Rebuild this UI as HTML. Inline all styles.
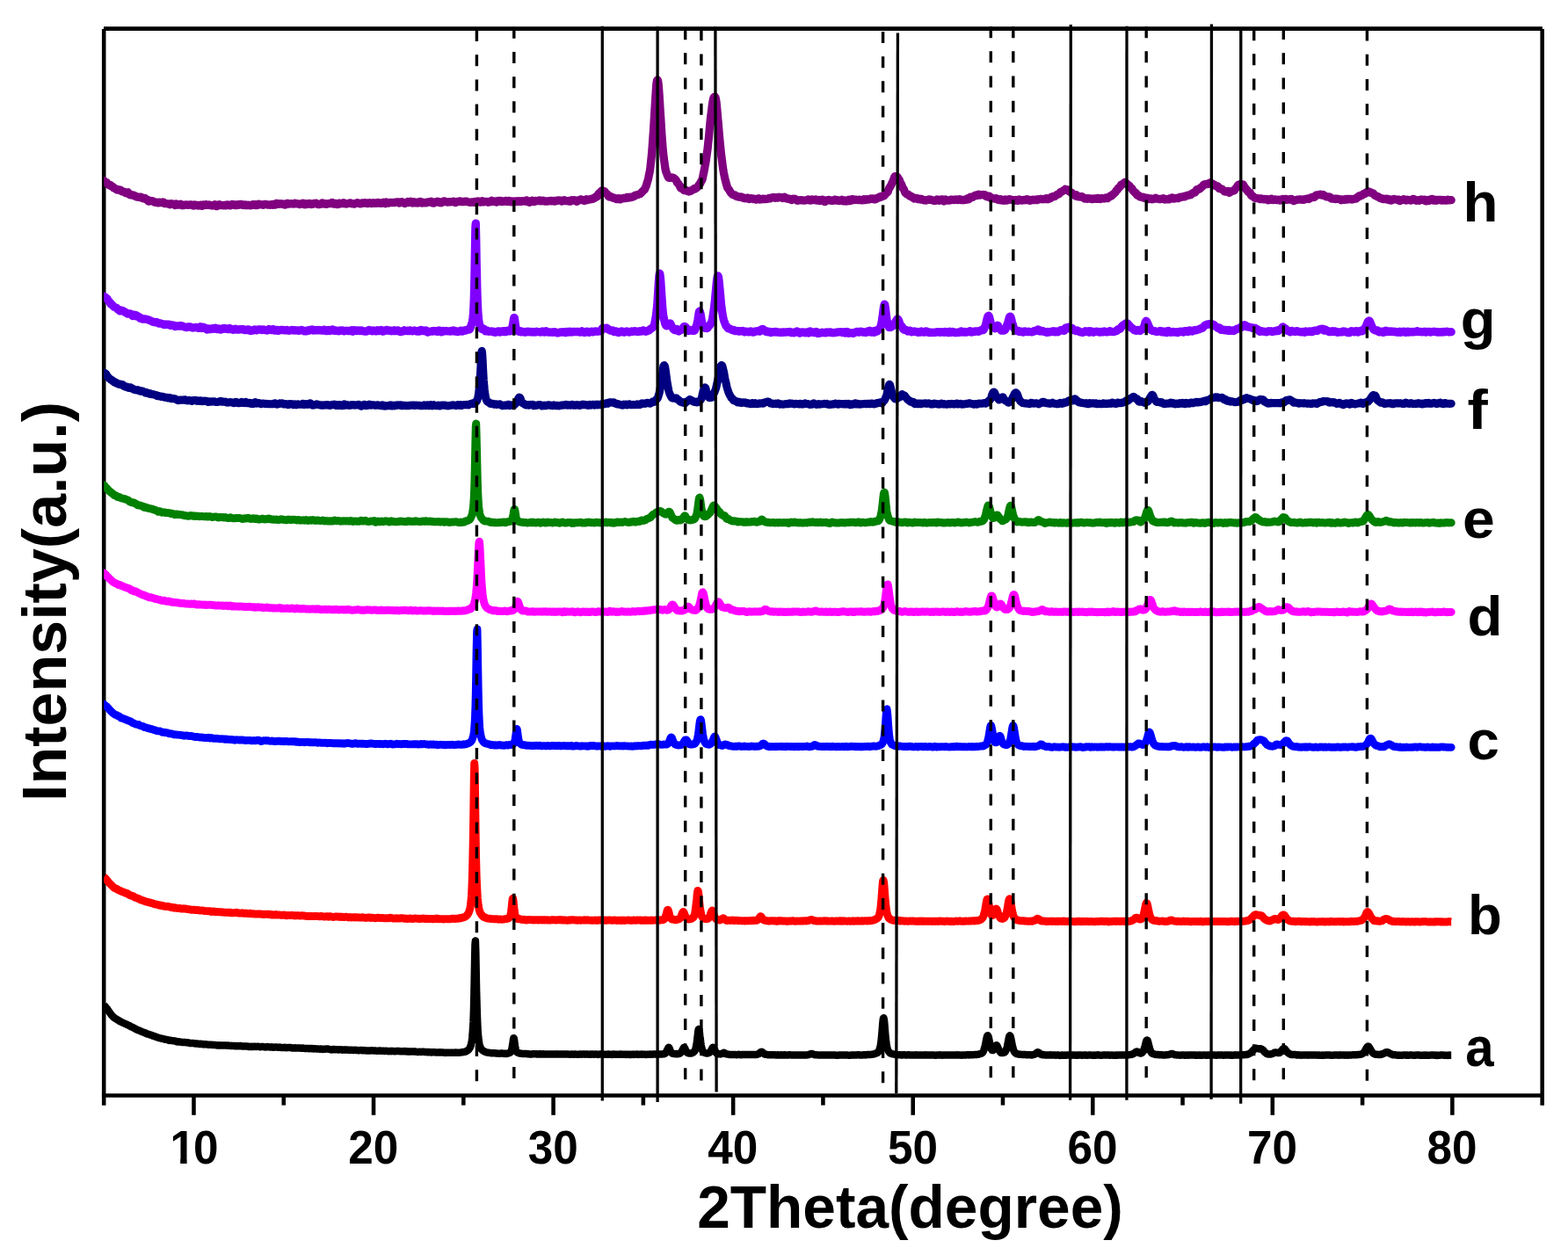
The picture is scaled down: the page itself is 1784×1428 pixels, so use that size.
<!DOCTYPE html>
<html lang="en"><head><meta charset="utf-8"><title>XRD patterns</title>
<style>html,body{margin:0;padding:0;background:#fff;}body{width:1784px;height:1428px;overflow:hidden;}svg{display:block;}text{font-family:"Liberation Sans",sans-serif;font-weight:bold;fill:#000;}.c{fill:none;stroke-linejoin:round;}</style></head><body>
<svg width="1784" height="1428" viewBox="0 0 1784 1428">
<rect width="1784" height="1428" fill="#fff"/>
<g stroke="#000" stroke-width="4.55" fill="none" stroke-linecap="butt">
<line x1="118.0" y1="32.6" x2="1754.9" y2="32.6"/>
<line x1="115.9" y1="1246.4" x2="1756.9" y2="1246.4"/>
<line x1="118.2" y1="32.9" x2="118.2" y2="1257.7"/>
<line x1="1754.7" y1="32.9" x2="1754.7" y2="1257.7"/>
<line x1="220.48" y1="1246.4" x2="220.48" y2="1268.8"/>
<line x1="425.03" y1="1246.4" x2="425.03" y2="1268.8"/>
<line x1="629.59" y1="1246.4" x2="629.59" y2="1268.8"/>
<line x1="834.15" y1="1246.4" x2="834.15" y2="1268.8"/>
<line x1="1038.70" y1="1246.4" x2="1038.70" y2="1268.8"/>
<line x1="1243.26" y1="1246.4" x2="1243.26" y2="1268.8"/>
<line x1="1447.82" y1="1246.4" x2="1447.82" y2="1268.8"/>
<line x1="1652.37" y1="1246.4" x2="1652.37" y2="1268.8"/>
<line x1="322.76" y1="1246.4" x2="322.76" y2="1257.6"/>
<line x1="527.31" y1="1246.4" x2="527.31" y2="1257.6"/>
<line x1="731.87" y1="1246.4" x2="731.87" y2="1257.6"/>
<line x1="936.43" y1="1246.4" x2="936.43" y2="1257.6"/>
<line x1="1140.98" y1="1246.4" x2="1140.98" y2="1257.6"/>
<line x1="1345.54" y1="1246.4" x2="1345.54" y2="1257.6"/>
<line x1="1550.09" y1="1246.4" x2="1550.09" y2="1257.6"/>
</g>
<defs><clipPath id="cp"><rect x="118.2" y="0" width="1700" height="1428"/></clipPath></defs><g clip-path="url(#cp)">
<path class="c" transform="scale(.1)" stroke="#000000" stroke-width="85.0" stroke-linecap="butt" d="M1182 11438l4 4 4 4 4 5 4 5 5 5 4 5 4 5 4 4 4 5 4 5 4 6 4 6 4 5 4 7 5 6 4 6 4 6 4 5 4 5 4 6 4 5 4 5 4 4 4 5 5 4 4 5 4 4 4 3 4 3 4 2 4 3 4 3 4 3 4 2 5 3 4 2 4 3 4 3 4 2 4 2 4 3 4 2 4 3 4 3 5 1 4 2 4 2 4 3 4 2 4 2 4 2 4 2 4 1 4 2 5 2 4 2 4 2 4 2 4 2 4 1 4 2 4 2 4 2 4 2 5 2 4 2 4 2 4 1 4 2 4 2 4 2 4 3 4 2 4 3 5 3 4 2 4 1 4 1 4 2 4 2 4 2 4 2 4 3 4 2 5 1 4 2 4 3 4 2 4 3 4 3 4 2 4 2 4 1 4 2 5 1 4 2 4 1 4 2 4 2 4 2 4 1 4 2 4 2 4 2 5 2 4 1 4 2 4 1 4 2 4 1 4 2 4 1 4 2 4 1 5 2 4 2 4 3 4 2 4 2 4 2 4 1 4 1 4 0 4 1 5 1 4 1 4 2 4 2 4 1 4 1 4 1 4 2 4 1 4 2 5 2 4 2 4 1 4 1 4 1 4 2 4 2 4 1 4 2 4 2 5 1 4 1 4 1 4 1 4 2 4 1 4 2 4 1 4 1 4 2 5 1 4 1 4 1 4 1 4 1 4 1 4 0 4 1 4 1 4 1 5 1 4 1 4 1 4 1 4 2 4 1 4 1 4 1 4 1 4 0 5 1 4 0 4 1 4 1 4 2 4 2 4 1 4 1 4-1 4 0 5 0 4 0 4 1 4 1 4 1 4 1 4 0 4 0 4 1 4 0 5 1 4 0 4 0 4 1 4 1 4 2 4 3 4 2 4 1 4 1 5-1 4 0 4-1 4 0 4 0 4 1 4 1 4 1 4 1 4 0 5 1 4 0 4 1 4 0 4 1 4 0 4-1 4 1 4 0 4 1 5 0 4 0 4 1 4 0 4 1 4 0 4 0 4 0 4 0 4 1 5 1 4 2 4 1 4 1 4 0 4 0 4 0 4 1 4 0 4 0 5 0 4 0 4 0 4 0 4 0 4 1 4 1 4 1 4 1 4 0 5 1 4 0 4 0 4 0 4 1 4 0 4 1 4 0 4 1 4 1 5 0 4 0 4-1 4 0 4 0 4 1 4 0 4 0 4 1 4 0 5 1 4 2 4 1 4-1 4 0 4 0 4-1 4 0 4 1 4 0 5 1 4 1 4 1 4 0 4 1 4 0 4 0 4 0 4 0 4 0 5 0 4 0 4 1 4 0 4 0 4 0 4 1 4 0 4 0 4 0 5 1 4 0 4 0 4 0 4 0 4 1 4 1 4 1 4 0 4 1 5 0 4 0 4 0 4-1 4 0 4 0 4 1 4 1 4 0 4 1 5 0 4 0 4-1 4 0 4 0 4 0 4 0 4 1 4 0 4 0 5 0 4 0 4 0 4 0 4 0 4 0 4 1 4 0 4 0 4-1 5 0 4 1 4 0 4 1 4 1 4 1 4 0 4-1 4 0 4-1 5 1 4 1 4 1 4 0 4 0 4 0 4 0 4 0 4 1 4 0 5 0 4 0 4-1 4 0 4 0 4 1 4 1 4 0 4 0 4 0 5-1 4 0 4-1 4 0 4 0 4 0 4 1 4 1 4 1 4 0 5 0 4 1 4 0 4 0 4 0 4 0 4 1 4 0 4-1 4 0 5 0 4 0 4 0 4 0 4 1 4 2 4 1 4 0 4-1 4 1 5 0 4 2 4 0 4-1 4-2 4 0 4 0 4 1 4 0 4 0 5 0 4-1 4 0 4 0 4 0 4 0 4 1 4 0 4 0 4 0 5-1 4 0 4 0 4 0 4 1 4 1 4 1 4 0 4 1 4 0 5 0 4-1 4-1 4-1 4 0 4 1 4 1 4 0 4 0 4 1 5 1 4 0 4 1 4 0 4 0 4-1 4 0 4-1 4-1 4 0 5 1 4 0 4 1 4 0 4 1 4 1 4 0 4 0 4-1 4 0 5-1 4 0 4 1 4 1 4 2 4 0 4 0 4 0 4-1 4 0 5 0 4 0 4 0 4 0 4 0 4 0 4 0 4 1 4 0 4 0 5 0 4 0 4 0 4-1 4 1 4 1 4 1 4 0 4 0 4 0 5 0 4 0 4 0 4 0 4 0 4 0 4-1 4 0 4 1 4 1 5 1 4 1 4 0 4-1 4-1 4 0 4 0 4 1 4 0 4 0 5 0 4 0 4 0 4 0 4 0 4 1 4 1 4 2 4 1 4 0 5-1 4 0 4 0 4-1 4-1 4 0 4 0 4 1 4 0 4 0 5 0 4 1 4 0 4 1 4-1 4 0 4 0 4-1 4 0 4 0 5 1 4 1 4 1 4 1 4 0 4-1 4-1 4 0 4 0 4 0 5 2 4 1 4 1 4 0 4 0 4-1 4 0 4 0 4 0 4 0 5 1 4 0 4 1 4 0 4 1 4 0 4 0 4-1 4 0 4 0 5 0 4 1 4 0 4-1 4 0 4 1 4 1 4 1 4 0 4-1 5-1 4 0 4 1 4 0 4 1 4 0 4 0 4 0 4 0 4 1 5 0 4 0 4 1 4 1 4 0 4 0 4-1 4 0 4 0 4 1 5 1 4 1 4 0 4-1 4-1 4 0 4 0 4 0 4 0 4 0 5 0 4-1 4 0 4 0 4 0 4 0 4 0 4 0 4 1 4 1 5 1 4 1 4 0 4 1 4 1 4 1 4 1 4 0 4-1 4-1 5-1 4 0 4 0 4 1 4-1 4 0 4 1 4 0 4 1 4 0 5 0 4 0 4 0 4 0 4 0 4 1 4 0 4 0 4 0 4-1 5 0 4 0 4 0 4 0 4 1 4 1 4 1 4 1 4 0 4-1 5 0 4 0 4 0 4 0 4 1 4-1 4 0 4 0 4 0 4 0 5 0 4 1 4 0 4 0 4 0 4 0 4 0 4 0 4 0 4 0 5 0 4 0 4 0 4 0 4 1 4 0 4 1 4 0 4 0 4 0 5-1 4 0 4 0 4 0 4 1 4 1 4 1 4 0 4 0 4 0 5 1 4 0 4 0 4 0 4-1 4-1 4 0 4 0 4 1 4 0 5 1 4 0 4 0 4-1 4 0 4 1 4 0 4 1 4 0 4 0 5 0 4 0 4 1 4 0 4 1 4 0 4-1 4 0 4 0 4 0 5 0 4 0 4 0 4 0 4 1 4-1 4 0 4-1 4 0 4 0 5 1 4 1 4 0 4 0 4 0 4 0 4 0 4 1 4 0 4 0 5 1 4 0 4 1 4 0 4 0 4-1 4 0 4 0 4-1 4-1 5 0 4 1 4 0 4 1 4 1 4 0 4 0 4 0 4 0 4-1 5 0 4 1 4 0 4 1 4 0 4 0 4-1 4 0 4 0 4 0 5 1 4 0 4 0 4 0 4 1 4 2 4 0 4 0 4-1 4-1 5 0 4 1 4 0 4 1 4-1 4 0 4-1 4 0 4 1 4 0 5 1 4 0 4 0 4 0 4 0 4-1 4 0 4 0 4 0 4 0 5 0 4-1 4 0 4 0 4 0 4 0 4 2 4 0 4 1 4 0 5 0 4 0 4 0 4 0 4 0 4 0 4-1 4 0 4 0 4-1 5 0 4 1 4 1 4 1 4 1 4 0 4-1 4-1 4 0 4 1 5 1 4 1 4 1 4-1 4 0 4 0 4 0 4 0 4 0 4 0 5 0 4 0 4-1 4 0 4 0 4 0 4 1 4 0 4-1 4 1 5 0 4 1 4 1 4 0 4 1 4 0 4 0 4 0 4 0 4 0 5-1 4 0 4 0 4 1 4 1 4 0 4 0 4-1 4-1 4-1 5 0 4 0 4 1 4 1 4 1 4 1 4 0 4 0 4 0 4 0 5 0 4 1 4 0 4 0 4 0 4-1 4 0 4 0 4 1 4 0 5 0 4 0 4 1 4 1 4 0 4 0 4-1 4 0 4 0 4 0 5 0 4 0 4 0 4 0 4 0 4 1 4 0 4 0 4 0 4 1 5 0 4 0 4 0 4 0 4-1 4 0 4 0 4-1 4 0 4 1 5 0 4 1 4 1 4 0 4 0 4 0 4 0 4 0 4 1 4 0 5 1 4 0 4 0 4 1 4-1 4 0 4-1 4 0 4 0 4 0 5 0 4 0 4 0 4 0 4 0 4 0 4 1 4 0 4 0 4 0 5 0 4-1 4 1 4 0 4 0 4 0 4 0 4-1 4 0 4 0 5 0 4-1 4 0 4 1 4 0 4 0 4 0 4 0 4 0 4 0 5 0 4 0 4 0 4 0 4-1 4-1 4 0 4-1 4-1 4 0 5 0 4-1 4-1 4 0 4-1 4 0 4-1 4-1 4-1 4-2 5-2 4-3 4-2 4-2 4-3 4-2 4-3 4-4 4-5 4-6 5-7 4-8 4-9 4-11 4-13 4-18 4-23 4-32 4-42 4-60 5-83 4-117 4-157 4-201 4-225 4-181 4-40 4 129 4 218 4 217 5 178 4 132 4 96 4 69 4 50 4 37 4 27 4 20 4 17 4 13 5 10 4 9 4 7 4 5 4 4 4 4 4 3 4 2 4 3 4 4 5 3 4 2 4 2 4 1 4 1 4 1 4 2 4 2 4 1 4 1 5 1 4 0 4 0 4 1 4 1 4 1 4 0 4 1 4 0 4 1 5 1 4 0 4 0 4 0 4 0 4 0 4 0 4 0 4 0 4 0 5 0 4 1 4 1 4 0 4 1 4 0 4 0 4 0 4 1 4 1 5 0 4 0 4 0 4 0 4 0 4-1 4 0 4-1 4 0 4 0 5 0 4 0 4 1 4 0 4 1 4 1 4 0 4-1 4-1 4 0 5 1 4 1 4 0 4 0 4-1 4-1 4-2 4-1 4-1 4-1 5-2 4-1 4-2 4-3 4-5 4-8 4-10 4-15 4-20 4-26 5-31 4-30 4-17 4 5 4 25 4 31 4 29 4 24 4 18 4 13 5 9 4 5 4 3 4 3 4 1 4 2 4 2 4 1 4 1 4 1 5 1 4 1 4 1 4 0 4 0 4 0 4 1 4 0 4 0 4 0 5 0 4 1 4 1 4 0 4 0 4-1 4 0 4 0 4 0 4 1 5 1 4 1 4 0 4 0 4 0 4 1 4 0 4 0 4 0 4 0 5 0 4 0 4 0 4 0 4-1 4 0 4-1 4 0 4 1 4 0 5 0 4 0 4-1 4 0 4 0 4 1 4 1 4 0 4 0 4 0 5 0 4-1 4 0 4 1 4 0 4-1 4-1 4 0 4 1 4 2 5 0 4 0 4 0 4-1 4-1 4 0 4 0 4 2 4 1 4 0 5-1 4 0 4-1 4 0 4 1 4 0 4-1 4 0 4 1 4 0 5 0 4 0 4-1 4 0 4 0 4 0 4 0 4 0 4 0 4 1 5 0 4 0 4-1 4 0 4 0 4 1 4 0 4 0 4 0 4 0 5 1 4-1 4 0 4 0 4 1 4 0 4 0 4 0 4 0 4 0 5-1 4 0 4 0 4 0 4 0 4 1 4 0 4 0 4 0 4 0 5-1 4-1 4 0 4 0 4 0 4 0 4 0 4 0 4 1 4 0 5 0 4 0 4-1 4 1 4 0 4 1 4 1 4 0 4 1 4 0 5-1 4-1 4-1 4 0 4 0 4 0 4 2 4 1 4 0 4-1 5-1 4 0 4 0 4 0 4 0 4 1 4 0 4 0 4 0 4 0 5 0 4 0 4 1 4 0 4-1 4-1 4 0 4 0 4 0 4 0 5 1 4 0 4-1 4 0 4 0 4 0 4 0 4 0 4 0 4 0 5 0 4 1 4 0 4-1 4-1 4 0 4 0 4 1 4 0 4 1 5 0 4 0 4 0 4 0 4 0 4-1 4 0 4 0 4 1 4 0 5-1 4 0 4 0 4 0 4 1 4 0 4 0 4-1 4-1 4 0 5 0 4 1 4 0 4 1 4 1 4 1 4 1 4-1 4-1 4-1 5 0 4-1 4 0 4-1 4 0 4 1 4 0 4 0 4 1 4 1 5 0 4 0 4-1 4 0 4 0 4 0 4 0 4 1 4-1 4 0 5 0 4 0 4 0 4 0 4-1 4 0 4 0 4 1 4 0 4 0 5 0 4 0 4 0 4 1 4 1 4 0 4-1 4-1 4 0 4-1 5 0 4 0 4 1 4 0 4 0 4 0 4 0 4 1 4 0 4 0 5 0 4 0 4 0 4 0 4-1 4 0 4 0 4 0 4-1 4 0 5 0 4 1 4 0 4 0 4 0 4 0 4 0 4 0 4 1 4 0 5 0 4 0 4 0 4 1 4 0 4-1 4 0 4-1 4 0 4 0 5 1 4 0 4 1 4 0 4 0 4-1 4 0 4 0 4 1 4 0 5-1 4 0 4 0 4 0 4 1 4-1 4 0 4 0 4 0 4 0 5 0 4 0 4-1 4-1 4-1 4 0 4 1 4 1 4 2 4 0 5-1 4-1 4 0 4 0 4 0 4 0 4 0 4-1 4 0 4 1 5 0 4 1 4 0 4-1 4 0 4 1 4 0 4 0 4 0 4 1 5 0 4 0 4-1 4 0 4-1 4 0 4 0 4 0 4 0 4 0 5-1 4 0 4 0 4 1 4 0 4 1 4 0 4-1 4-1 4 0 5 0 4 0 4 0 4 0 4 0 4 0 4 0 4 0 4 0 4 1 5 0 4 0 4-1 4-1 4-1 4 0 4 0 4 1 4 0 4 0 5 0 4 0 4 0 4-1 4 0 4 0 4-1 4 0 4 0 4 0 5-1 4-2 4-2 4-4 4-4 4-5 4-7 4-8 4-9 4-10 5-9 4-9 4-5 4 1 4 6 4 10 4 11 4 11 4 9 4 7 5 5 4 4 4 3 4 2 4 1 4 2 4 0 4 1 4 0 4 0 5 1 4 0 4 0 4 0 4-1 4 0 4 1 4 0 4 0 4 0 5-1 4-1 4-2 4-2 4-2 4-3 4-4 4-5 4-5 4-6 5-8 4-8 4-9 4-8 4-7 4-2 4 2 4 6 4 8 4 10 5 8 4 8 4 7 4 5 4 4 4 3 4 2 4 1 4 1 4 0 5 0 4 0 4 0 4 0 4 0 4 0 4 0 4-2 4-2 4-3 5-2 4-2 4-3 4-4 4-5 4-7 4-9 4-12 4-16 4-21 5-25 4-31 4-35 4-36 4-33 4-22 4-5 4 15 4 28 4 36 5 36 4 34 4 28 4 24 4 18 4 15 4 11 4 8 4 5 4 3 5 3 4 3 4 2 4 2 4 1 4 2 4 1 4 1 4 0 4 0 5 0 4-1 4-1 4-2 4-1 4-2 4-3 4-4 4-4 4-6 5-8 4-8 4-9 4-8 4-7 4-3 4 0 4 5 4 8 4 9 5 8 4 9 4 8 4 7 4 7 4 4 4 3 4 3 4 2 4 1 5 0 4 1 4 0 4-1 4 1 4 0 4 1 4-1 4-1 4-2 5-1 4-2 4-2 4-3 4-2 4-2 4 0 4 2 4 3 4 4 5 3 4 2 4 1 4 0 4 1 4 0 4 1 4 1 4 1 4 1 5 1 4 0 4 0 4 0 4 0 4 0 4 0 4 1 4 0 4-1 5 0 4 0 4 1 4 0 4 0 4-1 4 0 4 0 4 1 4 1 5 1 4 0 4 0 4-1 4-1 4-1 4-1 4 0 4 1 4 1 5 1 4 1 4 0 4 0 4 0 4-1 4 0 4 0 4-1 4-1 5 0 4 0 4 1 4 0 4 1 4 0 4 0 4 0 4 0 4 0 5 0 4 0 4 0 4 0 4-1 4 0 4 0 4 0 4 0 4 0 5-1 4 0 4 1 4 0 4 0 4 0 4 0 4 0 4 1 4 0 5 0 4-1 4-1 4 0 4 1 4 0 4 0 4-1 4-2 4-1 5-2 4-1 4-2 4-2 4-3 4-4 4-5 4-3 4-3 4-2 5-1 4 1 4 2 4 3 4 4 4 4 4 4 4 4 4 3 4 2 5 2 4 0 4 0 4 1 4 0 4 2 4 1 4 1 4 0 4 0 5 0 4 0 4 0 4 0 4 1 4 0 4 0 4 0 4 0 4 0 5 0 4 0 4 0 4 0 4 0 4 0 4-1 4 1 4 0 4 1 5 0 4 0 4 0 4 0 4-1 4 0 4 0 4 1 4 1 4 0 5 0 4 0 4 0 4-1 4-1 4 0 4 0 4 1 4 0 4 0 5 0 4 0 4-1 4 0 4 0 4 0 4 1 4 0 4 0 4 0 5 1 4 0 4 1 4-1 4-1 4 0 4-1 4 0 4-1 4 0 5 1 4 1 4 0 4 0 4 0 4 1 4 0 4 0 4 1 4 0 5 0 4-1 4 0 4 0 4 1 4 0 4-1 4 0 4 0 4-1 5 0 4 0 4 0 4 0 4 1 4 1 4 0 4 0 4 0 4-1 5 0 4 0 4 0 4 0 4 0 4-1 4 0 4 0 4 1 4 0 5 0 4 0 4 1 4 0 4 0 4-1 4-1 4-1 4 0 4-1 5-1 4-2 4-1 4-1 4-1 4-1 4-2 4-2 4-1 4 0 5 1 4 1 4 1 4 2 4 1 4 2 4 1 4 2 4 1 4 1 5-1 4 0 4 0 4 1 4 0 4 1 4 1 4 0 4-1 4 0 5 0 4 1 4 1 4 0 4-1 4 0 4 0 4 1 4 0 4 0 5 0 4 0 4 0 4 0 4 0 4-1 4 0 4-1 4 0 4 1 5 0 4 1 4 0 4 0 4 0 4 0 4 0 4-1 4 0 4 0 5 0 4 0 4 0 4 0 4 1 4 0 4 0 4-1 4 1 4 0 5 0 4-1 4-1 4 0 4 0 4 1 4 1 4 1 4 1 4 0 5 0 4 0 4 0 4-1 4-1 4 0 4 0 4 0 4 0 4 0 5 0 4 0 4 0 4-1 4 0 4-1 4 0 4 0 4 0 4 0 5 0 4 1 4 0 4 0 4-1 4 0 4 1 4 0 4 1 4 0 5 1 4 0 4 1 4 0 4 0 4 0 4-1 4 0 4-1 4 0 5 0 4 0 4-1 4 0 4 0 4 0 4 0 4 0 4 0 4 1 5 0 4-1 4 0 4-1 4 0 4-1 4 0 4 0 4-1 4 0 5 1 4 1 4 0 4 0 4 0 4 0 4 0 4 1 4-1 4 0 5 0 4 0 4-1 4 0 4-1 4 0 4 1 4 0 4 1 4 0 5-1 4-1 4 0 4-1 4 0 4-1 4 1 4 0 4 0 4-1 5 0 4 0 4 0 4 0 4-1 4-1 4 0 4-1 4 0 4-1 5 0 4-1 4-2 4-1 4-1 4-1 4-2 4-2 4-2 4-1 5-1 4-2 4-3 4-3 4-5 4-6 4-8 4-10 4-12 4-15 5-20 4-26 4-32 4-38 4-46 4-50 4-50 4-43 4-27 4-3 5 21 4 39 4 49 4 51 4 47 4 40 4 34 4 27 4 21 4 18 5 13 4 10 4 7 4 7 4 5 4 5 4 3 4 3 4 1 4 2 5 2 4 1 4 2 4 1 4 1 4 1 4 1 4 0 4 1 4 1 5 0 4 1 4 0 4 0 4 1 4 1 4 0 4 1 4 1 4 0 5 0 4 0 4 0 4 0 4 0 4 0 4 1 4 1 4 1 4 1 5-1 4-1 4-1 4-1 4 0 4 0 4 0 4 1 4 0 4 1 5 0 4 0 4 0 4 0 4 0 4 0 4-1 4-1 4 0 4 1 5 1 4 0 4 0 4 1 4 0 4 0 4 0 4 0 4 0 4-1 5 0 4 0 4 0 4 1 4-1 4 0 4 0 4 0 4-1 4 0 5 1 4 1 4 0 4 0 4-1 4 0 4 0 4 1 4 1 4 0 5 0 4-1 4 0 4 0 4 0 4 0 4 0 4 0 4 0 4 0 5 0 4 0 4 0 4-1 4-1 4 0 4 1 4 1 4 0 4 1 5 0 4-1 4-1 4 0 4 0 4 1 4 0 4 0 4 0 4 0 5 0 4 0 4 0 4 1 4 0 4-1 4 0 4 0 4 0 4 0 5 1 4 1 4 1 4 0 4-1 4-1 4-1 4 0 4-1 4 0 5 0 4 0 4 0 4 0 4-1 4 0 4 1 4 0 4 1 4 1 5 0 4 1 4 0 4-1 4 0 4 0 4 0 4 0 4 0 4-1 5-1 4 0 4 0 4 0 4 0 4 1 4 0 4 0 4 0 4 0 5 0 4 0 4 0 4 0 4 0 4 1 4 0 4 0 4 0 4-1 5-1 4 0 4 0 4 0 4 0 4 0 4 0 4 1 4 0 4 1 5-1 4-1 4 0 4-1 4 0 4 1 4 1 4 1 4 0 4 0 5-1 4 0 4 0 4 1 4 1 4 0 4-1 4 0 4-1 4 0 5 0 4 0 4 0 4 0 4-1 4 0 4 0 4 0 4 0 4-1 5 0 4 0 4 0 4 0 4 0 4 0 4 1 4 0 4-1 4 0 5 0 4 0 4-1 4 0 4 0 4 0 4 0 4 0 4 0 4 0 5-1 4 0 4 0 4 0 4-1 4 0 4-1 4 0 4 0 4-1 5 0 4-1 4 0 4-1 4-1 4-2 4-2 4-1 4-1 4-2 5-1 4-2 4-3 4-3 4-5 4-7 4-8 4-10 4-13 4-15 5-16 4-18 4-19 4-21 4-21 4-18 4-15 4-8 4-1 4 7 5 14 4 19 4 21 4 21 4 20 4 17 4 15 4 13 4 9 4 6 5 4 4 2 4 0 4-3 4-5 4-6 4-8 4-8 4-8 4-8 5-6 4-5 4-1 4 4 4 6 4 9 4 9 4 9 4 9 4 8 5 8 4 7 4 7 4 5 4 3 4 3 4 1 4 0 4 0 4-1 5-1 4-1 4-1 4 0 4-2 4-3 4-4 4-7 4-8 4-10 5-11 4-14 4-17 4-19 4-21 4-22 4-21 4-18 4-12 4-4 5 4 4 11 4 17 4 20 4 20 4 20 4 19 4 17 4 16 4 15 5 12 4 9 4 7 4 5 4 4 4 3 4 3 4 3 4 2 4 1 5 0 4 1 4 2 4 1 4 0 4 1 4 0 4 0 4 0 4 1 5 0 4 1 4 1 4 0 4 0 4 0 4 0 4 0 4 1 4-1 5 0 4 0 4 1 4 0 4 1 4 0 4 0 4 0 4 0 4 0 5 1 4 0 4 0 4-1 4 0 4 0 4 1 4 1 4 1 4 0 5 0 4-1 4-2 4-1 4 0 4-1 4-1 4-2 4-2 4-1 5-2 4-4 4-4 4-3 4-4 4-2 4-2 4 0 4 2 4 2 5 3 4 4 4 3 4 4 4 3 4 2 4 2 4 2 4 1 4 1 5 0 4-1 4 0 4 0 4 1 4 1 4 1 4 0 4 1 4 0 5 0 4 0 4 1 4 0 4 0 4 0 4 0 4 0 4-1 4-1 5 0 4-1 4 0 4 1 4 1 4 0 4 0 4-1 4 0 4 0 5 1 4 0 4 1 4 0 4 0 4 0 4 1 4 0 4 0 4-1 5-1 4 0 4 0 4 1 4 0 4 1 4 1 4 0 4 1 4-1 5 0 4-1 4 0 4-1 4 0 4 0 4 0 4 1 4 0 4 0 5 0 4-1 4 0 4 1 4 0 4 0 4 0 4-1 4 0 4 0 5 0 4 0 4 0 4-1 4 1 4-1 4 0 4 1 4 1 4 1 5 0 4-1 4-1 4-2 4 0 4 1 4 0 4 0 4 0 4 1 5 1 4 0 4 0 4-1 4 0 4 0 4 1 4 1 4-1 4-1 5-1 4 0 4 1 4 0 4 0 4 0 4 0 4 0 4 1 4 0 5 0 4 0 4-1 4-1 4-1 4 1 4 1 4 1 4-1 4 0 5 0 4 0 4 1 4 0 4 0 4 0 4 0 4-1 4 0 4 0 5 0 4 0 4-1 4 0 4 0 4 0 4 1 4 1 4 0 4 0 5 1 4-1 4 0 4-1 4 0 4 1 4 0 4 0 4 0 4-1 5-1 4-1 4 0 4-1 4 0 4 1 4 1 4 0 4 1 4 1 5 1 4 0 4 0 4 0 4-1 4 0 4-1 4-1 4 0 4 0 5 0 4 1 4 0 4 0 4 0 4 0 4 0 4 0 4-1 4 0 5 0 4 0 4 0 4 0 4 1 4 0 4 1 4 0 4 0 4 0 5-1 4 0 4 0 4 0 4 0 4 1 4 1 4 0 4-1 4 0 5 0 4 0 4 0 4-1 4 0 4-1 4 1 4 1 4 0 4-1 5 0 4 0 4-1 4 0 4-1 4 0 4 0 4 1 4 0 4 0 5 0 4-1 4 0 4 1 4 0 4 0 4 1 4 0 4 0 4 0 5-1 4-1 4 0 4 0 4 1 4 0 4 0 4 0 4-1 4-1 5-1 4-1 4-1 4 0 4 1 4-1 4-1 4-1 4-1 4-1 5-2 4-2 4-3 4-2 4-2 4-3 4-3 4-4 4-3 4-3 5-2 4-1 4 0 4 1 4 2 4 3 4 3 4 3 4 2 4 2 5 2 4 1 4 1 4-1 4-2 4-2 4-3 4-5 4-5 4-6 5-8 4-10 4-11 4-13 4-15 4-17 4-16 4-15 4-13 4-7 5-2 4 5 4 11 4 15 4 17 4 18 4 16 4 14 4 12 4 11 5 9 4 8 4 7 4 5 4 3 4 2 4 2 4 1 4 1 4 1 5 2 4 1 4 2 4 1 4 1 4 0 4 1 4-1 4 0 4 0 5 0 4 1 4 0 4 1 4 1 4 0 4 0 4 0 4 0 4-1 5 1 4 0 4 1 4 1 4 0 4-1 4 0 4 0 4 0 4 0 5 0 4 0 4-1 4 0 4-1 4 0 4 0 4 0 4 0 4-1 5-1 4-1 4-1 4-2 4-1 4-2 4-1 4-1 4-1 4 0 5 0 4 2 4 2 4 2 4 2 4 2 4 1 4 1 4 1 4 0 5 0 4 1 4 1 4 0 4 0 4 0 4 0 4 0 4 0 4 1 5 1 4 0 4 0 4-1 4-1 4 0 4-1 4 0 4 0 4 0 5 1 4 0 4 0 4 0 4 2 4 1 4 0 4-1 4-1 4 0 5 0 4 0 4 0 4 1 4 0 4 0 4-1 4 0 4 0 4 0 5 0 4-1 4 0 4 0 4 0 4 0 4 0 4 0 4 0 4 0 5 1 4 0 4 1 4-1 4 0 4 0 4 1 4 0 4 1 4 0 5-1 4-1 4 0 4 0 4 0 4 1 4 0 4-1 4 0 4 0 5 1 4 1 4 0 4-1 4-1 4 0 4 0 4 0 4 0 4 0 5 0 4 0 4 1 4 0 4 0 4-1 4 1 4 0 4-1 4 0 5 0 4 0 4 1 4 0 4-1 4 0 4 0 4 1 4-1 4-1 5-1 4 0 4 1 4 0 4 0 4 0 4 0 4 0 4 1 4 0 5 1 4 0 4 0 4 0 4-1 4-1 4-1 4 0 4 0 4 1 5 0 4 0 4 0 4 0 4 0 4 0 4 1 4 0 4 0 4 0 5 0 4 1 4 0 4 0 4 0 4-1 4 0 4-1 4 1 4 0 5 0 4 0 4 0 4 0 4 0 4 0 4 0 4 0 4 0 4 0 5 0 4 1 4 0 4-1 4-1 4 0 4 1 4 1 4 0 4 0 5-1 4-1 4-1 4 0 4-1 4 1 4 0 4 1 4 0 4 0 5 0 4 1 4-1 4 0 4-1 4 0 4 0 4 0 4-1 4 0 5-1 4 0 4-1 4 0 4 1 4 0 4 0 4 0 4 1 4-1 5 0 4-1 4-1 4 0 4-1 4 0 4 0 4 0 4 0 4-2 5-2 4-3 4-2 4-1 4-1 4-2 4-3 4-3 4-3 4-3 5-4 4-5 4-4 4-5 4-5 4-4 4-3 4-4 4-3 4-3 5-3 4-2 4-1 4 0 4 1 4 1 4 0 4 1 4 1 4 1 5 1 4 0 4 0 4-1 4 0 4 0 4 1 4 1 4 3 4 3 5 3 4 3 4 3 4 5 4 5 4 5 4 5 4 3 4 4 4 4 5 3 4 3 4 3 4 1 4 2 4 1 4 1 4 0 4 1 4 0 5 0 4 0 4 0 4-1 4 0 4-2 4-1 4-2 4-2 4-1 5-2 4-2 4-3 4-3 4-1 4-1 4 0 4 0 4 0 4 1 5 1 4 1 4 2 4 1 4 0 4 0 4 0 4-1 4-3 4-3 5-5 4-4 4-5 4-5 4-5 4-6 4-5 4-4 4-3 4-2 5 0 4 2 4 4 4 5 4 5 4 5 4 6 4 5 4 5 4 5 5 4 4 4 4 3 4 2 4 2 4 3 4 3 4 2 4 2 4 2 5 1 4 0 4 1 4 0 4 0 4-1 4 0 4 1 4 0 4 0 5 0 4 0 4 0 4 1 4 1 4 2 4 1 4-1 4-1 4-1 5 0 4 1 4 0 4 0 4 0 4 0 4 1 4 2 4 0 4 0 5-1 4-1 4-1 4 0 4 1 4 0 4 0 4-1 4 0 4 0 5 1 4 0 4-1 4 1 4 1 4 0 4 1 4-1 4 0 4 0 5 0 4 0 4 0 4-1 4 0 4 0 4 1 4 0 4 0 4-1 5 0 4 0 4 1 4 0 4 0 4 0 4 0 4 0 4 0 4 0 5 0 4 0 4 0 4 1 4 0 4 0 4-1 4 0 4 0 4 0 5 1 4 1 4 0 4 0 4 0 4-1 4-1 4 0 4 0 4 1 5 0 4 0 4 0 4-1 4-1 4 0 4 0 4 1 4 0 4-1 5-1 4 0 4 0 4 0 4 1 4 0 4 1 4 0 4 0 4 1 5 0 4 0 4 1 4 0 4 0 4-1 4 0 4-2 4 0 4 0 5 1 4 0 4 0 4-1 4 0 4 0 4 0 4 0 4 0 4 1 5 0 4 1 4 0 4 0 4-1 4-2 4-1 4 1 4 0 4 1 5 0 4 1 4 0 4 0 4 0 4-1 4 1 4 0 4 0 4 1 5 0 4-1 4-1 4-1 4 1 4 1 4 1 4 0 4 0 4-1 5 0 4 0 4-1 4 0 4 0 4 0 4 0 4 0 4 0 4-1 5-1 4 0 4 0 4 0 4 0 4 0 4 0 4 0 4 0 4 0 5 0 4 0 4-1 4-1 4-1 4 0 4 0 4 0 4 0 4-1 5-1 4 0 4-1 4 0 4-1 4-1 4-2 4-2 4-3 4-4 5-3 4-5 4-5 4-5 4-6 4-6 4-8 4-8 4-7 4-8 5-6 4-6 4-3 4-2 4 1 4 3 4 5 4 6 4 7 4 7 5 8 4 7 4 6 4 7 4 6 4 6 4 4 4 4 4 3 4 2 5 3 4 2 4 2 4 2 4 1 4 0 4-1 4 0 4 0 4 1 5 1 4 0 4 0 4 0 4 0 4 0 4-1 4 0 4 1 4 0 5-2 4-1 4-2 4-1 4-2 4-2 4-1 4-2 4-1 4-2 5-3 4-3 4-3 4-2 4 0 4 0 4 0 4 1 4 1 4 2 5 2 4 3 4 3 4 2 4 2 4 1 4 2 4 1 4 2 4 2 5 3 4 2 4 1 4 1 4 0 4 0 4 0 4 0 4 0 4 0 5 1 4 0 4 1 4 1 4 1 4 0 4 0 4 0 4-1 4 0 5 1 4 0 4 0 4 0 4 0 4 0 4 1 4 0 4-1 4 0 5-1 4 0 4 0 4 0 4-1 4 0 4-1 4 1 4 1 4 1 5 0 4-1 4 0 4 0 4 1 4 0 4 0 4 0 4-1 4 0 5 0 4 0 4 0 4-1 4 0 4 0 4 0 4 1 4 1 4 0 5 0 4 0 4 0 4 1 4-1 4 0 4-1 4 0 4 0 4 0 5 0 4-1 4 1 4 0 4 0 4 0 4 1 4 0 4 0 4 0 5 0 4 1 4 0 4 0 4 0 4 0 4 0 4-1 4-1 4 0 5 0 4 1 4 0 4 0 4 0 4-1 4 0 4 1 4 0 4 0 5 0 4 0 4 1 4 0 4-1 4 0 4-1 4-1 4 0 4 1 5 0 4 0 4 0 4 0 4 0 4 0 4 0 4 1 4 0 4 0 5 0 4-1 4 1 4 1 4 1 4 0 4 0 4-1 4-1 4 0 5 0 4 0 4 0 4-1 4 0 4-1 4-1 4 0 4 0 4 1 5 0 4 1 4 0 4 1 4 0 4 1 4 0 4-1 4 0 4 0 5 0 4 0 4 1 4 0 4 1 4-1 4-1 4 0 4-1 4 0 5 0 4 1 4 0 4 0 4 0"/>
<path class="c" transform="scale(.1)" stroke="#ff0000" stroke-width="89.5" stroke-linecap="butt" d="M1182 9979l4 3 4 3 4 4 4 4 5 5 4 4 4 5 4 5 4 5 4 5 4 5 4 5 4 5 4 5 5 6 4 4 4 4 4 4 4 4 4 4 4 4 4 4 4 4 4 4 5 4 4 4 4 5 4 3 4 3 4 1 4 2 4 2 4 2 4 2 5 1 4 2 4 3 4 3 4 3 4 2 4 2 4 2 4 2 4 1 5 2 4 2 4 2 4 2 4 1 4 2 4 1 4 3 4 2 4 1 5 1 4 1 4 2 4 2 4 3 4 2 4 1 4 0 4 0 4 1 5 2 4 3 4 3 4 3 4 3 4 3 4 3 4 2 4 1 4 1 5 0 4 2 4 2 4 2 4 1 4 1 4 1 4 3 4 2 4 3 5 3 4 3 4 2 4 1 4 0 4 1 4 2 4 2 4 2 4 2 5 2 4 1 4 1 4 1 4 2 4 3 4 3 4 3 4 1 4 1 5 1 4 1 4 2 4 1 4 1 4 1 4 2 4 2 4 2 4 2 5 1 4 2 4 0 4 1 4 1 4 1 4 2 4 0 4 1 4 1 5 1 4 2 4 2 4 1 4 0 4 0 4 1 4 2 4 2 4 1 5 1 4 0 4 1 4 2 4 2 4 1 4 3 4 1 4 1 4 0 5 0 4 1 4 1 4 1 4 0 4 1 4 2 4 2 4 2 4 2 5 0 4 0 4 0 4-1 4 1 4 1 4 1 4 3 4 2 4 1 5 0 4-1 4 0 4 1 4 2 4 1 4 1 4 0 4 1 4 0 5-1 4-1 4 0 4 1 4 1 4 0 4 1 4 2 4 2 4 1 5 2 4 1 4 0 4 0 4 0 4-1 4 1 4 2 4 3 4 2 5 1 4-2 4-1 4-1 4 1 4 0 4 2 4 2 4 1 4 1 5 0 4 0 4 0 4 0 4-1 4 0 4 1 4 1 4 2 4 1 5 1 4-1 4 0 4 1 4 0 4-1 4-1 4 1 4 1 4 1 5 0 4-1 4 0 4 0 4 2 4 2 4 1 4 0 4 0 4 1 5 1 4 0 4 0 4 1 4 1 4 1 4 1 4 1 4 1 4 0 5 0 4 0 4 0 4-1 4-1 4 0 4 1 4 1 4 1 4 1 5 1 4 0 4 0 4-1 4 0 4 0 4 0 4 1 4 1 4 1 5 1 4 0 4 0 4 0 4 0 4 0 4 0 4 0 4 1 4 1 5 0 4 1 4 0 4 1 4 2 4 1 4 0 4 0 4 0 4 0 5 0 4 0 4 1 4 0 4 0 4 0 4-1 4 0 4 0 4 0 5 2 4 1 4 3 4 2 4 1 4 0 4-1 4-1 4-1 4-2 5 0 4 0 4 1 4 2 4 2 4 2 4 0 4 0 4-1 4-2 5 0 4 0 4 2 4 1 4 0 4 0 4-1 4 0 4 0 4 1 5 0 4 1 4 1 4 0 4 1 4-1 4 0 4 0 4 2 4 1 5 1 4 0 4 0 4 0 4 0 4 0 4-1 4 0 4-1 4 0 5 1 4 1 4 1 4 0 4-1 4-1 4 0 4 2 4 2 4 1 5 0 4 0 4 0 4-1 4 0 4 0 4 0 4 0 4 0 4 0 5-1 4-1 4-1 4 0 4 0 4 2 4 2 4 1 4 1 4 0 5 0 4 1 4 1 4 0 4 0 4 0 4 0 4-1 4-1 4-1 5 1 4 1 4 2 4 1 4 0 4-1 4-1 4-1 4 1 4 1 5 1 4 0 4 0 4 1 4 0 4 1 4 0 4 1 4 0 4-1 5-2 4-1 4 1 4 2 4 2 4 1 4 0 4 0 4-1 4-1 5 0 4 2 4 1 4 1 4 1 4 0 4-1 4-1 4 0 4 1 5 0 4 0 4 0 4-1 4 0 4 1 4 1 4 0 4-1 4 0 5 1 4 2 4 0 4-1 4-1 4 0 4 2 4 1 4 0 4 0 5 0 4-1 4-1 4 0 4 0 4 0 4 1 4 0 4 0 4 0 5 1 4 0 4-1 4 0 4 0 4 0 4 1 4 2 4 2 4 1 5 0 4-1 4-1 4 1 4 1 4 1 4 0 4 0 4 0 4 0 5-2 4-1 4-1 4 1 4 1 4 1 4 0 4 0 4 0 4 0 5 0 4 1 4 0 4 1 4 0 4 1 4 1 4 0 4 0 4 0 5 0 4 0 4 0 4 0 4-1 4-1 4 1 4 0 4 1 4 1 5 2 4 1 4 1 4-1 4-1 4-2 4 0 4 1 4 1 4 0 5 0 4 0 4 0 4-1 4 0 4-1 4 0 4 0 4 1 4 0 5 1 4 0 4 1 4 1 4 1 4 0 4-1 4-1 4 0 4 0 5 0 4 1 4 0 4 0 4 0 4 0 4 0 4 1 4 1 4 0 5 0 4 0 4-1 4-1 4 0 4 0 4 0 4 1 4 1 4 0 5 0 4 0 4 0 4 1 4 1 4 1 4 1 4 1 4 0 4 0 5-1 4 0 4 1 4 0 4 0 4 0 4-1 4 0 4 0 4 1 5-1 4 0 4 0 4 0 4 1 4 1 4 0 4 0 4 0 4 0 5-1 4 0 4-1 4 0 4 0 4 0 4 0 4 1 4 0 4 1 5 0 4 0 4 1 4 1 4 0 4-1 4-2 4-1 4 0 4 0 5 2 4 1 4 1 4 0 4 1 4 0 4 0 4 1 4 0 4 0 5 0 4-1 4-1 4-2 4 0 4 1 4 2 4 2 4 1 4-1 5-2 4-1 4-1 4 1 4 1 4 1 4 0 4 0 4 1 4 1 5 1 4 1 4 0 4-1 4-2 4 0 4 0 4-1 4-1 4 1 5 1 4 0 4 0 4-1 4 1 4 1 4 0 4-1 4-1 4 1 5 1 4 2 4 0 4-1 4 0 4 0 4 0 4 0 4 1 4 1 5 1 4 0 4 0 4-1 4 0 4-1 4-1 4 0 4 0 4 0 5 1 4 0 4 2 4 2 4 1 4-1 4-2 4-1 4 0 4 2 5 1 4 0 4 1 4 0 4-1 4 0 4-1 4 0 4 0 4 0 5 1 4 1 4 0 4 0 4-1 4-1 4 0 4 1 4 0 4 1 5 0 4 1 4 0 4 0 4 0 4 0 4 1 4 0 4 0 4 0 5-1 4-1 4-1 4 0 4 0 4 2 4 1 4 1 4 0 4 1 5 0 4 1 4 1 4-1 4-1 4-1 4-1 4 0 4 0 4-1 5-1 4 0 4 1 4 1 4 2 4 1 4 0 4-1 4 0 4 0 5 0 4 0 4 1 4 1 4 0 4 0 4 0 4 1 4 1 4 0 5 0 4-1 4-1 4-1 4-1 4-1 4 0 4 1 4 0 4 1 5 1 4 0 4 0 4 0 4 0 4-1 4 0 4 0 4 0 4 1 5 0 4 1 4 1 4 1 4 0 4 0 4-1 4 0 4-1 4 0 5 0 4 1 4 0 4 1 4 0 4 0 4-1 4-1 4-2 4-1 5 0 4 1 4 0 4 1 4 2 4 0 4 1 4 2 4 1 4 0 5 0 4-1 4 0 4 0 4 0 4-1 4 0 4-1 4 0 4 1 5 0 4 1 4 0 4 0 4 0 4 1 4 0 4-1 4-1 4-1 5-1 4 0 4 0 4 0 4 1 4 0 4 2 4 1 4 1 4 0 5-1 4-1 4 1 4 1 4 1 4 0 4 0 4 1 4 0 4 0 5-1 4-1 4 0 4-1 4 0 4-1 4 0 4 2 4 1 4 2 5 0 4 0 4 0 4 0 4-1 4-1 4-2 4-1 4 0 4 0 5 0 4 1 4 0 4 0 4 1 4 0 4 1 4 0 4 1 4 0 5 1 4 1 4 0 4-1 4-2 4-1 4 0 4 1 4 0 4 0 5-1 4-2 4 0 4 1 4 2 4 2 4 1 4-1 4-1 4-1 5 0 4 1 4 1 4 0 4 0 4 0 4 0 4 0 4 0 4 0 5 0 4 1 4 0 4 0 4-1 4 0 4 1 4 1 4 1 4-1 5-2 4-1 4 0 4 0 4 0 4 0 4-1 4-1 4 0 4-1 5 1 4 1 4 3 4 1 4 0 4-1 4-1 4 0 4 1 4 0 5 0 4 0 4 1 4 0 4-1 4 0 4 0 4 1 4 1 4 1 5-1 4-1 4-1 4 0 4 0 4 0 4 0 4 0 4 1 4 0 5 0 4 0 4 1 4 0 4 0 4-1 4 0 4-1 4 0 4-1 5-1 4-1 4-1 4 0 4 0 4 1 4 1 4 1 4 0 4 0 5-1 4-1 4-1 4 0 4 0 4 1 4 0 4-1 4-2 4-1 5-1 4 0 4 0 4 1 4-1 4 0 4-1 4-2 4-2 4-2 5-1 4 0 4 0 4-1 4-1 4-2 4-2 4-2 4-2 4-3 5-3 4-4 4-4 4-4 4-5 4-6 4-6 4-8 4-9 4-11 5-15 4-18 4-22 4-28 4-36 4-50 4-70 4-97 4-134 4-185 5-246 4-301 4-302 4-179 4 54 4 253 4 313 4 280 4 218 4 161 5 115 4 83 4 60 4 43 4 33 4 25 4 20 4 17 4 13 4 11 5 8 4 7 4 5 4 6 4 5 4 5 4 4 4 4 4 4 4 3 5 2 4 1 4 0 4 1 4 2 4 3 4 3 4 2 4 1 4 1 5 0 4 1 4 0 4 0 4 1 4 0 4 1 4 0 4 1 4 1 5 1 4 0 4 0 4 0 4 0 4 0 4 0 4 1 4 1 4 0 5 0 4-1 4 1 4 0 4 0 4 0 4 0 4 0 4 1 4 1 5 1 4 1 4-1 4 0 4-1 4 0 4 0 4 0 4 1 4 1 5 0 4-1 4 0 4 0 4 0 4-1 4-1 4-1 4-1 4 0 5-1 4 0 4-1 4-1 4-1 4 0 4-1 4-1 4-2 4-3 5-4 4-5 4-8 4-11 4-16 4-23 4-30 4-39 4-42 4-36 5-11 4 20 4 39 4 43 4 36 4 27 4 20 4 15 4 11 4 9 5 7 4 4 4 3 4 0 4 1 4 1 4-1 4-1 4 0 4 1 5 2 4 2 4 1 4 1 4 1 4 0 4 1 4 0 4 0 4 0 5-1 4 0 4 0 4 1 4 2 4 2 4 1 4 0 4 0 4-1 5-1 4-1 4-1 4 0 4 0 4 0 4 0 4 0 4 0 4 1 5 0 4 0 4 1 4 0 4 0 4 0 4 1 4 1 4 0 4-1 5-1 4-1 4 0 4 0 4 1 4 0 4 0 4 0 4 0 4 1 5 1 4 0 4-1 4 0 4 0 4 0 4-1 4 0 4 0 4 1 5 1 4-1 4-1 4-1 4 0 4 1 4 2 4 0 4 0 4-1 5 0 4-1 4 0 4 1 4 0 4 1 4 0 4-1 4 1 4 0 5 0 4 0 4 0 4 0 4 1 4 0 4-1 4-1 4 0 4 0 5 0 4-2 4 0 4 1 4 0 4 1 4 0 4 0 4 1 4 1 5 0 4 0 4-1 4-1 4-1 4 0 4 0 4 1 4 0 4-1 5-2 4 0 4 0 4 1 4 2 4 1 4 0 4 0 4 0 4-1 5 0 4 1 4 1 4 1 4 0 4 0 4-1 4-1 4 1 4 1 5 1 4 1 4 0 4-1 4-2 4 0 4 0 4 1 4-1 4-1 5 0 4-1 4-1 4 0 4 0 4 0 4 0 4-1 4 0 4 1 5 1 4 1 4 1 4 0 4-1 4 0 4 0 4 1 4 1 4 1 5 0 4-1 4 0 4-1 4-1 4 0 4 1 4 1 4 1 4 0 5-1 4 0 4 0 4-1 4 0 4 0 4 0 4-1 4-1 4 0 5 0 4 1 4 0 4 1 4 1 4-1 4-1 4-1 4 0 4 1 5 2 4 0 4 0 4 0 4 0 4 1 4 0 4-1 4 0 4 0 5 1 4 0 4 0 4 0 4 0 4 0 4-1 4 0 4-1 4 0 5 0 4 2 4 1 4 1 4-1 4 0 4-1 4-1 4-1 4-1 5 0 4 0 4 0 4 0 4 0 4 0 4 1 4 1 4 0 4 0 5 0 4 1 4 0 4 0 4-2 4 0 4 0 4 0 4 2 4 0 5 0 4-1 4-1 4 0 4 1 4 0 4-1 4 0 4-1 4 0 5 1 4 0 4 1 4 0 4 1 4 0 4 1 4-1 4-1 4-1 5 0 4 1 4 0 4-1 4 0 4 1 4 1 4 1 4 1 4 0 5-1 4-1 4-1 4 0 4 2 4 0 4 0 4-1 4 0 4 1 5 2 4 1 4-1 4-2 4-2 4-1 4 1 4 1 4 1 4 1 5 0 4-1 4-1 4-1 4 0 4 0 4 0 4 0 4 0 4 0 5-1 4 0 4 0 4 1 4 1 4 0 4 0 4 0 4 1 4 0 5 1 4-1 4-1 4-1 4-1 4 0 4 0 4 0 4 1 4 1 5 0 4 0 4 0 4-2 4 0 4-1 4 1 4 0 4 1 4 0 5 0 4-1 4-1 4 0 4 1 4 2 4 1 4 1 4-1 4 0 5 0 4 0 4 0 4-2 4-1 4 0 4 1 4 1 4 0 4-1 5-1 4 0 4 1 4 1 4 0 4 1 4 0 4 0 4 0 4-1 5 0 4 1 4 0 4-1 4-2 4-1 4 0 4 2 4 1 4 0 5-1 4 0 4 0 4 0 4 0 4-1 4-1 4 1 4 0 4 0 5 0 4 0 4-1 4 0 4 0 4 1 4 1 4 1 4-1 4-1 5-2 4-1 4-1 4 0 4 0 4 1 4 0 4-1 4-2 4-3 5-4 4-6 4-8 4-8 4-10 4-12 4-15 4-17 4-15 4-11 5-2 4 5 4 12 4 16 4 16 4 14 4 12 4 10 4 8 4 7 5 4 4 3 4 1 4 0 4-1 4 0 4 1 4 2 4 1 4 2 5 1 4 0 4-2 4-1 4 0 4 0 4-1 4-1 4-2 4-2 5 0 4-1 4-2 4-3 4-5 4-6 4-6 4-9 4-11 4-12 5-11 4-10 4-5 4-1 4 4 4 9 4 10 4 12 4 11 4 10 5 7 4 6 4 4 4 3 4 3 4 1 4 1 4 1 4 0 4 1 5-1 4 0 4-1 4 0 4-1 4-2 4-2 4-3 4-2 4-3 5-3 4-4 4-7 4-10 4-13 4-18 4-21 4-26 4-32 4-38 5-42 4-43 4-35 4-18 4 4 4 25 4 38 4 43 4 41 4 36 5 31 4 25 4 20 4 16 4 11 4 8 4 5 4 4 4 4 4 3 5 3 4 1 4 2 4 1 4 1 4 0 4 0 4 0 4 0 4 0 5 0 4-2 4-4 4-4 4-5 4-5 4-7 4-10 4-12 4-13 5-12 4-10 4-7 4-3 4 3 4 9 4 12 4 13 4 14 4 11 5 10 4 7 4 7 4 5 4 4 4 3 4 4 4 2 4 1 4-1 5 0 4 0 4 2 4 1 4 0 4-1 4-3 4-2 4-1 4-1 5-3 4-3 4-3 4-3 4-1 4 2 4 3 4 4 4 4 4 3 5 3 4 3 4 2 4 2 4 1 4 0 4-1 4-2 4-1 4 0 5 0 4 1 4 1 4 1 4-1 4 0 4-1 4 0 4-1 4-1 5 0 4 1 4 2 4 2 4 1 4 0 4-1 4-2 4-1 4 0 5 0 4 1 4 0 4 0 4 1 4 2 4 1 4 0 4-1 4 0 5-1 4 1 4 0 4 1 4 0 4 0 4 0 4 0 4 0 4-1 5 0 4 1 4 1 4 1 4 0 4-1 4 0 4 0 4 0 4 0 5 0 4-1 4 0 4 0 4 0 4 0 4 0 4-1 4 0 4-1 5-1 4 1 4 1 4 1 4-1 4-2 4-1 4 0 4 0 4 2 5 0 4-1 4-1 4 0 4 0 4 0 4 0 4-1 4-2 4-3 5-3 4-4 4-4 4-5 4-6 4-7 4-6 4-4 4 0 4 3 5 6 4 7 4 7 4 5 4 5 4 4 4 2 4 2 4 1 4 2 5 2 4 1 4 1 4 0 4 0 4 1 4 0 4 1 4 0 4 1 5 0 4 0 4 0 4 0 4-1 4 0 4 0 4-1 4 0 4 0 5 0 4 0 4 1 4 0 4 1 4 1 4 0 4-1 4-1 4 0 5 1 4 2 4 1 4 1 4-1 4-2 4-2 4-1 4-1 4 1 5 0 4 1 4 1 4-1 4-1 4 0 4 1 4 0 4 1 4 0 5 1 4 0 4 0 4 0 4 0 4-1 4 1 4 0 4 0 4 1 5 1 4 2 4-1 4-1 4-2 4 0 4 0 4 0 4-1 4 0 5 0 4 2 4 0 4-1 4-1 4-1 4 0 4 0 4 0 4 0 5 1 4 2 4 1 4 0 4 0 4-1 4 0 4 0 4-1 4 0 5 1 4 0 4 0 4 0 4 0 4 0 4-1 4 0 4 0 4 0 5-1 4 0 4 0 4 0 4-1 4 1 4 1 4 0 4-1 4-1 5-1 4 0 4 1 4 1 4 1 4-1 4-1 4-1 4 0 4-1 5-1 4-2 4-2 4-1 4-1 4-1 4-1 4-1 4-1 4 0 5 1 4 2 4 2 4 2 4 2 4 0 4 1 4 2 4 1 4 0 5 0 4 1 4 0 4 0 4 1 4 1 4 0 4-1 4 0 4 0 5-1 4 0 4 1 4 0 4 0 4 0 4 1 4 0 4 0 4-1 5 0 4 0 4-1 4-1 4-1 4 1 4 1 4 1 4 0 4-1 5-1 4 1 4 1 4 0 4 0 4 0 4 0 4 1 4 0 4 0 5 0 4 0 4 0 4-1 4-1 4 0 4 0 4 0 4 1 4 1 5 1 4 0 4 0 4-1 4 0 4 0 4-1 4 0 4 0 4 0 5 1 4 0 4 0 4-1 4 0 4 0 4-1 4-1 4-1 4 1 5 2 4 2 4 0 4 0 4-1 4-2 4-1 4 0 4 1 4 1 5 0 4 0 4 0 4 0 4 1 4 0 4 0 4 1 4 0 4 0 5-1 4 0 4-1 4-1 4 0 4 2 4 1 4 0 4 0 4 0 5-1 4-1 4-1 4-1 4 1 4 2 4 1 4 0 4-1 4-1 5 0 4 0 4-1 4 0 4 0 4 0 4-1 4 0 4 0 4 1 5 1 4 0 4 0 4-1 4 0 4 0 4 0 4 0 4-1 4 0 5 0 4 1 4 1 4 0 4 0 4-1 4-1 4 0 4 0 4 0 5 0 4 0 4 1 4 0 4 0 4-1 4 0 4 0 4-1 4-1 5-1 4 1 4 1 4-1 4 0 4-1 4-1 4-1 4 0 4-1 5-1 4-1 4-2 4-2 4-1 4-2 4-1 4-2 4-3 4-3 5-3 4-3 4-4 4-3 4-5 4-6 4-9 4-13 4-18 4-22 5-28 4-33 4-40 4-49 4-54 4-56 4-50 4-35 4-10 4 16 5 38 4 52 4 55 4 52 4 46 4 39 4 32 4 26 4 21 4 16 5 12 4 10 4 9 4 8 4 5 4 3 4 3 4 2 4 2 4 3 5 1 4 2 4 1 4 1 4 2 4 2 4 1 4 0 4-1 4 1 5 1 4 0 4 0 4 0 4 0 4-1 4 0 4 0 4 1 4 0 5 0 4-1 4 1 4 3 4 3 4 1 4-1 4-2 4-2 4 0 5 1 4 1 4 0 4 1 4 0 4 2 4 1 4 0 4-1 4-1 5-1 4 0 4 0 4 2 4 1 4 0 4 0 4 0 4 0 4-1 5-1 4 0 4 0 4 0 4 1 4 0 4 0 4-1 4 0 4 0 5 0 4-1 4 0 4 0 4 2 4 1 4 0 4 0 4 0 4 0 5 1 4 0 4 1 4 1 4 0 4-2 4-1 4-1 4 1 4 0 5 0 4 0 4-1 4-1 4-1 4 0 4 2 4 2 4 1 4-1 5-1 4 0 4 0 4 0 4 0 4 0 4 0 4-1 4 0 4 0 5 1 4 1 4 0 4-1 4 0 4-1 4 0 4 1 4 1 4 0 5 0 4 0 4 1 4 0 4 0 4-1 4 0 4-1 4 0 4 1 5 0 4 1 4 0 4-1 4-1 4-1 4 0 4 0 4 1 4 1 5 1 4 0 4-1 4-1 4-2 4 0 4 0 4 0 4 1 4 1 5 1 4 0 4 0 4 0 4 0 4 0 4 0 4 1 4 0 4 0 5 0 4-1 4-1 4-1 4 0 4-1 4 0 4 1 4 2 4 0 5 1 4 0 4 0 4 0 4-1 4 0 4 0 4 0 4 1 4 0 5 0 4 0 4 2 4 0 4 0 4-2 4-1 4-2 4 0 4-1 5 0 4 1 4 0 4 1 4 0 4 0 4 0 4-2 4 0 4 0 5 1 4-1 4 0 4 1 4 1 4 0 4 0 4 0 4 0 4 0 5 1 4 0 4 0 4-1 4-1 4-2 4 0 4 0 4 1 4 1 5 0 4 0 4 0 4 0 4 0 4 0 4-1 4-1 4 0 4 1 5 0 4 0 4 0 4-1 4-1 4-2 4 0 4 0 4 1 4 1 5 1 4 0 4-1 4-2 4-1 4 0 4 0 4 1 4 0 4 0 5-1 4-1 4-2 4-2 4-1 4 0 4-1 4-1 4-3 4-3 5-3 4-4 4-4 4-5 4-5 4-8 4-10 4-12 4-16 4-18 5-20 4-23 4-23 4-24 4-23 4-19 4-12 4-2 4 8 4 16 5 21 4 22 4 22 4 21 4 20 4 18 4 15 4 11 4 7 4 4 5 1 4-1 4-4 4-5 4-6 4-8 4-11 4-13 4-12 4-9 5-5 4-2 4 2 4 6 4 10 4 12 4 13 4 12 4 12 4 10 5 10 4 8 4 7 4 5 4 4 4 2 4 0 4 0 4 1 4-1 5-1 4-2 4-2 4-2 4-4 4-7 4-7 4-7 4-9 4-13 5-17 4-19 4-21 4-23 4-23 4-24 4-21 4-16 4-8 4 1 5 9 4 18 4 22 4 26 4 26 4 23 4 21 4 18 4 16 4 14 5 11 4 8 4 6 4 5 4 4 4 4 4 4 4 2 4 2 4 1 5 1 4 1 4 0 4 2 4 1 4 1 4 1 4 1 4 0 4 1 5 0 4 0 4 0 4 0 4-1 4 0 4 0 4 1 4 1 4 1 5 1 4-1 4 0 4 0 4 0 4 1 4 1 4 0 4 1 4 0 5 0 4 0 4 0 4 0 4 0 4-1 4-1 4 0 4 0 4 2 5 1 4-1 4-1 4-2 4-2 4-1 4-2 4 0 4-1 4-1 5-1 4-2 4-4 4-4 4-5 4-3 4-1 4 2 4 2 4 3 5 3 4 3 4 3 4 3 4 3 4 3 4 1 4 1 4-1 4 0 5 1 4 0 4 0 4 0 4 1 4 0 4 1 4 1 4 1 4 1 5 0 4-1 4 0 4 0 4 1 4 0 4 0 4-1 4 0 4 0 5 0 4 0 4 0 4 0 4-1 4 0 4 1 4 1 4 0 4-1 5-1 4 0 4 1 4 0 4 1 4 0 4 0 4 0 4 0 4-1 5-1 4 1 4 2 4 0 4-1 4-1 4-1 4 1 4 0 4 0 5 0 4 0 4 0 4 0 4 1 4 0 4-1 4-1 4-2 4 0 5 1 4 1 4 1 4 2 4 1 4 0 4 0 4-1 4-2 4 0 5 1 4 0 4 0 4-1 4-1 4-1 4 1 4 0 4 1 4 1 5 1 4 0 4 1 4-1 4 0 4 0 4 1 4 1 4 0 4 1 5 0 4-1 4-1 4-1 4-1 4-1 4 0 4 1 4 0 4 0 5 0 4-1 4 0 4 0 4 0 4 2 4 1 4 1 4 0 4-1 5-1 4-1 4-1 4 1 4 1 4 0 4 0 4 0 4 0 4 0 5 0 4 0 4-1 4-1 4 0 4 1 4 1 4 1 4 0 4 1 5-1 4 0 4-1 4 0 4 0 4-1 4 0 4 1 4 0 4 1 5 0 4 1 4 0 4 0 4 0 4 0 4 0 4-1 4-1 4 0 5 0 4 0 4 1 4 0 4 0 4 0 4 0 4-1 4-2 4-1 5 0 4 1 4 0 4-1 4-1 4 0 4 1 4 1 4 0 4 1 5 0 4 0 4 0 4 0 4-1 4 0 4-1 4 0 4 0 4 1 5 2 4 1 4 2 4 1 4-1 4-2 4-1 4-1 4 0 4 0 5 0 4 1 4 0 4 0 4-1 4-1 4 0 4 0 4 0 4-1 5 0 4 1 4 1 4 0 4 0 4-1 4 0 4 0 4 0 4 0 5 0 4 0 4 1 4 1 4 0 4 0 4 0 4-1 4-2 4-1 5 0 4 1 4 0 4 0 4-1 4 0 4 1 4 2 4 0 4 0 5-1 4 0 4-1 4 0 4-1 4 1 4 1 4 1 4-1 4-1 5 0 4 0 4 0 4-1 4-1 4-1 4-1 4-2 4-2 4-2 5-3 4-2 4-2 4-2 4-2 4-4 4-5 4-5 4-3 4-2 5 0 4 0 4 1 4 3 4 3 4 3 4 2 4 2 4 2 4 1 5 0 4 0 4 0 4-1 4-1 4-3 4-6 4-8 4-10 4-11 5-12 4-15 4-16 4-19 4-21 4-21 4-19 4-14 4-7 4 2 5 9 4 15 4 18 4 21 4 20 4 19 4 16 4 16 4 12 4 10 5 9 4 8 4 7 4 5 4 3 4 2 4 2 4 2 4 1 4 1 5 1 4 0 4 0 4 1 4 2 4 1 4 0 4 0 4 0 4 1 5 1 4 1 4 2 4 0 4 0 4-1 4-1 4 0 4 0 4 0 5 0 4-1 4 0 4 0 4 1 4 1 4 1 4 1 4 0 4 0 5 0 4 1 4 0 4 0 4 0 4 0 4-1 4-1 4-1 4-2 5-1 4-2 4-2 4-2 4-2 4-2 4 0 4 1 4 0 4 1 5 2 4 2 4 2 4 2 4 2 4 0 4 0 4 0 4 0 4 0 5 1 4 2 4 1 4 0 4-1 4-1 4 0 4 0 4 0 4 0 5 1 4 0 4 0 4 0 4 1 4 1 4 0 4-1 4-1 4-1 5-1 4-1 4 1 4 1 4 1 4 1 4 1 4-1 4 0 4-2 5 0 4-1 4 1 4 1 4 1 4 0 4 0 4-1 4 1 4 1 5 2 4 0 4-1 4-1 4-1 4 0 4-1 4 0 4 0 4 1 5 0 4 1 4 0 4-1 4-1 4 0 4 0 4 0 4 0 4 1 5 1 4 1 4-1 4-1 4 0 4-1 4 0 4-1 4 0 4 0 5 1 4 1 4 2 4 1 4 1 4-1 4-1 4-1 4 0 4 0 5-1 4 0 4-1 4 0 4 0 4 1 4 1 4 0 4 0 4-2 5-1 4 1 4 0 4 0 4 0 4 0 4 0 4 0 4-1 4 1 5 0 4 0 4 0 4 0 4 0 4 0 4 0 4 0 4 0 4 0 5 0 4 1 4 1 4-1 4 0 4-1 4 1 4 0 4 0 4 0 5-1 4 0 4 0 4 2 4 0 4-1 4-1 4 0 4 0 4 1 5 1 4 0 4 0 4-2 4 0 4 0 4 1 4 1 4 0 4 0 5 0 4 1 4 0 4-1 4 1 4 1 4-1 4-1 4-1 4-1 5 1 4 0 4-1 4-1 4-1 4 1 4 1 4 1 4-1 4 0 5 1 4 1 4 1 4 0 4-2 4-1 4-1 4 1 4 1 4 0 5 0 4-1 4-1 4-1 4-1 4 0 4 1 4 2 4 1 4 0 5 0 4-1 4 0 4-1 4-1 4-1 4 0 4 0 4 1 4 0 5 0 4-1 4 0 4-1 4-1 4-1 4-1 4 0 4 0 4-1 5-2 4-2 4-2 4-2 4-1 4-3 4-3 4-3 4-4 4-4 5-4 4-4 4-4 4-5 4-5 4-4 4-4 4-4 4-3 4-3 5-2 4-1 4 0 4 1 4 0 4 1 4 1 4 1 4 2 4 0 5 1 4 0 4 0 4 1 4 1 4 1 4 0 4 1 4 2 4 4 5 5 4 6 4 5 4 4 4 4 4 4 4 5 4 3 4 2 4 2 5 2 4 2 4 3 4 2 4 1 4 1 4 1 4 2 4 1 4 1 5 0 4-1 4-2 4-2 4-2 4-2 4-1 4-1 4-2 4-1 5-3 4-2 4-3 4-2 4-1 4-1 4 0 4 2 4 1 4 3 5 2 4 1 4 1 4 0 4 0 4-1 4-2 4-4 4-4 4-6 5-5 4-6 4-5 4-6 4-6 4-4 4-3 4-2 4-1 4 0 5 2 4 4 4 5 4 6 4 6 4 6 4 6 4 7 4 6 4 5 5 3 4 2 4 2 4 2 4 3 4 2 4 3 4 1 4 1 4 0 5 1 4 0 4 1 4 0 4 0 4-1 4 0 4 0 4 1 4 2 5 1 4 1 4 0 4-1 4-1 4 0 4 0 4 0 4 0 4-1 5-2 4-1 4 0 4 1 4 1 4 1 4 2 4 1 4 0 4 1 5-1 4 0 4-1 4-1 4-1 4 0 4 1 4 1 4 2 4 0 5-1 4-1 4-1 4 1 4 0 4 1 4 0 4 0 4-1 4 0 5 2 4 1 4 0 4 0 4-1 4-1 4-1 4 1 4 0 4 1 5-1 4-1 4-1 4 0 4 1 4 1 4 1 4 0 4 0 4 1 5 1 4 1 4 0 4-1 4-1 4-1 4-1 4-1 4 0 4 0 5 1 4 0 4 0 4 0 4 0 4 0 4-1 4-1 4 0 4 1 5 1 4 1 4 1 4 0 4 0 4 0 4-1 4-1 4-1 4 0 5 0 4 0 4 1 4 0 4 1 4 0 4 1 4-1 4-2 4-2 5-1 4 1 4 1 4 1 4 1 4 0 4 0 4 0 4 0 4 1 5 0 4 0 4 0 4 0 4-1 4 0 4 0 4 0 4-1 4-1 5 0 4-1 4 0 4 1 4 0 4 2 4 1 4 0 4 0 4-1 5-2 4-1 4 1 4 1 4 2 4 1 4 0 4-1 4-2 4 0 5 1 4 1 4 0 4-1 4 0 4-1 4 0 4 0 4 1 4 0 5 1 4 0 4 0 4 0 4-2 4-2 4-1 4 0 4 1 4 0 5 0 4 0 4 0 4 0 4 0 4 0 4 1 4 0 4-1 4-1 5 0 4 0 4 0 4 0 4 0 4 0 4-2 4-2 4-2 4 0 5-1 4-1 4-1 4-1 4-1 4-1 4-2 4-2 4-4 4-4 5-5 4-6 4-5 4-5 4-5 4-7 4-9 4-11 4-11 4-9 5-6 4-3 4-1 4 3 4 4 4 5 4 6 4 8 4 9 4 9 5 9 4 6 4 6 4 5 4 5 4 4 4 5 4 5 4 5 4 5 5 2 4-1 4 0 4 0 4 1 4 1 4 1 4 0 4 0 4-1 5 0 4 1 4 1 4 2 4 0 4 0 4 0 4 0 4-1 4-1 5-2 4-1 4 0 4-2 4-2 4-4 4-4 4-3 4-2 4-1 5-2 4-1 4-1 4 0 4 0 4 1 4 0 4 1 4 2 4 2 5 2 4 3 4 3 4 3 4 2 4 1 4 1 4 2 4 2 4 2 5 2 4 1 4 0 4-1 4 0 4-1 4 1 4 1 4 1 4 1 5 0 4-1 4 0 4-1 4-1 4 0 4 0 4 0 4 0 4 1 5 1 4 1 4 1 4 0 4 0 4-1 4 0 4-1 4 0 4-1 5 1 4 1 4 1 4 0 4 0 4-1 4 1 4 1 4 1 4 0 5-1 4-1 4 0 4-1 4-1 4 0 4 1 4 1 4 1 4 0 5 1 4 0 4 0 4-1 4-1 4-1 4 0 4 1 4 1 4 1 5 0 4-1 4 0 4-1 4 0 4 1 4-1 4 0 4 0 4-1 5 0 4 0 4 1 4 1 4 1 4 0 4-1 4 0 4 0 4 0 5-1 4 0 4 0 4 0 4-1 4 0 4-1 4 0 4-1 4 0 5 0 4 1 4 0 4 0 4 0 4 1 4 1 4 1 4 1 4 0 5 0 4-1 4 0 4 0 4 0 4 0 4-1 4 1 4 1 4 1 5-1 4 0 4 0 4 0 4 0 4 0 4-1 4-1 4 0 4 1 5 0 4 0 4-1 4-1 4 0 4 1 4 0 4 0 4 0 4 0 5 0 4 0 4 0 4 1 4 0 4 0 4-1 4-1 4 1 4 1 5 1 4 0 4 0 4 0 4 0 4 0 4 1 4 0 4-1 4-1 5 0 4 0 4 1 4 0 4-1 4-1 4-1 4-1 4 1 4 0 5 1 4 0 4 0 4 1 4 0"/>
<path class="c" transform="scale(.1)" stroke="#0000ff" stroke-width="88.5" stroke-linecap="round" d="M1182 8012l4 5 4 4 4 4 4 3 5 4 4 3 4 3 4 2 4 4 4 5 4 4 4 4 4 4 4 5 5 6 4 5 4 5 4 3 4 4 4 4 4 5 4 4 4 4 4 4 5 4 4 3 4 3 4 2 4 3 4 3 4 3 4 2 4 1 4 0 5 2 4 3 4 3 4 3 4 2 4 0 4 1 4 2 4 2 4 4 5 4 4 4 4 4 4 3 4 2 4 0 4 0 4 1 4 1 4 0 5 2 4 3 4 3 4 2 4 1 4 0 4 1 4 1 4 3 4 3 5 1 4 2 4 1 4 2 4 2 4 1 4 1 4 1 4 1 4 2 5 3 4 4 4 3 4 3 4 3 4 2 4 1 4 1 4 1 4 2 5 3 4 2 4 2 4 2 4 1 4 1 4 1 4 0 4 0 4 0 5 0 4 1 4 3 4 4 4 2 4 2 4 1 4 1 4 2 4 1 5 1 4 2 4 1 4 1 4 1 4 3 4 3 4 3 4 0 4 0 5 1 4 2 4 1 4 1 4 1 4 2 4 2 4 1 4 0 4 1 5 1 4 2 4 2 4 0 4 0 4 0 4 2 4 2 4 2 4 1 5 0 4 1 4 2 4 2 4 2 4 1 4 1 4 0 4 1 4 2 5 2 4 2 4 1 4 1 4 0 4 1 4 0 4 1 4 0 4 0 5 0 4 1 4 2 4 2 4 2 4 2 4 2 4 2 4 0 4 1 5-1 4-1 4 1 4 1 4 1 4 2 4 1 4 1 4 0 4 0 5-1 4 1 4 1 4 2 4 2 4 2 4 2 4 0 4 0 4-1 5 1 4 0 4 0 4 1 4 2 4 2 4 1 4 1 4 1 4 2 5 2 4 1 4-1 4-1 4-1 4 1 4 1 4 1 4 1 4 0 5 0 4 0 4 0 4 0 4 1 4 0 4 1 4 0 4 1 4 1 5 1 4 0 4 0 4 0 4 0 4 2 4 2 4 2 4 1 4-1 5-1 4-1 4-1 4 0 4 1 4 1 4 1 4 1 4-1 4 0 5 0 4 1 4 2 4 1 4-1 4 0 4-1 4 0 4 1 4 1 5 1 4 1 4 0 4 2 4 1 4 2 4 1 4 1 4 0 4-1 5 0 4 0 4 1 4 0 4 0 4 0 4 0 4 2 4 1 4 1 5 1 4 0 4 1 4 0 4-1 4-1 4 0 4 1 4 2 4 0 5 0 4 0 4 1 4 1 4 1 4 1 4 0 4 0 4 0 4-1 5 1 4 0 4 0 4-2 4-1 4-1 4 1 4 2 4 2 4 3 5 0 4-2 4-2 4-1 4 1 4 1 4 2 4 2 4 2 4 0 5 0 4-1 4 0 4 0 4 1 4 0 4 0 4-1 4 0 4 1 5 0 4 1 4 1 4 1 4 0 4 1 4 0 4 0 4 0 4 1 5 1 4-1 4-1 4 0 4 0 4 0 4 1 4 1 4 1 4 1 5 1 4 0 4-2 4-1 4 1 4 2 4 0 4 0 4 0 4 0 5 0 4 1 4 0 4 1 4 1 4 0 4 0 4 0 4-1 4 0 5 1 4 1 4 2 4 1 4 0 4-1 4 1 4 1 4 1 4 1 5-2 4-2 4-1 4 0 4 1 4 1 4-1 4 0 4 1 4 1 5 0 4-1 4 0 4 1 4 0 4 0 4 0 4-1 4 0 4 1 5 0 4 0 4 1 4 1 4 0 4 0 4 1 4 2 4 1 4 0 5-2 4-1 4 0 4 0 4 1 4 0 4 0 4-1 4 0 4 0 5 0 4 0 4 2 4 1 4 2 4 1 4 0 4 0 4-1 4-1 5-1 4-1 4 1 4 1 4 1 4 1 4-1 4-2 4-1 4-2 5-1 4 0 4 0 4 0 4 0 4 0 4 2 4 2 4 3 4 2 5 3 4 1 4 0 4-1 4-2 4-1 4-1 4-2 4-1 4-1 5 0 4 0 4 0 4 1 4 1 4-1 4 0 4 0 4-1 4 0 5 1 4 2 4 2 4 0 4 0 4 0 4 0 4 1 4 0 4-1 5 0 4-1 4 0 4 1 4 1 4 2 4 1 4 0 4 0 4 0 5 0 4 1 4-1 4 0 4-1 4 0 4-1 4-1 4 0 4 0 5 0 4 0 4 0 4 0 4 0 4 1 4 2 4 1 4 0 4-1 5 0 4 0 4 1 4 0 4 1 4 0 4-1 4-1 4-1 4-1 5 0 4 1 4 1 4 0 4 0 4 2 4 1 4 1 4 0 4 0 5-1 4 0 4-1 4-1 4 0 4 0 4 1 4 0 4 0 4 0 5 1 4 1 4 0 4-2 4-1 4 1 4 3 4 2 4 1 4-1 5-2 4-1 4 1 4 2 4 1 4 2 4 0 4 0 4 0 4 0 5 1 4-1 4-1 4-1 4 0 4 0 4 0 4 0 4 0 4 2 5 1 4 1 4-1 4-1 4 0 4 0 4 0 4-1 4 0 4 0 5 0 4 0 4-1 4 1 4 2 4 2 4 0 4-1 4-1 4 0 5 1 4 1 4 0 4 0 4-1 4 0 4 1 4 0 4 0 4-1 5 0 4 0 4 1 4 0 4-1 4 1 4 1 4 1 4 2 4 0 5-1 4 0 4-1 4-1 4 1 4 1 4 0 4 1 4 0 4 0 5 0 4 0 4 0 4 1 4 1 4 0 4-1 4-1 4 0 4-1 5 0 4 1 4 1 4 1 4 2 4 1 4-1 4 0 4-1 4-1 5 0 4 0 4 0 4 0 4 1 4 0 4 0 4 0 4 0 4 1 5 1 4 0 4 0 4 0 4 0 4 1 4-1 4 0 4 0 4 0 5 0 4 0 4 0 4-1 4 1 4 2 4 1 4-1 4-1 4-1 5-1 4 1 4 2 4 2 4 0 4-1 4-1 4-1 4 1 4 1 5 1 4 1 4 0 4-2 4-1 4-1 4-1 4-1 4 1 4 0 5 0 4-1 4-1 4 0 4 1 4 1 4 1 4 0 4 1 4 0 5 2 4 2 4 0 4 0 4-1 4 0 4 0 4 0 4 0 4-1 5-1 4-2 4-1 4-1 4 1 4 1 4 2 4 1 4 2 4 1 5 0 4 0 4-1 4-1 4-1 4 0 4 0 4 0 4 1 4 0 5 0 4-1 4 0 4 1 4 0 4 0 4 0 4 1 4 0 4 1 5 1 4 0 4 0 4 0 4-1 4 0 4 1 4 0 4-1 4-1 5-1 4 0 4-1 4 0 4-1 4 0 4 0 4 0 4 0 4 0 5 1 4 1 4 1 4 0 4 0 4 1 4 1 4 1 4 0 4 0 5 0 4-1 4-1 4-1 4 0 4 0 4 0 4 1 4 1 4 0 5 0 4 0 4-1 4 0 4 1 4 0 4 1 4 0 4 0 4 1 5 0 4-1 4-1 4-1 4-1 4 0 4-1 4 1 4 1 4 2 5 1 4 1 4 0 4-1 4 0 4-1 4 0 4-1 4-1 4-1 5 0 4-1 4 1 4 2 4 2 4 2 4 1 4 0 4-1 4-1 5 0 4 0 4 1 4 0 4 0 4-2 4-1 4-2 4-1 4 1 5 2 4 1 4 1 4-1 4-1 4 0 4-1 4 1 4 0 4 2 5 0 4 0 4 0 4-2 4-2 4-1 4 0 4 1 4 1 4 0 5 0 4 0 4 0 4 0 4 0 4 0 4-1 4 0 4 2 4 2 5 1 4 0 4 0 4 0 4 0 4 0 4 0 4-1 4 0 4 0 5 0 4 0 4 0 4-1 4 0 4-1 4 0 4 0 4 0 4 1 5 0 4 0 4 0 4-1 4 0 4 0 4 2 4 2 4 1 4-1 5-1 4-1 4-1 4 0 4-1 4-1 4 0 4 1 4 1 4 0 5 0 4-1 4 0 4-1 4 0 4 1 4 1 4 2 4 0 4 0 5 0 4 0 4 1 4 1 4 1 4 1 4 0 4-1 4 0 4-2 5-1 4-1 4 0 4 2 4 1 4 1 4 0 4-1 4-1 4 0 5 0 4 1 4 2 4 1 4-1 4-1 4-1 4 0 4 1 4 2 5 2 4 1 4 0 4-1 4-1 4 0 4-1 4-1 4-1 4 1 5 0 4 0 4 0 4 0 4 1 4 1 4 0 4 1 4-1 4 0 5 0 4 2 4 1 4 0 4 0 4-1 4-1 4-1 4 0 4 0 5-1 4-1 4 0 4 1 4 1 4 1 4-1 4 0 4-1 4 0 5 0 4 0 4-1 4 1 4 1 4 1 4 0 4 0 4 0 4 0 5 0 4-1 4 0 4-1 4 0 4-1 4-1 4-1 4-2 4 0 5 2 4 2 4 1 4 0 4 0 4-1 4-1 4 0 4 0 4 0 5 1 4 0 4-2 4-2 4-1 4 1 4 1 4 0 4-1 4-1 5-1 4-2 4-1 4-1 4-2 4-2 4-2 4-1 4-1 4-2 5-3 4-3 4-3 4-4 4-5 4-5 4-6 4-8 4-12 4-13 5-17 4-22 4-29 4-40 4-54 4-78 4-114 4-164 4-222 4-260 5-209 4-24 4 182 4 260 4 233 4 177 4 124 4 86 4 59 4 41 5 30 4 22 4 17 4 14 4 11 4 8 4 6 4 6 4 6 4 5 5 4 4 3 4 2 4 3 4 1 4 1 4 1 4 1 4 1 4 1 5 2 4 1 4 1 4 1 4 0 4 1 4 2 4 2 4 2 4 2 5 1 4-1 4-1 4-1 4 0 4 1 4 2 4 2 4 0 4 0 5 0 4-2 4-1 4-1 4 2 4 2 4 1 4-1 4-1 4-1 5-1 4 0 4-1 4-1 4 1 4 2 4 2 4 0 4 0 4 0 5 0 4 0 4 1 4 1 4 1 4 0 4-1 4 0 4-1 4-1 5-1 4-2 4-1 4 1 4 2 4 2 4 0 4-1 4-3 4-2 5-1 4 0 4 1 4 0 4 0 4 0 4 0 4-2 4-1 4-1 5-2 4-3 4-6 4-7 4-10 4-11 4-16 4-22 4-29 4-33 5-28 4-10 4 14 4 30 4 33 4 28 4 22 4 17 4 11 4 7 5 4 4 3 4 3 4 4 4 3 4 1 4 1 4 1 4-1 4 0 5 0 4 2 4 2 4 2 4 0 4 0 4-1 4 0 4 1 4 2 5 1 4 0 4 0 4 0 4-1 4-1 4 0 4 1 4 1 4 1 5 1 4 0 4 0 4 0 4-1 4 0 4 1 4-1 4 0 4 1 5 0 4-1 4-1 4-1 4-1 4 0 4 0 4 1 4 1 4 1 5 0 4-1 4-1 4-1 4 0 4 0 4 2 4 2 4 1 4 0 5 0 4 0 4-1 4 0 4 0 4 0 4 0 4 0 4 0 4 1 5 0 4 0 4-1 4 1 4 0 4-1 4-2 4 0 4 1 4 1 5 1 4 0 4 1 4 1 4-1 4-1 4-1 4 0 4-1 4-1 5 0 4 1 4 0 4 0 4 0 4-1 4 0 4 1 4 1 4 1 5-1 4 0 4 0 4 1 4 2 4 0 4-2 4-3 4-1 4 0 5 2 4 2 4 1 4 1 4 0 4-1 4-1 4-1 4 0 4 0 5 0 4 0 4-1 4 0 4 1 4 1 4 1 4-1 4 0 4-1 5 0 4 0 4 1 4 0 4 0 4 1 4 0 4 0 4-1 4-2 5-2 4 0 4 1 4 2 4 3 4 1 4 1 4-1 4 0 4 1 5 0 4 0 4-2 4-2 4-1 4-1 4 0 4 0 4 1 4 1 5 0 4 1 4 0 4 0 4 1 4 1 4 0 4 1 4 0 4-1 5-1 4 0 4-1 4 1 4 0 4 0 4 0 4 0 4 0 4 0 5 0 4 0 4 0 4 0 4 1 4 1 4 1 4 0 4-2 4 0 5 0 4 1 4-1 4-2 4-2 4-1 4 0 4 1 4-1 4 0 5 0 4 2 4-1 4-1 4-1 4 0 4 1 4 2 4 1 4 1 5 1 4 0 4-1 4 0 4 0 4 0 4 1 4 0 4-1 4-1 5 0 4 0 4 0 4 1 4 1 4 2 4 1 4 0 4-1 4-2 5-3 4-1 4 0 4 2 4 3 4 1 4 0 4-1 4 0 4-1 5 0 4-1 4-1 4-1 4 0 4 1 4 1 4 1 4 1 4 1 5 0 4-1 4-1 4-1 4 0 4 0 4 0 4-1 4 0 4 0 5 0 4 1 4 0 4-1 4 0 4 0 4-1 4-1 4-1 4 0 5 1 4 1 4 1 4 1 4 0 4-1 4-1 4 1 4 0 4 0 5 0 4 0 4-1 4 1 4 1 4 1 4-1 4-1 4-1 4-1 5 1 4 0 4 1 4 0 4 0 4 0 4 0 4 0 4 0 4 1 5 1 4 0 4 1 4 0 4 0 4 0 4-1 4 0 4 0 4 1 5 1 4 0 4 0 4-1 4-1 4 0 4 1 4 0 4-1 4-1 5-1 4 1 4 0 4-1 4-1 4 0 4 0 4 1 4-1 4 0 5-1 4 0 4 0 4 0 4 0 4 1 4 0 4 0 4-1 4 0 5-2 4-1 4-1 4-1 4 0 4 1 4 0 4-1 4 0 4 1 5 0 4 0 4 0 4 0 4 1 4 1 4-1 4-2 4-4 4-2 5-1 4-1 4-1 4 0 4 0 4 1 4 0 4 1 4 1 4-1 5-1 4-1 4 0 4 0 4 0 4-1 4-1 4-1 4-1 4-1 5 0 4 1 4 0 4-1 4 0 4 1 4 1 4 2 4 0 4 1 5 0 4 1 4 1 4 0 4 0 4-1 4 0 4-1 4-2 4 0 5 0 4 1 4 0 4 0 4 0 4 0 4 0 4-1 4-2 4-2 5-3 4-5 4-5 4-8 4-10 4-11 4-11 4-10 4-8 4-6 5 0 4 5 4 10 4 12 4 12 4 10 4 8 4 6 4 6 4 6 5 5 4 3 4 1 4 1 4 1 4 1 4 1 4 1 4 1 4 1 5 0 4-1 4 0 4-1 4 0 4-1 4 0 4-1 4-1 4-2 5-3 4-4 4-5 4-7 4-7 4-8 4-8 4-6 4-5 4-2 5 0 4 1 4 3 4 5 4 6 4 8 4 8 4 8 4 6 4 4 5 2 4 1 4 0 4 0 4 1 4 0 4-1 4 0 4 0 4 0 5-1 4 0 4-2 4-1 4-2 4-3 4-4 4-5 4-7 4-6 5-9 4-12 4-14 4-19 4-23 4-28 4-33 4-35 4-33 4-28 5-16 4-3 4 13 4 24 4 32 4 34 4 33 4 31 4 26 4 21 5 17 4 13 4 9 4 8 4 7 4 5 4 5 4 2 4 1 4 1 5 1 4 1 4 1 4 1 4 0 4 0 4-2 4-2 4-3 4-2 5-2 4-5 4-8 4-9 4-8 4-9 4-9 4-11 4-10 4-8 5-4 4 2 4 6 4 10 4 11 4 11 4 12 4 10 4 9 4 7 5 6 4 5 4 4 4 3 4 1 4 1 4 0 4 1 4 2 4 2 5 2 4 0 4-2 4-2 4-2 4-1 4-2 4-3 4-2 4-1 5 0 4 1 4 1 4 1 4 0 4 2 4 3 4 3 4 2 4 2 5 0 4 1 4 2 4 1 4 0 4 0 4 0 4 1 4 1 4 1 5 0 4 1 4 0 4 0 4 0 4-1 4 0 4 0 4-1 4 1 5 1 4 1 4 0 4-1 4-2 4-1 4 0 4 0 4-1 4 1 5 0 4 1 4 2 4 1 4 1 4-1 4 0 4-1 4 0 4 0 5-1 4 0 4-1 4-1 4 1 4 1 4 1 4 1 4 0 4 0 5 0 4 0 4 0 4 0 4 1 4 0 4 0 4-1 4 0 4 0 5-1 4-2 4-1 4 1 4 0 4 0 4 0 4 0 4 1 4 2 5 1 4 0 4-1 4 0 4-1 4-1 4 1 4 0 4 0 4 0 5-1 4 0 4-1 4 0 4-1 4-1 4-2 4-2 4-2 4-3 5-4 4-5 4-4 4-4 4-2 4-1 4 1 4 2 4 3 4 4 5 4 4 4 4 4 4 3 4 3 4 2 4 1 4 0 4 0 4 1 5 3 4 2 4 0 4 0 4-1 4-2 4-1 4 0 4 0 4 1 5 1 4 1 4 0 4 0 4 0 4 0 4-1 4 0 4 0 4 1 5 1 4-1 4 0 4-1 4-1 4 0 4 0 4 0 4-1 4 0 5 1 4 1 4-1 4-1 4-1 4 0 4 2 4 1 4 1 4 0 5 0 4-1 4-1 4 0 4 1 4 1 4 0 4 1 4-1 4-2 5-1 4 1 4 0 4 0 4-1 4 0 4 1 4 0 4 0 4 1 5 0 4 0 4 0 4 1 4 0 4 0 4-1 4 0 4 0 4 1 5 1 4 1 4 0 4-2 4-1 4-1 4 1 4 0 4-1 4 0 5 1 4 1 4 1 4 0 4-1 4-2 4-1 4 0 4 0 4 0 5 0 4 1 4 1 4 1 4 0 4-1 4 0 4-1 4 0 4 0 5 0 4-1 4 0 4 0 4-1 4-1 4-1 4 1 4 2 4 2 5 1 4 1 4 0 4 0 4 0 4-1 4-1 4-2 4-1 4 0 5 0 4 0 4-2 4-2 4-3 4-4 4-4 4-2 4 0 4 1 5 2 4 2 4 1 4 3 4 3 4 4 4 2 4 0 4-1 4 0 5 1 4 1 4 0 4 0 4 0 4 0 4 1 4 0 4 0 4 0 5 0 4 0 4 0 4 0 4 0 4 0 4-1 4 1 4 0 4-1 5-1 4-1 4 1 4 1 4 1 4 0 4-1 4-1 4 0 4 1 5 3 4 2 4 0 4-2 4-1 4-2 4-1 4-1 4 0 4 2 5 1 4 1 4 0 4 0 4 0 4 0 4 1 4 1 4 0 4 0 5-1 4-2 4 0 4 0 4 0 4 0 4 1 4 1 4 0 4-1 5 0 4 0 4 0 4-1 4 0 4-1 4 0 4 1 4 1 4 1 5 1 4 0 4-2 4-2 4-2 4 0 4 1 4 2 4 2 4 0 5 0 4-1 4 0 4 0 4 0 4-1 4-1 4-1 4-1 4 0 5 0 4 0 4 1 4 1 4 0 4 0 4 1 4 0 4-1 4-1 5 2 4 2 4 0 4 0 4-2 4 0 4 0 4 0 4 0 4 0 5 1 4 1 4 1 4 1 4 0 4-1 4-2 4-1 4 1 4 1 5 1 4 0 4-1 4-1 4-1 4 0 4-1 4-1 4 0 4 1 5 1 4 0 4-1 4-1 4-1 4-1 4 1 4 1 4 1 4 2 5 1 4-1 4-1 4-1 4-2 4 0 4 0 4 0 4-1 4-1 5 0 4 0 4 0 4 0 4 1 4 1 4 1 4 0 4 0 4-2 5-1 4 0 4-1 4-1 4 0 4-2 4-2 4-3 4-2 4-2 5-1 4-1 4-2 4-3 4-5 4-5 4-6 4-10 4-12 4-17 5-21 4-28 4-36 4-45 4-54 4-61 4-57 4-39 4-6 4 28 5 53 4 61 4 58 4 49 4 40 4 33 4 25 4 17 4 12 4 9 5 7 4 7 4 5 4 2 4 1 4 1 4 1 4 2 4 3 4 2 5 3 4 1 4 0 4 0 4-1 4 0 4-1 4 0 4 1 4 2 5 3 4 1 4-2 4-1 4-1 4 1 4 1 4 0 4 1 4 1 5 0 4 0 4 1 4 1 4 0 4 0 4 0 4 0 4-1 4 0 5 0 4 0 4 1 4 0 4 0 4 0 4 0 4 0 4-1 4-1 5-1 4-1 4 0 4 1 4 0 4 1 4 1 4 2 4 2 4 0 5 0 4 0 4 1 4 0 4-1 4-1 4-1 4 0 4-2 4 0 5 1 4 1 4 2 4 2 4-1 4-1 4-2 4-1 4-1 4 0 5 0 4 0 4 0 4 0 4 0 4 1 4 1 4 1 4 0 4 1 5-1 4-1 4-2 4-1 4 0 4 1 4 2 4 1 4 0 4 1 5 1 4 0 4-1 4-1 4-1 4-1 4-1 4 0 4 0 4 1 5 1 4 1 4 1 4 1 4 1 4 1 4-1 4-1 4-1 4-1 5-3 4-1 4 1 4 2 4 3 4 2 4 0 4-1 4-2 4-1 5 0 4 1 4 0 4 0 4-1 4 0 4 0 4 0 4 0 4-1 5 0 4 0 4 0 4 0 4 0 4 0 4 1 4 0 4 0 4 0 5-1 4-1 4 0 4 1 4 1 4 1 4 1 4-1 4 0 4 0 5 1 4 1 4 0 4-1 4-1 4-1 4 0 4 0 4 1 4 1 5-1 4-2 4-2 4 0 4 0 4 2 4 1 4 0 4 0 4-2 5-2 4-1 4-1 4 1 4 2 4 2 4 1 4 0 4-1 4-2 5 0 4 1 4 2 4 1 4 0 4-1 4-1 4 1 4 1 4 0 5-1 4 0 4 1 4 1 4 0 4-2 4-1 4 0 4 2 4 1 5 0 4 0 4-2 4 0 4-1 4-1 4 0 4 0 4 1 4 1 5 0 4 0 4 1 4 0 4-1 4-2 4 0 4 1 4 1 4 0 5-1 4 1 4 0 4 0 4-1 4-1 4-1 4 0 4 1 4 1 5 0 4-1 4-1 4 0 4-1 4 0 4-1 4-1 4-1 4-1 5 0 4 1 4 1 4 0 4 0 4-1 4-2 4-4 4-3 4-1 5-1 4-1 4-3 4-5 4-4 4-6 4-8 4-12 4-15 4-18 5-21 4-23 4-26 4-26 4-24 4-20 4-12 4-1 4 11 4 21 5 26 4 28 4 26 4 24 4 18 4 14 4 11 4 8 4 5 4 2 5 1 4 0 4-2 4-5 4-7 4-10 4-11 4-11 4-11 4-10 5-7 4-2 4 3 4 8 4 12 4 14 4 14 4 13 4 10 4 7 5 6 4 5 4 4 4 2 4 1 4 0 4 1 4 1 4 2 4 1 5-1 4-1 4-2 4-2 4-3 4-3 4-4 4-5 4-9 4-12 5-15 4-19 4-22 4-23 4-26 4-26 4-24 4-18 4-8 4 5 5 16 4 24 4 26 4 26 4 26 4 23 4 19 4 16 4 13 4 10 5 7 4 5 4 3 4 3 4 2 4 3 4 1 4 2 4 2 4 2 5 0 4-1 4-1 4 0 4 1 4 2 4 3 4 2 4 1 4-1 5-1 4-1 4 0 4 0 4 1 4 1 4-1 4 0 4 0 4 1 5 1 4 0 4 0 4 0 4 0 4 0 4 0 4 0 4 0 4 0 5 0 4 0 4-1 4-1 4-1 4 1 4 1 4 2 4 1 4 0 5-1 4-1 4-1 4-2 4-1 4-1 4-1 4-1 4-1 4-1 5-1 4-3 4-3 4-4 4-3 4-3 4-1 4 0 4 3 4 4 5 3 4 3 4 3 4 3 4 2 4 1 4 0 4 2 4 2 4 2 5 1 4 0 4-1 4 0 4 0 4 0 4-1 4 1 4 0 4 1 5 2 4 1 4 1 4 0 4 1 4 0 4 0 4 0 4 0 4-1 5-1 4-2 4-1 4 0 4 1 4 1 4 2 4 0 4 0 4 0 5 0 4-1 4 0 4 1 4 1 4 1 4 0 4-1 4-1 4 0 5 0 4-1 4-1 4 0 4 0 4-1 4 0 4-1 4 1 4 1 5 2 4 1 4 0 4-1 4-1 4 1 4 1 4 0 4 1 4 0 5 1 4-2 4-2 4-1 4-1 4 0 4 2 4 1 4 0 4-1 5-1 4-1 4-1 4 0 4 1 4 0 4 1 4 1 4 0 4 0 5 0 4 1 4 1 4 0 4-1 4 0 4 0 4-1 4 0 4 0 5 0 4-1 4-1 4-1 4 0 4 0 4 0 4 1 4 2 4 3 5 2 4 0 4 0 4-1 4-1 4-1 4 0 4 0 4-1 4-2 5-1 4-2 4 0 4 1 4 1 4 1 4 0 4-1 4-1 4 0 5 1 4 2 4 2 4 0 4 0 4-2 4-1 4-1 4 1 4 1 5 0 4 1 4 0 4 0 4 0 4-2 4-1 4 0 4 1 4 1 5 1 4 0 4 1 4-1 4-1 4-1 4 0 4 1 4 1 4 0 5 0 4-1 4-1 4-1 4 1 4 1 4 1 4 0 4-1 4-1 5-1 4 0 4 1 4 1 4 0 4-1 4-2 4-1 4 0 4 1 5 1 4 1 4 1 4-1 4 0 4-2 4-1 4 1 4 2 4 0 5 0 4 0 4 1 4 0 4-1 4-1 4 0 4 1 4 1 4 1 5-1 4-1 4-1 4 0 4 1 4 0 4 0 4-1 4 0 4 1 5 1 4 1 4 0 4-1 4 0 4 0 4 0 4 0 4 0 4-1 5-1 4 0 4 1 4 1 4 1 4 0 4 0 4-1 4 1 4 0 5 0 4-1 4-1 4-2 4 0 4 0 4 0 4 0 4 1 4 0 5 0 4-1 4 0 4-1 4 0 4 0 4 2 4 2 4 1 4 0 5-2 4-1 4-1 4-2 4-1 4-2 4-2 4-3 4-3 4-3 5-3 4-4 4-3 4-3 4-3 4-3 4-3 4-1 4 0 4 0 5 2 4 3 4 2 4 2 4 2 4 3 4 2 4 1 4 0 4 0 5-1 4-2 4-3 4-5 4-5 4-6 4-8 4-8 4-10 4-12 5-14 4-16 4-16 4-16 4-12 4-8 4-3 4 3 4 7 4 12 5 14 4 15 4 14 4 14 4 13 4 11 4 9 4 10 4 9 4 6 5 5 4 4 4 4 4 3 4 1 4 0 4 0 4 2 4 2 4 3 5 1 4 1 4 0 4 1 4 1 4 1 4 0 4 0 4 0 4 0 5-1 4-1 4 0 4 2 4 1 4 0 4-1 4 0 4 0 4 0 5 1 4 2 4 0 4 0 4-1 4-2 4 0 4 0 4 1 4 0 5 0 4 0 4 0 4 0 4-2 4-1 4-2 4-2 4-2 4-1 5-1 4 1 4 0 4 0 4-1 4 0 4-1 4-1 4 0 4 2 5 2 4 3 4 2 4 2 4 1 4 1 4 0 4 0 4 1 4 1 5 1 4-1 4-1 4-2 4 0 4 1 4 1 4 1 4 2 4 0 5 1 4 0 4 0 4-1 4 0 4-1 4 0 4-1 4-1 4-1 5 0 4 1 4 2 4 2 4 0 4-1 4-2 4-2 4 0 4 1 5 2 4 1 4 0 4 0 4 0 4 0 4 0 4-1 4-1 4 0 5 1 4 1 4 1 4 0 4 1 4 1 4-1 4-1 4-2 4 0 5 0 4 0 4 0 4 1 4 1 4 1 4-1 4 0 4 0 4 0 5 0 4 0 4-1 4 0 4 0 4-2 4-1 4-1 4 1 4 1 5 1 4 1 4 1 4 1 4-1 4-1 4-2 4-1 4 1 4 2 5 2 4 2 4 0 4-1 4-2 4-1 4 0 4 1 4 1 4 0 5-2 4-2 4 0 4 0 4 0 4 0 4 0 4 0 4-1 4 0 5 1 4 0 4 2 4 1 4 1 4 0 4-1 4-1 4-1 4 0 5 0 4 1 4 0 4 0 4 0 4 0 4 0 4 1 4 1 4 0 5 0 4 0 4-1 4 0 4 0 4 0 4-2 4-1 4 0 4 1 5 1 4 0 4-1 4 0 4 0 4-1 4-1 4 0 4 0 4 1 5 0 4 0 4 0 4 1 4 1 4 1 4 0 4 0 4-1 4 0 5-1 4 0 4-1 4-1 4 0 4 0 4 2 4 1 4 0 4-1 5-1 4 0 4 0 4 0 4 0 4 0 4 0 4 0 4 0 4-1 5-2 4-1 4 0 4 1 4 2 4 1 4 0 4-1 4 0 4 0 5 0 4 1 4-1 4 0 4-1 4-1 4 0 4 0 4 0 4-1 5-1 4-2 4-1 4 0 4 0 4 1 4-1 4-1 4-2 4-1 5-2 4-2 4-3 4-3 4-4 4-4 4-4 4-2 4-4 4-4 5-4 4-4 4-3 4-6 4-6 4-5 4-4 4-2 4-1 4-1 5-1 4-1 4-1 4 0 4 0 4 0 4 1 4 0 4 2 4 3 5 2 4 1 4 1 4 2 4 3 4 3 4 5 4 5 4 6 4 6 5 6 4 5 4 4 4 3 4 3 4 2 4 1 4 1 4 2 4 3 5 2 4 2 4 0 4 0 4 0 4 0 4 1 4 1 4 0 4 0 5-1 4 0 4-2 4-1 4-2 4-2 4-3 4-5 4-4 4-2 5-1 4 0 4 0 4 2 4 1 4 1 4 0 4 0 4 1 4 1 5 1 4 1 4-1 4-2 4-2 4-3 4-3 4-4 4-4 4-5 5-6 4-5 4-4 4-3 4-4 4-3 4-1 4 0 4 1 4 2 5 4 4 7 4 7 4 7 4 5 4 4 4 4 4 5 4 4 4 3 5 3 4 2 4 2 4 2 4 2 4 2 4 1 4 0 4 1 4 0 5 1 4 0 4 1 4 0 4-1 4-1 4 0 4 1 4 1 4 2 5 2 4 1 4 1 4-1 4-2 4 0 4 1 4 1 4 1 4 1 5 0 4-2 4-2 4-1 4-1 4 0 4 2 4 1 4 1 4-1 5-2 4-1 4 2 4 2 4 0 4-1 4 0 4-1 4-1 4-2 5 0 4 1 4 0 4 1 4 1 4 0 4 1 4 0 4 1 4 2 5 0 4-1 4-1 4 0 4 0 4 0 4-1 4-2 4 0 4 1 5 2 4 1 4 1 4-1 4 0 4 0 4 0 4-1 4-1 4-1 5-1 4 0 4 1 4 1 4 0 4 0 4-1 4 0 4 1 4 1 5 1 4 0 4-1 4-2 4-1 4 1 4 1 4 2 4 0 4-1 5-1 4 0 4 0 4 0 4-1 4 0 4 0 4 1 4 0 4 1 5 0 4 0 4 0 4 0 4-1 4 0 4 1 4 0 4 0 4 0 5 0 4-1 4 0 4 0 4 0 4 1 4-1 4-1 4-1 4 0 5 0 4 1 4 1 4 1 4 0 4 0 4 0 4 0 4 0 4 0 5 0 4-1 4-2 4 0 4 0 4 0 4 1 4 0 4 0 4 0 5-1 4 1 4 0 4 0 4 1 4 1 4 0 4 0 4-1 4-1 5-1 4-1 4 0 4 0 4 0 4 0 4 0 4 0 4-1 4 0 5 0 4 0 4 1 4 2 4 1 4-1 4 0 4-1 4 2 4 2 5 1 4 0 4-2 4-3 4-2 4-1 4 1 4 1 4 0 4-1 5-1 4-1 4 0 4-1 4 0 4 0 4 1 4 0 4-1 4-1 5 0 4-1 4-3 4-2 4-3 4-2 4-2 4-3 4-3 4-4 5-6 4-6 4-6 4-8 4-9 4-9 4-8 4-7 4-5 4-3 5-2 4 1 4 4 4 7 4 8 4 8 4 8 4 7 4 7 4 7 5 5 4 5 4 5 4 3 4 3 4 3 4 2 4 1 4 0 4 0 5 1 4 1 4 2 4 2 4 3 4 2 4 1 4-1 4 0 4 1 5 0 4-1 4-1 4 0 4 1 4 1 4 0 4 0 4-1 4-3 5-3 4-4 4-2 4-3 4-2 4-2 4-1 4-2 4-1 4-2 5-3 4-1 4 0 4 1 4 2 4 2 4 2 4 2 4 2 4 3 5 3 4 3 4 3 4 3 4 1 4 1 4 1 4 0 4 0 4 1 5 1 4 0 4 0 4-1 4 1 4 1 4 1 4 1 4 0 4 1 5-1 4-1 4-1 4 1 4 1 4 3 4 1 4 1 4 0 4 0 5 0 4-2 4-2 4-1 4 0 4 2 4 2 4-1 4-1 4-2 5-1 4 2 4 2 4 0 4-1 4 0 4 0 4 1 4 0 4 0 5 0 4 0 4 0 4-1 4-1 4 0 4-1 4 0 4 1 4 0 5-1 4-1 4-2 4 0 4 0 4 0 4 1 4 1 4 2 4 0 5 0 4-1 4-1 4 0 4-1 4-1 4-1 4 0 4 1 4 0 5 1 4 1 4 1 4 0 4 0 4 0 4 0 4 0 4 0 4 1 5 2 4 0 4-1 4-1 4 1 4 0 4 0 4-2 4-1 4 0 5 1 4 1 4 1 4 0 4 1 4 0 4 0 4-1 4-1 4 0 5 0 4-1 4-1 4 0 4 1 4 1 4 0 4-1 4 0 4 0 5 0 4 1 4 0 4 0 4 1 4 1 4 0 4 0 4-1 4-1 5 0 4 0 4 0 4-1 4-1 4 0 4-1 4 0 4-1 4 0 5 0 4 1 4 1 4 1 4 0 4 0 4 0 4 0 4 0 4 0 5 1 4 0 4 1 4 0 4 0 4 0 4 1 4 0 4-1 4 0 5 0 4 0 4 0 4 0 4 0"/>
<path class="c" transform="scale(.1)" stroke="#ff00ff" stroke-width="90.0" stroke-linecap="round" d="M1182 6521l4 3 4 4 4 4 4 5 5 2 4 3 4 5 4 6 4 6 4 5 4 3 4 2 4 4 4 5 5 5 4 4 4 4 4 3 4 3 4 3 4 4 4 5 4 4 4 5 5 3 4 2 4 2 4 2 4 2 4 3 4 3 4 2 4 1 4 1 5 2 4 2 4 3 4 2 4 4 4 3 4 1 4-1 4 0 4 0 5 1 4 2 4 2 4 3 4 3 4 2 4 2 4 1 4 1 4 1 5 2 4 2 4 1 4 2 4 2 4 2 4 1 4 1 4 1 4 2 5 1 4 1 4 2 4 2 4 1 4 1 4 1 4 2 4 3 4 4 5 4 4 5 4 2 4 1 4 0 4-1 4 2 4 3 4 4 4 2 5 0 4-1 4 0 4 1 4 2 4 1 4 2 4 3 4 3 4 2 5 3 4 2 4 2 4 2 4 2 4 1 4 2 4 2 4 2 4 2 5 2 4 2 4 2 4 2 4 1 4 0 4 0 4 1 4 2 4 3 5 3 4 2 4 1 4 0 4 2 4 2 4 2 4 2 4 1 4 2 5 1 4 2 4 2 4 0 4-1 4 0 4 0 4 1 4 1 4 1 5 2 4 2 4 1 4 1 4 1 4 2 4 2 4 2 4 0 4 0 5 0 4 1 4 2 4 1 4 2 4 1 4 1 4 1 4 0 4 1 5 1 4 2 4 2 4 1 4 1 4 1 4 1 4 0 4 1 4 0 5 0 4-1 4-1 4 1 4 2 4 2 4 2 4 2 4 1 4 0 5 1 4 0 4-1 4-1 4 0 4 0 4 2 4 1 4 1 4 0 5 1 4 2 4 3 4 1 4 1 4-1 4 0 4 0 4 1 4 1 5 0 4-1 4 1 4 0 4 1 4 1 4 0 4 0 4 1 4 1 5 1 4 2 4 0 4 0 4 0 4 0 4 2 4 1 4 1 4 0 5 0 4 0 4 0 4-1 4 0 4 0 4 1 4 1 4 1 4 1 5 0 4 1 4 0 4 1 4 0 4 0 4 1 4 0 4 0 4 0 5 1 4 0 4 0 4 0 4 0 4 0 4 0 4-1 4 0 4 1 5 0 4 1 4 0 4-2 4-1 4 0 4 0 4 1 4 2 4 2 5 2 4 3 4 0 4 0 4-1 4 0 4 0 4 0 4-1 4-1 5 0 4 2 4 2 4 0 4-1 4-1 4 0 4 1 4 1 4 1 5 1 4 0 4-1 4-1 4-1 4 0 4 1 4 2 4 1 4 0 5 0 4-1 4 0 4 0 4 0 4 0 4 0 4 0 4 0 4 0 5 0 4 0 4 0 4 0 4 0 4 1 4 0 4 0 4 0 4 1 5 1 4 2 4 1 4 1 4 0 4-1 4 1 4 0 4 0 4 0 5-1 4 0 4-1 4 0 4 1 4 2 4 0 4 0 4-1 4-1 5 1 4 1 4 1 4 0 4-1 4-1 4 1 4 1 4 2 4-1 5-1 4 0 4 0 4 0 4-1 4 0 4 0 4 3 4 2 4 2 5-1 4-1 4-2 4-1 4-2 4 0 4 2 4 3 4 3 4 2 5 0 4-3 4-2 4-1 4 2 4 1 4 2 4 1 4 0 4 0 5-1 4-1 4 0 4 1 4 0 4 0 4 0 4 1 4 1 4 0 5 0 4-1 4 0 4-1 4-1 4 0 4 0 4 2 4 2 4 0 5-1 4 0 4 0 4 1 4 2 4 1 4 1 4 0 4-1 4-2 5 0 4 1 4 1 4 0 4-1 4 0 4-1 4 0 4-1 4-1 5 0 4 2 4 1 4 0 4 0 4 1 4 1 4 1 4 1 4 0 5-1 4-1 4 0 4 1 4 2 4 2 4 0 4-1 4-1 4-1 5 0 4 0 4-1 4-1 4 1 4 1 4 1 4 1 4-1 4-1 5 0 4 1 4 2 4 1 4 1 4 0 4-1 4 0 4 0 4 2 5 0 4 0 4 0 4 0 4-2 4-1 4-1 4 0 4 0 4 1 5 2 4 2 4 2 4 0 4-1 4-1 4 0 4 0 4 1 4 0 5 1 4 1 4 1 4 0 4 0 4-2 4 0 4 0 4 1 4 0 5 0 4 0 4 0 4 0 4 0 4 1 4 0 4 0 4-1 4 0 5-1 4-2 4 0 4 0 4 1 4 3 4 3 4 2 4 0 4-1 5-1 4-2 4 1 4 1 4 1 4 1 4 0 4 0 4-1 4-1 5-1 4 0 4-1 4-1 4 0 4 1 4 2 4 1 4 1 4 0 5-1 4-1 4 1 4 0 4-1 4-1 4-1 4 0 4 0 4 1 5 0 4 1 4 2 4 2 4 2 4 0 4-2 4-1 4-1 4-2 5-2 4 0 4 1 4 2 4 2 4 2 4 0 4-1 4-1 4 0 5 1 4 1 4 1 4 1 4-1 4-1 4-2 4-1 4 0 4 1 5 0 4 1 4 1 4 1 4 1 4 0 4 0 4 0 4 0 4 0 5-1 4 0 4 1 4 1 4 0 4 0 4 1 4 0 4-1 4-1 5 0 4 0 4 1 4 0 4 0 4 0 4-1 4 0 4-1 4 0 5 1 4 1 4 1 4 1 4-1 4-2 4-2 4 0 4 1 4 2 5 1 4-1 4-1 4 0 4 0 4 2 4 2 4 2 4 1 4 0 5-1 4-1 4 0 4 1 4 0 4 0 4 0 4-2 4-1 4 0 5 0 4 1 4 0 4 1 4 2 4 0 4-1 4-1 4-2 4 0 5 1 4 1 4 0 4-1 4 1 4 1 4 1 4 0 4 1 4 0 5 0 4-2 4-1 4 0 4 1 4 1 4 1 4-1 4-2 4-2 5 0 4 2 4 1 4 1 4 0 4 1 4 2 4 0 4-1 4-1 5 0 4 0 4 0 4 0 4 0 4 0 4 0 4 0 4 0 4 0 5 0 4 1 4-1 4-1 4 0 4 0 4 1 4 1 4 1 4-1 5-2 4-2 4-2 4 0 4 2 4 2 4 1 4 0 4 1 4 1 5 1 4 1 4 0 4 1 4 0 4 0 4 0 4-1 4 0 4-1 5-1 4 0 4 0 4 1 4 0 4 0 4 0 4-2 4-2 4-2 5 0 4 1 4 2 4 1 4 2 4 0 4 0 4 0 4 1 4 1 5 1 4 1 4-1 4-1 4-1 4 0 4 0 4 2 4-1 4-1 5-1 4-1 4 1 4 0 4-1 4-1 4-1 4 1 4 1 4 1 5 0 4 0 4 0 4-1 4 1 4 0 4 1 4 1 4 0 4-1 5 0 4 0 4-1 4-1 4 0 4 0 4 0 4 0 4 0 4 1 5 1 4 1 4 1 4 0 4-1 4 0 4 0 4 1 4 1 4 0 5 0 4 0 4-1 4-1 4-2 4 0 4 2 4 1 4 0 4 0 5 0 4 1 4-1 4-1 4 1 4 0 4 1 4 0 4-1 4-1 5-1 4 0 4 0 4 1 4 0 4 0 4-1 4 1 4 1 4 1 5 1 4 0 4 0 4-1 4-1 4 0 4 0 4 1 4 0 4 0 5 0 4 0 4 2 4 1 4 0 4-1 4-2 4-1 4 1 4 0 5 1 4 1 4 1 4 0 4 1 4-1 4-1 4-1 4-1 4 1 5 0 4-1 4 0 4 0 4 0 4 0 4 0 4 0 4-1 4-1 5-1 4 0 4 1 4 0 4 1 4 1 4 1 4 1 4 1 4 0 5 0 4 0 4 0 4-1 4-2 4-2 4-1 4 1 4 2 4 2 5 2 4 0 4 0 4 0 4-1 4-1 4 0 4-1 4-1 4 0 5 1 4 2 4 2 4 1 4 0 4-1 4-1 4 0 4 0 4 0 5-1 4 0 4 0 4 0 4 0 4-1 4 0 4 1 4 0 4 1 5 1 4 0 4 1 4 0 4 0 4-1 4 0 4 0 4 0 4-1 5-1 4 1 4 1 4-1 4 0 4-1 4-1 4 0 4 0 4 0 5 1 4 2 4 1 4 0 4-1 4-1 4 1 4 1 4 1 4 2 5 0 4-2 4-1 4 0 4 0 4 1 4 0 4 0 4 0 4 0 5 0 4-1 4 0 4 0 4 2 4 0 4 0 4-1 4 0 4-1 5 1 4 0 4 0 4 0 4 0 4-1 4 0 4 1 4 1 4 1 5 0 4 1 4-1 4 0 4-1 4 0 4 0 4 1 4 0 4 0 5 0 4-1 4-1 4 0 4 1 4 1 4 0 4 0 4-1 4-1 5 0 4 0 4 1 4 1 4 1 4 0 4-1 4-1 4-1 4 1 5 1 4 0 4 0 4-1 4-1 4 0 4 0 4-1 4-1 4 0 5 1 4 1 4 0 4 1 4 0 4 0 4-1 4 0 4 0 4-2 5-1 4-1 4 0 4 0 4 1 4 1 4-1 4-1 4 0 4-1 5-1 4-2 4-2 4-1 4-1 4-1 4-2 4-3 4-1 4-1 5 0 4-1 4-2 4-6 4-5 4-4 4-3 4-2 4-4 4-7 5-7 4-8 4-11 4-12 4-14 4-16 4-22 4-28 4-35 4-45 5-56 4-68 4-81 4-91 4-94 4-84 4-55 4-9 4 38 4 75 5 94 4 94 4 86 4 72 4 58 4 46 4 38 4 30 4 26 4 21 5 16 4 14 4 10 4 8 4 8 4 6 4 5 4 4 4 5 4 4 5 3 4 3 4 2 4 2 4 2 4 2 4 1 4 2 4 1 4 2 5 1 4 2 4 1 4 1 4 1 4 2 4 2 4 0 4-1 4-2 5-1 4-1 4 1 4 1 4 2 4 2 4 2 4 1 4 0 4-1 5 0 4 0 4 0 4 0 4 1 4 1 4 1 4 0 4 0 4 0 5-1 4-1 4 0 4 0 4 0 4-1 4-1 4-1 4 0 4 1 5 2 4 0 4 1 4 1 4 1 4 0 4-2 4-1 4 0 4-1 5-1 4-2 4-2 4-1 4 1 4 1 4 1 4-2 4-1 4-1 5-1 4-1 4-4 4-4 4-4 4-7 4-8 4-9 4-12 4-13 5-14 4-12 4-10 4-5 4 4 4 9 4 13 4 13 4 13 4 11 5 10 4 11 4 8 4 6 4 3 4 2 4 2 4 3 4 1 4 0 5 0 4 0 4 0 4 0 4-1 4 0 4 0 4 2 4 1 4 2 5 1 4 2 4 3 4 0 4 0 4-2 4 0 4 1 4 1 4 0 5-1 4-1 4 0 4-1 4-1 4 0 4 0 4 1 4 2 4 2 5 0 4 0 4-1 4-1 4 0 4 0 4-1 4 0 4 0 4 1 5 0 4 0 4-1 4 0 4 1 4 1 4 0 4-1 4 0 4 0 5 1 4 1 4-1 4-1 4-1 4-1 4 2 4 1 4 0 4-2 5-2 4 0 4 0 4 2 4 2 4 1 4 0 4-1 4-1 4 1 5 0 4 0 4-1 4-1 4 1 4 1 4 1 4 1 4-1 4-1 5 0 4 0 4 0 4 0 4 2 4 1 4 1 4-1 4-2 4-2 5 0 4 0 4 1 4 1 4 0 4-1 4 0 4 0 4 0 4-1 5 0 4 0 4 1 4 0 4 1 4 2 4 2 4 1 4 0 4-3 5-3 4-3 4-1 4 0 4 3 4 2 4 2 4 0 4-2 4-2 5-1 4 0 4 0 4 1 4 0 4 1 4 2 4 0 4 0 4-2 5 0 4 0 4 0 4-1 4-1 4-1 4 0 4 2 4 4 4 2 5 1 4 0 4 0 4 0 4-1 4-2 4-3 4-1 4 0 4 1 5 0 4-1 4 1 4 0 4 2 4 2 4 1 4 1 4 0 4-1 5-1 4-1 4-2 4-2 4-1 4 0 4 0 4 1 4 1 4 1 5 2 4 1 4 0 4-1 4-2 4-1 4 1 4 2 4 1 4 0 5-2 4-1 4 0 4 1 4 0 4 1 4-1 4-1 4-2 4 0 5-1 4 0 4 0 4 0 4 1 4 2 4 2 4 2 4 0 4-1 5-1 4 0 4-1 4 0 4-1 4-2 4-3 4 0 4 1 4 2 5 1 4 0 4 0 4 0 4 1 4-1 4-1 4-2 4-1 4 0 5 2 4 2 4 1 4 0 4-2 4-1 4 1 4 0 4 1 4 0 5 1 4 2 4 1 4 0 4-1 4-2 4-4 4-3 4-2 4 0 5 0 4 1 4 2 4 2 4 3 4 1 4-1 4-2 4-2 4 0 5 1 4 1 4 2 4 0 4 1 4 1 4 1 4 0 4-1 4-2 5-1 4 1 4 2 4 1 4-1 4-1 4-1 4-1 4 0 4-1 5 0 4-2 4-1 4 0 4 1 4 1 4 1 4 1 4 1 4 1 5-1 4-1 4 0 4 0 4 1 4 1 4 0 4 0 4-1 4 0 5 0 4-1 4 0 4 1 4 1 4 0 4 0 4 0 4-1 4 0 5-1 4-1 4-2 4-1 4 1 4 2 4 2 4 0 4 0 4-1 5-1 4-1 4 0 4-1 4-1 4-1 4-1 4-1 4 0 4 1 5 2 4 1 4 0 4-1 4 0 4 0 4 0 4 0 4-2 4-1 5 0 4 1 4 0 4-1 4-2 4 0 4 0 4 1 4 0 4-2 5-1 4-1 4 1 4 0 4 0 4-2 4 0 4 0 4 1 4 0 5-1 4-1 4-2 4-2 4-1 4-1 4 0 4 0 4 0 4 0 5 0 4 0 4-1 4-1 4-1 4 0 4-1 4-1 4-1 4-1 5 0 4 1 4 1 4 0 4 1 4 0 4 1 4-1 4 0 4-1 5-1 4 2 4 2 4 2 4 1 4 1 4 0 4-1 4-1 4-2 5-1 4-1 4 1 4 0 4 1 4 1 4 2 4 1 4 1 4 0 5 0 4-2 4-3 4-4 4-4 4-4 4-7 4-7 4-9 4-8 5-7 4-4 4-3 4 0 4 1 4 3 4 5 4 7 4 7 4 8 5 7 4 6 4 5 4 4 4 4 4 4 4 3 4 2 4 1 4 0 5 0 4 0 4 2 4 0 4 0 4-1 4-1 4 0 4 1 4 2 5-1 4-2 4-2 4-1 4-1 4-1 4-2 4-2 4-3 4-3 5-6 4-8 4-6 4-4 4-3 4-2 4-2 4 1 4 1 4 4 5 6 4 6 4 5 4 5 4 3 4 2 4 1 4 1 4 1 4 2 5 2 4 1 4 0 4-1 4 0 4 1 4 2 4 0 4-2 4-3 5-4 4-4 4-4 4-4 4-6 4-7 4-9 4-11 4-14 4-14 5-16 4-19 4-21 4-22 4-21 4-16 4-8 4-1 4 6 4 14 5 19 4 22 4 22 4 19 4 17 4 14 4 13 4 12 4 10 4 8 5 6 4 4 4 3 4 3 4 2 4 0 4 0 4 1 4 0 4 0 5-1 4-1 4 0 4 0 4-1 4-2 4-2 4-3 4-4 4-7 5-7 4-6 4-6 4-6 4-7 4-8 4-8 4-7 4-6 4-3 5-1 4 2 4 3 4 6 4 8 4 8 4 7 4 5 4 6 4 7 5 5 4 3 4 1 4 0 4 1 4 2 4 2 4 1 4 1 4 1 5 0 4 0 4-1 4 0 4-1 4 0 4-2 4-1 4 1 4 1 5 2 4 4 4 4 4 5 4 4 4 3 4 1 4 1 4 0 4 1 5 0 4 0 4 1 4 2 4 3 4 2 4 1 4 1 4 1 4 1 5 1 4 1 4 0 4 0 4 0 4 0 4 1 4 2 4 1 4 1 5-1 4 0 4-1 4 0 4 0 4-1 4-1 4 0 4 0 4 1 5 1 4 0 4 0 4 1 4 1 4 1 4 2 4 2 4 2 4 0 5 0 4-1 4-1 4-2 4-2 4-1 4 0 4 0 4 1 4 1 5 0 4 0 4 1 4 1 4-1 4-1 4-1 4 0 4 0 4 1 5 0 4-1 4-1 4 0 4 1 4 1 4 0 4 0 4-1 4 0 5 1 4 1 4-1 4-2 4-1 4 1 4 1 4 0 4-1 4-1 5-1 4 0 4-1 4-1 4-2 4-3 4-4 4-4 4-3 4-3 5-1 4 0 4 1 4 1 4 2 4 3 4 3 4 3 4 2 4 3 5 2 4 1 4 1 4 1 4 1 4 2 4 0 4 0 4-1 4-2 5 1 4 1 4 2 4 1 4 1 4-1 4-1 4-1 4-1 4 0 5 1 4 1 4 0 4 1 4 0 4 1 4 1 4 0 4-1 4-2 5-1 4 1 4 1 4 0 4-1 4-1 4 0 4 1 4 1 4 1 5 1 4 0 4 0 4-1 4-1 4 0 4 2 4 1 4-1 4-2 5 0 4 0 4 1 4 1 4-1 4 0 4 0 4 0 4 0 4 0 5 0 4-1 4 0 4 0 4 0 4-1 4 0 4 0 4 1 4-1 5-1 4-1 4 0 4 0 4 1 4 1 4-1 4 0 4-1 4 1 5 0 4-1 4 0 4 1 4 1 4 2 4 1 4 0 4 0 4 0 5 0 4 0 4 0 4-2 4-1 4-1 4 0 4 1 4 1 4 1 5 0 4 0 4 0 4 0 4-1 4-1 4-1 4 0 4 0 4-1 5-2 4 0 4 2 4 2 4 2 4 0 4 0 4 0 4 0 4-1 5-2 4-1 4 0 4 0 4-1 4-2 4-1 4-1 4-2 4-2 5 0 4 0 4 1 4 2 4 2 4 2 4 2 4 1 4 0 4 1 5 1 4 0 4 0 4 0 4-1 4-1 4-1 4 0 4 1 4 2 5 1 4-1 4 0 4 0 4 0 4 0 4 0 4-1 4-1 4 0 5 2 4 2 4 1 4-1 4-1 4-1 4 0 4 1 4-1 4-1 5-1 4 0 4 1 4 2 4 1 4 0 4 0 4-1 4 0 4 0 5 0 4 0 4 0 4 0 4 0 4 0 4-1 4 1 4 1 4 1 5 0 4 0 4 0 4 1 4 0 4-1 4-2 4-1 4-1 4-1 5 0 4 1 4 0 4-1 4-1 4-1 4-1 4 1 4 0 4 0 5 1 4 0 4 1 4 1 4 1 4 0 4 0 4 1 4 1 4 1 5 0 4 0 4-2 4-2 4-1 4 0 4 0 4 0 4 0 4 0 5 1 4 2 4 1 4 0 4-1 4-1 4-1 4 2 4 1 4 0 5-3 4-2 4 0 4 0 4 0 4 0 4 0 4 1 4 0 4 0 5 0 4 0 4 0 4 0 4-1 4-1 4-1 4 0 4 1 4 2 5 1 4 1 4 0 4 0 4 1 4 0 4 0 4 0 4-1 4-1 5-1 4 0 4 0 4 1 4 0 4 0 4 0 4-2 4-1 4 1 5 1 4 2 4 1 4 0 4-1 4-1 4-1 4-1 4-1 4-1 5-1 4 0 4 1 4 1 4 1 4-2 4-2 4-2 4 0 4 1 5 1 4 0 4 0 4-2 4-3 4-2 4-2 4 0 4 0 4-1 5-1 4-3 4-4 4-4 4-4 4-4 4-4 4-6 4-7 4-10 5-13 4-18 4-21 4-26 4-29 4-33 4-33 4-31 4-27 4-16 5-1 4 14 4 24 4 31 4 32 4 31 4 29 4 26 4 24 4 19 5 16 4 12 4 9 4 7 4 5 4 4 4 4 4 4 4 3 4 1 5 0 4 0 4 1 4 1 4 3 4 3 4 2 4 1 4 0 4-1 5 0 4-1 4 0 4 0 4 1 4 2 4 2 4 1 4 1 4 1 5 1 4 0 4 0 4-2 4-1 4-1 4-1 4-1 4-1 4 0 5 2 4 1 4 1 4 0 4 1 4 1 4 1 4 0 4 0 4 0 5 0 4-1 4-1 4 0 4 1 4 0 4-1 4-1 4 0 4 1 5 2 4 1 4 0 4 0 4 0 4-1 4-1 4-1 4 0 4-1 5 0 4 1 4 1 4 1 4 1 4-1 4 0 4 0 4 0 4-1 5 1 4 0 4-1 4-1 4-1 4 0 4 0 4 0 4 0 4 0 5 0 4 1 4 1 4 1 4 0 4-2 4-1 4 0 4 1 4 0 5-1 4 0 4 0 4 1 4 1 4 0 4 0 4 1 4 1 4 1 5-1 4-1 4-1 4 0 4-1 4 1 4 0 4 1 4 1 4-1 5-1 4-1 4 0 4-1 4 0 4 0 4 2 4 0 4 0 4-1 5 0 4 1 4 1 4 1 4 1 4-1 4-1 4 0 4-1 4 0 5-1 4-1 4 0 4 0 4 1 4-1 4 0 4 1 4 1 4 1 5 1 4 0 4-1 4-1 4-1 4-1 4 0 4 0 4 1 4 1 5 2 4 1 4 0 4-1 4-1 4-1 4 0 4-1 4 0 4 1 5 1 4 1 4 0 4-1 4 0 4 1 4 0 4 0 4-1 4-2 5-2 4-2 4 0 4 1 4 1 4 1 4 0 4 0 4 1 4 2 5 1 4-1 4-1 4-1 4 1 4 1 4 2 4 0 4-1 4-1 5-1 4-1 4 0 4 0 4-1 4-1 4-2 4-1 4 1 4 2 5 1 4 1 4-2 4 0 4 0 4 1 4 2 4 0 4 0 4 0 5 0 4 0 4-2 4-1 4-1 4 1 4 0 4-1 4 0 4-1 5-1 4-1 4-1 4 1 4 2 4 2 4 0 4-1 4 0 4 1 5 0 4 0 4-1 4 0 4 0 4 0 4-1 4-2 4-1 4 0 5 0 4-1 4-1 4-1 4-1 4-1 4-1 4-1 4 1 4 1 5 0 4-2 4-2 4-4 4-5 4-6 4-6 4-6 4-8 4-12 5-13 4-14 4-14 4-15 4-17 4-17 4-15 4-10 4-4 4 0 5 5 4 10 4 13 4 15 4 16 4 14 4 14 4 11 4 11 4 8 5 6 4 3 4 3 4 2 4-1 4-3 4-4 4-5 4-6 4-7 5-6 4-4 4-3 4-1 4 2 4 3 4 6 4 7 4 7 4 9 5 7 4 6 4 5 4 4 4 3 4 3 4 2 4 1 4 0 4 0 5 0 4 0 4 0 4 0 4-3 4-3 4-4 4-3 4-4 4-8 5-12 4-14 4-14 4-14 4-15 4-16 4-17 4-17 4-14 4-9 5-2 4 2 4 7 4 12 4 17 4 19 4 19 4 18 4 15 4 13 5 11 4 10 4 8 4 7 4 7 4 6 4 4 4 3 4 2 4 2 5 1 4 1 4 0 4 0 4 1 4 2 4 1 4 0 4-1 4 0 5-1 4 1 4 1 4 1 4 0 4 1 4 0 4 0 4 0 4 0 5-1 4-1 4 0 4 0 4 2 4 2 4 2 4 1 4 1 4 1 5 1 4 0 4 0 4-2 4-1 4-1 4 0 4 1 4 1 4 0 5-1 4-2 4-1 4-1 4 0 4 0 4 0 4 0 4-1 4-1 5-2 4-2 4-2 4-2 4-2 4-2 4-2 4-2 4-2 4-1 5 1 4 2 4 3 4 4 4 4 4 3 4 2 4 2 4 0 4 1 5-1 4 0 4-1 4 0 4 2 4 1 4 1 4 0 4 1 4 1 5 1 4-1 4-2 4-2 4-1 4 1 4 0 4 1 4 0 4 1 5 2 4 0 4 0 4 1 4 0 4-2 4-1 4 0 4 1 4 1 5 0 4 0 4 0 4 0 4 1 4 0 4 0 4 0 4 0 4 0 5 0 4 0 4-1 4 1 4 0 4 1 4-1 4-1 4-2 4-1 5 0 4 1 4 1 4 0 4 0 4 1 4 1 4 0 4-2 4-1 5 0 4 2 4 2 4 1 4 0 4-1 4-2 4-1 4 0 4 0 5 0 4 1 4 1 4 0 4 1 4 1 4 1 4-1 4-2 4-1 5 0 4 1 4 0 4 0 4-1 4-1 4 1 4 1 4 1 4 0 5-1 4-2 4-1 4 0 4 1 4 1 4 0 4 1 4 0 4-1 5-1 4 0 4 1 4 2 4 1 4 1 4 0 4 0 4 0 4 0 5 0 4 1 4 0 4 0 4-2 4-1 4-2 4 0 4-1 4-1 5 2 4 1 4 1 4-1 4 0 4-1 4-1 4-1 4 0 4 1 5 2 4 2 4 0 4-1 4 0 4 0 4 0 4 1 4 0 4 1 5 0 4 1 4 0 4 0 4-1 4 0 4 0 4 0 4 0 4 0 5 0 4-1 4 0 4-1 4 0 4 0 4 0 4 1 4 0 4 1 5 0 4 0 4 1 4 0 4 0 4-1 4-2 4-1 4-1 4-1 5 0 4 1 4 2 4 3 4 0 4-2 4-2 4-1 4 0 4 1 5 0 4 0 4-1 4-2 4-2 4-1 4-1 4 1 4 2 4 3 5 2 4 1 4 0 4 0 4-1 4-1 4-2 4 0 4 0 4 1 5 0 4 0 4 0 4 1 4 2 4 0 4 0 4-1 4-1 4-1 5 1 4 2 4 0 4-1 4-1 4 0 4-1 4 0 4-1 4-1 5 0 4 0 4 0 4 0 4 1 4 0 4 1 4 1 4 1 4 1 5 0 4-1 4-2 4-1 4-1 4 1 4 1 4 1 4 0 4-1 5-2 4-1 4-1 4 0 4 1 4 2 4 0 4-2 4-4 4-4 5-3 4-1 4-3 4-1 4-2 4-2 4-2 4-3 4-3 4-1 5-1 4 0 4 0 4 1 4 2 4 3 4 3 4 3 4 1 4 0 5-1 4-1 4-1 4-2 4-1 4-3 4-3 4-6 4-7 4-9 5-11 4-10 4-11 4-10 4-10 4-9 4-10 4-7 4-5 4-1 5 4 4 7 4 10 4 12 4 11 4 12 4 13 4 12 4 9 4 7 5 5 4 4 4 5 4 4 4 4 4 3 4 2 4 1 4 1 4 2 5 3 4 3 4 2 4 0 4 0 4 0 4 1 4 1 4 0 4-1 5-2 4-1 4 0 4-1 4 1 4 1 4 1 4 2 4 1 4 0 5 0 4-1 4 0 4 0 4-1 4-1 4-1 4 0 4 1 4 1 5 0 4-1 4 0 4 0 4 0 4-1 4-3 4-2 4-1 4 0 5 0 4 0 4 1 4 0 4-1 4-3 4-3 4 0 4 2 4 4 5 3 4 3 4 1 4-1 4-1 4-1 4 0 4 1 4 2 4 1 5 1 4 2 4 2 4 0 4-1 4-2 4-1 4-1 4 0 4 2 5 1 4 0 4-2 4-1 4 1 4 1 4 0 4 0 4 0 4 1 5 1 4 0 4 0 4-2 4-1 4 0 4 0 4 0 4 1 4 2 5 1 4-1 4-1 4-1 4-1 4 0 4 1 4 0 4 1 4 0 5 1 4 0 4 0 4 0 4 1 4-1 4-1 4-1 4 0 4 1 5 1 4 0 4 0 4-1 4-1 4-1 4-1 4-1 4 0 4 1 5 0 4 1 4 0 4 2 4 1 4 0 4 1 4-1 4 0 4-2 5-1 4-1 4 0 4 2 4 1 4 0 4 0 4 0 4 0 4 0 5 0 4 0 4-2 4-1 4-1 4 1 4 0 4 2 4 1 4 1 5-2 4-1 4-2 4 1 4 0 4 0 4-1 4 1 4 2 4 2 5 2 4 1 4 0 4 0 4-1 4-1 4-1 4-1 4 0 4 0 5 1 4 1 4 1 4-1 4-1 4-2 4-2 4 0 4 1 4 3 5 1 4-1 4-2 4-1 4 0 4 0 4 0 4 0 4 1 4 0 5 0 4 0 4 0 4-1 4-2 4 0 4 2 4 2 4 0 4-1 5-1 4 0 4 2 4 1 4 0 4 1 4-1 4 0 4-1 4-1 5 0 4-1 4 0 4-1 4 1 4 1 4 0 4-1 4-1 4-1 5-1 4 0 4 1 4 2 4 0 4 0 4 0 4 1 4 0 4 1 5-1 4 0 4 0 4-1 4 1 4 0 4 0 4 0 4 0 4 0 5 1 4 1 4 0 4-1 4-2 4-1 4-1 4 0 4 0 4 1 5 1 4 0 4 0 4-1 4-2 4-3 4-2 4-1 4 0 4 0 5-1 4-2 4-3 4-3 4-3 4-2 4-1 4-1 4-1 4-2 5-1 4-3 4-4 4-4 4-4 4-3 4-4 4-2 4-2 4-1 5 0 4 0 4 1 4 2 4 3 4 3 4 4 4 4 4 3 4 2 5 2 4 3 4 2 4 3 4 3 4 3 4 2 4 3 4 3 4 2 5 2 4 1 4 1 4 1 4 0 4-1 4 0 4 1 4-1 4-1 5 0 4-1 4 0 4 0 4 2 4 1 4 1 4-1 4-1 4 0 5-1 4 0 4-1 4 0 4-1 4-1 4-1 4-2 4-1 4-2 5-3 4-3 4-3 4-2 4-1 4 1 4 1 4 2 4 1 4 1 5 2 4 1 4-1 4-1 4-2 4 1 4 1 4 0 4-2 4-5 5-6 4-4 4-5 4-5 4-4 4-3 4-1 4-1 4 1 4 1 5 1 4 1 4 2 4 3 4 5 4 5 4 5 4 3 4 4 4 3 5 3 4 2 4 4 4 3 4 1 4 2 4 1 4 1 4 0 4 1 5 0 4 0 4 0 4-1 4 0 4 1 4 2 4 1 4 1 4 0 5-1 4 0 4 0 4 0 4 0 4 1 4 0 4-1 4-2 4 0 5-1 4 0 4 0 4-1 4 0 4 0 4 1 4 2 4 2 4 0 5-1 4-2 4 0 4 1 4 0 4-2 4-2 4-1 4 1 4 2 5 1 4 1 4 1 4 2 4 3 4 1 4-1 4-2 4-1 4-1 5 0 4 1 4 0 4 0 4 0 4-1 4-1 4-1 4-1 4 0 5 0 4 0 4 1 4 0 4 1 4-1 4-1 4-1 4 1 4 1 5 0 4 0 4 1 4 0 4 0 4 1 4 0 4 0 4 0 4 0 5 0 4 0 4-1 4 0 4 0 4 1 4 1 4 1 4-1 4-1 5-1 4 0 4 0 4 2 4 1 4 1 4 0 4-1 4 0 4-1 5 0 4 0 4 1 4 0 4 0 4 1 4 0 4 0 4 1 4 1 5 0 4 0 4-2 4-2 4-3 4-2 4 0 4 1 4 2 4 1 5 1 4 0 4-1 4 0 4 1 4 0 4 1 4 0 4-1 4 0 5 0 4-1 4-1 4-1 4 0 4-1 4 1 4 1 4 2 4 1 5 0 4 0 4 1 4 0 4 2 4 1 4 0 4-2 4-3 4-4 5-4 4-1 4 1 4 3 4 2 4 0 4 0 4 1 4 0 4 0 5-1 4 0 4 1 4 1 4 0 4 0 4 0 4-1 4 0 4 0 5 1 4 1 4 1 4 0 4-1 4-1 4-1 4-1 4-2 4 0 5-1 4-1 4 1 4 1 4 2 4 0 4-1 4-1 4-1 4 1 5 1 4-1 4-3 4-3 4-2 4-3 4-2 4-3 4-3 4-3 5-4 4-4 4-5 4-7 4-7 4-7 4-8 4-7 4-6 4-5 5-4 4-2 4 0 4 2 4 4 4 5 4 6 4 6 4 6 4 6 5 5 4 6 4 6 4 5 4 5 4 4 4 3 4 4 4 3 4 2 5 1 4 1 4 1 4 2 4 3 4 1 4-1 4-1 4 0 4 1 5 2 4 1 4 0 4-1 4-1 4-2 4-2 4-1 4-1 4 0 5 0 4 0 4 0 4-2 4-1 4-2 4-1 4-2 4-2 4-3 5-4 4-4 4-2 4 1 4 1 4 2 4 1 4 2 4 3 4 3 5 3 4 3 4 2 4 0 4 0 4 0 4 1 4 2 4 2 4 1 5 1 4 2 4 0 4 0 4-1 4 2 4 1 4 1 4-1 4 0 5 1 4 0 4 0 4 0 4-1 4 0 4 1 4 1 4 0 4 1 5-1 4 0 4-1 4 0 4 0 4 0 4 1 4 0 4 1 4 0 5 0 4 0 4-1 4 0 4 0 4 0 4 1 4 0 4-1 4 0 5 0 4 2 4 1 4-1 4-3 4-2 4 1 4 3 4 2 4 1 5-1 4-1 4-1 4-1 4-1 4-1 4 0 4 1 4 1 4 2 5 1 4 1 4-1 4-2 4-2 4-1 4 0 4 1 4 2 4 0 5-1 4-1 4-1 4 1 4 4 4 2 4 0 4-1 4-1 4-1 5 0 4 1 4 2 4 1 4 0 4 0 4-2 4-1 4-1 4 1 5 0 4-1 4-1 4 0 4-1 4 0 4 0 4 0 4 0 4-1 5 0 4 0 4-1 4 1 4 1 4 2 4 1 4 1 4 0 4 1 5 0 4 0 4-1 4-2 4-1 4-1 4 0 4 0 4 0 4 0 5 1 4 0 4 1 4 1 4 0 4 0 4 0 4 0 4 0 4-2 5-1 4-1 4-1 4 0 4 0 4 1 4 2 4 2 4 0 4 0 5-1 4 1 4 0 4 1 4-1 4-2 4 0 4 0 4 0 4 1 5 0 4-1 4 0 4 0 4 0"/>
<path class="c" transform="scale(.1)" stroke="#008000" stroke-width="90.0" stroke-linecap="round" d="M1182 5520l4 3 4 4 4 5 4 6 5 7 4 5 4 3 4 3 4 5 4 5 4 5 4 4 4 3 4 4 5 5 4 6 4 5 4 1 4 0 4 3 4 4 4 5 4 3 4 2 5 3 4 4 4 5 4 5 4 3 4 2 4 0 4-1 4 0 4 3 5 5 4 5 4 3 4 2 4 1 4 0 4 0 4 0 4 0 4 2 5 3 4 3 4 3 4 1 4 0 4 1 4 1 4 2 4 2 4 2 5-1 4-1 4 0 4 3 4 4 4 1 4 0 4 0 4 2 4 2 5 2 4 1 4 1 4 4 4 4 4 5 4 3 4 3 4 1 4 2 5 1 4 2 4 2 4 2 4 1 4-2 4-1 4 0 4 2 4 3 5 3 4 2 4 1 4 2 4 3 4 3 4 2 4 3 4 4 4 3 5 1 4 1 4 1 4 0 4-1 4 0 4 0 4 2 4 2 4 2 5 3 4 1 4 1 4 1 4 3 4 3 4 2 4 3 4 1 4-1 5-1 4-1 4 2 4 4 4 3 4 1 4 0 4 0 4 0 4 2 5 3 4 2 4 0 4 0 4 0 4 0 4 1 4 0 4 1 4 1 5 2 4 3 4 3 4 1 4 0 4 0 4 1 4 2 4 3 4 2 5 2 4 1 4 1 4 1 4 4 4 3 4 3 4-1 4-2 4-2 5 0 4 0 4 2 4 3 4 4 4 3 4 2 4-1 4-1 4 0 5 0 4-1 4-1 4 1 4 3 4 3 4 1 4 0 4-1 4-1 5 0 4 1 4 0 4 0 4 0 4 2 4 1 4 0 4 1 4 3 5 3 4 1 4-2 4-1 4 0 4 2 4 1 4 0 4 1 4 3 5 4 4 2 4 1 4-1 4-2 4-3 4-2 4 1 4 2 4 2 5 0 4-1 4 0 4 1 4 2 4-1 4 0 4 0 4 1 4 1 5 1 4 1 4 0 4-1 4 1 4 1 4 1 4 2 4 2 4 2 5 1 4 0 4-1 4 0 4 0 4 1 4 2 4 1 4 1 4 1 5-1 4 0 4-1 4-2 4-2 4-1 4 0 4 2 4 1 4 1 5-1 4-1 4 0 4 2 4 4 4 1 4-2 4-2 4 0 4 2 5 1 4 0 4-1 4-1 4 0 4 0 4 0 4 1 4 2 4 1 5 1 4 0 4-1 4 0 4 0 4-1 4-1 4 0 4 0 4 0 5 2 4 2 4 0 4 0 4 0 4 0 4-1 4-1 4-1 4 0 5 2 4 3 4 1 4 0 4 0 4-1 4-2 4-2 4-1 4 1 5 1 4 0 4 0 4 2 4 2 4 3 4 0 4-1 4-1 4 0 5 0 4 0 4-1 4 0 4-1 4-1 4 0 4 1 4 2 4 1 5 1 4 3 4 2 4 1 4-1 4-2 4-2 4-1 4 1 4 0 5 0 4 1 4 1 4-1 4 0 4 0 4 2 4 1 4 0 4 0 5-1 4-1 4-1 4 1 4 1 4 2 4 2 4 1 4 1 4 0 5 0 4 0 4 0 4 0 4-2 4-2 4-2 4 1 4 3 4 2 5 1 4 1 4 1 4 0 4 0 4 0 4 0 4 1 4 0 4-1 5-2 4 0 4-1 4 0 4 1 4 0 4 0 4 0 4 0 4 0 5 0 4 0 4 0 4 1 4 1 4 1 4 2 4 2 4 2 4 2 5 0 4 0 4-2 4-2 4-2 4-2 4-1 4 0 4 2 4 1 5 1 4 0 4-2 4-2 4-3 4-1 4 1 4 3 4 3 4 1 5 0 4 1 4 2 4 1 4 0 4-1 4-2 4-3 4-2 4 0 5 2 4 3 4 2 4 0 4 0 4-1 4-1 4-2 4-1 4 0 5 3 4 4 4 3 4 1 4 0 4-1 4 0 4 0 4 0 4 0 5-1 4-2 4-2 4-1 4-1 4 0 4 1 4 2 4 1 4 2 5 1 4 0 4-1 4-2 4-2 4 0 4 2 4 2 4 0 4-1 5-2 4-4 4-1 4 0 4 1 4 2 4 3 4 3 4 1 4 0 5-1 4 1 4 1 4 1 4-1 4 0 4 0 4 1 4 0 4 1 5 0 4-1 4-1 4 0 4 0 4 2 4 1 4 0 4 0 4 0 5 0 4 1 4 0 4-1 4-2 4-3 4-2 4 0 4 2 4 2 5 0 4 0 4 0 4 2 4 1 4 0 4 0 4 1 4 1 4 1 5 0 4 0 4 1 4-1 4-1 4-2 4-3 4-1 4 1 4 2 5 1 4 1 4 0 4-1 4-1 4 0 4 2 4 1 4 0 4-2 5-2 4 0 4 0 4 1 4 1 4 1 4 0 4 0 4 1 4 2 5 1 4 0 4-2 4-2 4-1 4 0 4 2 4 1 4 3 4 1 5 1 4-1 4 0 4 0 4 0 4 0 4-1 4-2 4 0 4 1 5 2 4 0 4 1 4-1 4-2 4-2 4-1 4 1 4 1 4 2 5 2 4 2 4 0 4-1 4 0 4-2 4-2 4-1 4 0 4 2 5 2 4 1 4-2 4-3 4-2 4 1 4 2 4 2 4 2 4-1 5-1 4 0 4 2 4 1 4-1 4-1 4-1 4 0 4 1 4-1 5 0 4 1 4 1 4 1 4 0 4 0 4 0 4 0 4 0 4 0 5-1 4-1 4-1 4 1 4 2 4 2 4 2 4 2 4 0 4-2 5-2 4-2 4 0 4 2 4 2 4 2 4 0 4-1 4-1 4 0 5 1 4 0 4 0 4-1 4 0 4 0 4 1 4 0 4-1 4 0 5 0 4 1 4-2 4-3 4-2 4-1 4 0 4 2 4 1 4 2 5 1 4 1 4-1 4-1 4-1 4-1 4 1 4 1 4 1 4 1 5 2 4 1 4 1 4-1 4-1 4 0 4 0 4 1 4-1 4-2 5-1 4 0 4 1 4 1 4 2 4 0 4 0 4-2 4-1 4-1 5 1 4 1 4 1 4 0 4-1 4 0 4 0 4 0 4-3 4-2 5 0 4 2 4 1 4 2 4 2 4 2 4 2 4 0 4-3 4-3 5 0 4 1 4 0 4 0 4 0 4 1 4 1 4 0 4 0 4-1 5 1 4 0 4 0 4 1 4-1 4-1 4-2 4-3 4-3 4-1 5 1 4 2 4 3 4 2 4 1 4-1 4-1 4-1 4-1 4-1 5-2 4-1 4 2 4 3 4 3 4 1 4 1 4 1 4 1 4 0 5 0 4-1 4-1 4 0 4-1 4 0 4-2 4-1 4 1 4 1 5 0 4 0 4-1 4-1 4-2 4-1 4 1 4 5 4 6 4 4 5 0 4-3 4-2 4-1 4-2 4-2 4-2 4 1 4 2 4 2 5 2 4 0 4 0 4-2 4-3 4-2 4 0 4 2 4 3 4 2 5 0 4-1 4-1 4-2 4-2 4-2 4-2 4 0 4 2 4 1 5 0 4 0 4 0 4 2 4 2 4 3 4 2 4 1 4 0 4-2 5-4 4-4 4-2 4 1 4 1 4 1 4 1 4 2 4 1 4 1 5 0 4 0 4 1 4 1 4 0 4 0 4 0 4 0 4 0 4-1 5-1 4-1 4-1 4-1 4 0 4 1 4 0 4-2 4-2 4 0 5 1 4 1 4 1 4-1 4 0 4 1 4 2 4 1 4-1 4-1 5 1 4 1 4 1 4 0 4 0 4-1 4-1 4-3 4-2 4-2 5 1 4 1 4 2 4-1 4-1 4 0 4 1 4 3 4 1 4 0 5-1 4-1 4 0 4-1 4 0 4 1 4 2 4 0 4-2 4-3 5-2 4 0 4 1 4 2 4 1 4 1 4 1 4 1 4 0 4-1 5 0 4 1 4 1 4 1 4-1 4 0 4 0 4-2 4-2 4-2 5-1 4 0 4 1 4 1 4 2 4 1 4-1 4-2 4-3 4-1 5 0 4 2 4 3 4 2 4 1 4-1 4-1 4-1 4 0 4-1 5 0 4 2 4 2 4 0 4-1 4-1 4 0 4 2 4 1 4 1 5-1 4-1 4 1 4 1 4 0 4 0 4 0 4 0 4 0 4 1 5-1 4-1 4 1 4 0 4-1 4-1 4 1 4 2 4 2 4 1 5 0 4-2 4-1 4-1 4 0 4 0 4 0 4 0 4 0 4 3 5 2 4 1 4-2 4-2 4-2 4 1 4 0 4 0 4 1 4 1 5 1 4 0 4 1 4 2 4 1 4 0 4-1 4-1 4-1 4-1 5-1 4 0 4 0 4-1 4 0 4 1 4 1 4-1 4-1 4-1 5 0 4 0 4-1 4 0 4 0 4 2 4 2 4 2 4 2 4 0 5-1 4 0 4 0 4 0 4-1 4-2 4 0 4 1 4 2 4-1 5-1 4-1 4 0 4 1 4 0 4-1 4-3 4-4 4-3 4-1 5-2 4-1 4 0 4-1 4-1 4-2 4-3 4-1 4-2 4-2 5-3 4-5 4-7 4-8 4-9 4-8 4-9 4-13 4-20 4-27 5-34 4-47 4-67 4-97 4-137 4-183 4-212 4-175 4-33 4 134 5 208 4 196 4 154 4 111 4 78 4 55 4 40 4 29 4 21 4 15 5 11 4 9 4 8 4 5 4 5 4 5 4 6 4 4 4 5 4 3 5 3 4 2 4 2 4 1 4 0 4-1 4 0 4 0 4 1 4 1 5 1 4-1 4 0 4 1 4 2 4 3 4 3 4 3 4 2 4 0 5-2 4-1 4 0 4 1 4-1 4 0 4 2 4 2 4 0 4 0 5-2 4 0 4 0 4 1 4 1 4 0 4 0 4 0 4-1 4-1 5 0 4 0 4 2 4 0 4-1 4-2 4-2 4 1 4 2 4 1 5-1 4-1 4-2 4-1 4-1 4-1 4 1 4 3 4 2 4 2 5 0 4-2 4-3 4-3 4-1 4-1 4 1 4 0 4-1 4-1 5-1 4-2 4-1 4 0 4 0 4-1 4-4 4-7 4-12 4-15 5-17 4-21 4-24 4-24 4-13 4 4 4 18 4 24 4 24 4 22 5 18 4 14 4 8 4 4 4 1 4 1 4 1 4 2 4 2 4 2 5 1 4 1 4 0 4 0 4 1 4 1 4 1 4-1 4-1 4 0 5 1 4 1 4 0 4 0 4 2 4 0 4-1 4 0 4 1 4 2 5 2 4 0 4-1 4-1 4 0 4 0 4-1 4-2 4-2 4-1 5 1 4 2 4 2 4 1 4-3 4-3 4-1 4 2 4 3 4 2 5 0 4 0 4 1 4 2 4-1 4-3 4-3 4 0 4 0 4 0 5-1 4-1 4 1 4 2 4 3 4 3 4 2 4 0 4-2 4-2 5-2 4-1 4-2 4-2 4-2 4 1 4 2 4 3 4 3 4 1 5 0 4 0 4 0 4-1 4-2 4-3 4-3 4-1 4 1 4 3 5 2 4 0 4-1 4-1 4 0 4 1 4 1 4 2 4 0 4 1 5 0 4 0 4-1 4 0 4-2 4-3 4-2 4 0 4 2 4 1 5 2 4 1 4 0 4-1 4-1 4 0 4 1 4 2 4 3 4 2 5 0 4-2 4-2 4-2 4-2 4-2 4-1 4-1 4 0 4 1 5 2 4 2 4 2 4 1 4 1 4 1 4 0 4 0 4 0 4-1 5-2 4-2 4-1 4-1 4 1 4 1 4 0 4-1 4 1 4 0 5 0 4 0 4 2 4 4 4 2 4-1 4-3 4-2 4-1 4 2 5 2 4 1 4-1 4-2 4-2 4-1 4 1 4 0 4 1 4 0 5 0 4-1 4-2 4 0 4 1 4-1 4-2 4-1 4 0 4 3 5 2 4 2 4 0 4-1 4 1 4 0 4 0 4 0 4-1 4 1 5 1 4 1 4 0 4-4 4-4 4-1 4 2 4 2 4-1 4-2 5-2 4 0 4 2 4 2 4 1 4 1 4 0 4-1 4-2 4 0 5 2 4 1 4 1 4 0 4 1 4 1 4 0 4-1 4-2 4-2 5-1 4-1 4-1 4 1 4 2 4 0 4 0 4-1 4 0 4 1 5 2 4 2 4 1 4-1 4-1 4-1 4-1 4-2 4 0 4 0 5 1 4 1 4 1 4 0 4-1 4-1 4-2 4-2 4-1 4 1 5 4 4 3 4 0 4 0 4-2 4-2 4-1 4 1 4 2 4 1 5-1 4-2 4-1 4 3 4 4 4 1 4-2 4 0 4 2 4 1 5-2 4-3 4-1 4 1 4 2 4-1 4-3 4-3 4-2 4 0 5 1 4 0 4 0 4 0 4 1 4 1 4 1 4 0 4-2 4-1 5 0 4 1 4 1 4 1 4 0 4-2 4-2 4-1 4 0 4-1 5-2 4 0 4 0 4 2 4 1 4 1 4 0 4 0 4 2 4 2 5 0 4 0 4 0 4 0 4 0 4-2 4-2 4-2 4-1 4 0 5 1 4 2 4-1 4-2 4-3 4-1 4 0 4 2 4 4 4 2 5 1 4-2 4-2 4-1 4-1 4-2 4-1 4-1 4 1 4 2 5 0 4-1 4-1 4-3 4-4 4-3 4-2 4-1 4-1 4 0 5 1 4 2 4 2 4-1 4-2 4 0 4-1 4-1 4-3 4-3 5-3 4-3 4-3 4-1 4-2 4-2 4-1 4-2 4-2 4-2 5-2 4-1 4-3 4-4 4-6 4-5 4-5 4-4 4-4 4-3 5-1 4-2 4-2 4-2 4-2 4-2 4-4 4-5 4-4 4-2 5-2 4-1 4-2 4-3 4-2 4 0 4-1 4-1 4-2 4-1 5 2 4 3 4 4 4 3 4 1 4 3 4 5 4 3 4 3 4 2 5 1 4 3 4 2 4 2 4 1 4 0 4-1 4-2 4-4 4-5 5-5 4-5 4-5 4-3 4 0 4 4 4 6 4 8 4 10 4 11 5 10 4 10 4 7 4 4 4 2 4 3 4 3 4 3 4 3 4 3 5 4 4 4 4 3 4 1 4 1 4 1 4-1 4 0 4-1 4-3 5-4 4-1 4 2 4 2 4 1 4 1 4-1 4-2 4-4 4-4 5-4 4-6 4-5 4-6 4-5 4-6 4-6 4-2 4 1 4 6 5 9 4 8 4 6 4 3 4 3 4 4 4 4 4 2 4 2 4 1 5 1 4 2 4 0 4-2 4-2 4-1 4 1 4 1 4-1 4-2 5-3 4-1 4-1 4-1 4-4 4-4 4-7 4-9 4-9 4-11 5-13 4-19 4-24 4-29 4-32 4-31 4-29 4-20 4-6 4 9 5 22 4 29 4 31 4 28 4 24 4 20 4 17 4 13 4 9 4 5 5 5 4 3 4 1 4 0 4 0 4-1 4-1 4-4 4-4 4-3 5-3 4-2 4-4 4-5 4-5 4-3 4-3 4-4 4-6 4-8 5-11 4-10 4-9 4-8 4-8 4-9 4-9 4-6 4-1 4 3 5 5 4 6 4 5 4 5 4 5 4 5 4 5 4 6 4 8 4 7 5 6 4 2 4 2 4 3 4 4 4 7 4 8 4 6 4 4 4 2 5 1 4 3 4 4 4 4 4 1 4 0 4-1 4 0 4 2 4 6 5 7 4 8 4 7 4 6 4 3 4 1 4 0 4 0 4 0 4 1 5 4 4 3 4 3 4 1 4 1 4 1 4 2 4 3 4 4 4 2 5 0 4 0 4-2 4-2 4 0 4 1 4 2 4 0 4-1 4 0 5 0 4 2 4 3 4 3 4 3 4 0 4-2 4-2 4 0 4 1 5 1 4 0 4 0 4 0 4 0 4-1 4 0 4 1 4 1 4 2 5 2 4 0 4 0 4-1 4-2 4-2 4 1 4 2 4 2 4-1 5-2 4-2 4 0 4 2 4 1 4 1 4 0 4-1 4-1 4 1 5 0 4-1 4-2 4-3 4 0 4 1 4 1 4 0 4-2 4-2 5-1 4 1 4 3 4 2 4 1 4 1 4 2 4 1 4 0 4-2 5-3 4-3 4-2 4 0 4 0 4 0 4-3 4-4 4-6 4-5 5-4 4-1 4 3 4 4 4 4 4 4 4 3 4 3 4 3 4 3 5 3 4 1 4 0 4 0 4 2 4 1 4 1 4-1 4-1 4-1 5 1 4 3 4 2 4 0 4-1 4 0 4 0 4 0 4-1 4-1 5 0 4 0 4-1 4 1 4 1 4 3 4 2 4 0 4-2 4-1 5-1 4 0 4-1 4-1 4 0 4 2 4 2 4-1 4-2 4-2 5 0 4 1 4 2 4 1 4-1 4 0 4 1 4 0 4 0 4 0 5-1 4-1 4 0 4 1 4 0 4 0 4 0 4 1 4 0 4-1 5-2 4 0 4 1 4 3 4 3 4 2 4-1 4-1 4-3 4-2 5-3 4-2 4-1 4 1 4 2 4 2 4 1 4-1 4-2 4-2 5-1 4 0 4 0 4 1 4 2 4 2 4 1 4-1 4 0 4 0 5 1 4 1 4 1 4 2 4 0 4-2 4-2 4-1 4 1 4 1 5 0 4 2 4 1 4-1 4-1 4-1 4 1 4 1 4 0 4-1 5-1 4-1 4 0 4 0 4 1 4 1 4 0 4-1 4-2 4-2 5-1 4 0 4 0 4-1 4-1 4 1 4 3 4 1 4 0 4-2 5-3 4-3 4-1 4 2 4 2 4 2 4 1 4 1 4 0 4 1 5 1 4 0 4-1 4-3 4-1 4 1 4 3 4 2 4 0 4-2 5-2 4-1 4-2 4-2 4 0 4 2 4 4 4 2 4 0 4-2 5-1 4 1 4 0 4 0 4 0 4 1 4-1 4-1 4-2 4 1 5 3 4 2 4 1 4 0 4-1 4 1 4 1 4 2 4 2 4 1 5 0 4-2 4-4 4-3 4-2 4-2 4-1 4-1 4 2 4 2 5 1 4 1 4 0 4 2 4 1 4 0 4 0 4 0 4 0 4-1 5 1 4 1 4 1 4 0 4 0 4 0 4-1 4-1 4-2 4-1 5 1 4 1 4 0 4-1 4-1 4 0 4 0 4 1 4 1 4 0 5 1 4 0 4 0 4-1 4-1 4-1 4 0 4 0 4 0 4 0 5 0 4-1 4-1 4 0 4 0 4-1 4-1 4 0 4 1 4 1 5-1 4 0 4 0 4 0 4-1 4 0 4 0 4 0 4 1 4 2 5 2 4 1 4-1 4-1 4-1 4-2 4-1 4-2 4-1 4 0 5 1 4 3 4 3 4 2 4 1 4 1 4 0 4-2 4-3 4-2 5-1 4 1 4 0 4 1 4 1 4 1 4 1 4 1 4 0 4-1 5-1 4-1 4 0 4 0 4-1 4-3 4-2 4 1 4 2 4 1 5-2 4-2 4-2 4-1 4 1 4 1 4 2 4 1 4 1 4-1 5 0 4 0 4-1 4-2 4-3 4-3 4-3 4 0 4 0 4 0 5 0 4 0 4 0 4 0 4-2 4-3 4-5 4-6 4-10 4-12 5-12 4-15 4-18 4-22 4-27 4-33 4-38 4-39 4-37 4-30 5-16 4-2 4 15 4 28 4 37 4 39 4 39 4 35 4 29 4 23 5 18 4 16 4 13 4 12 4 8 4 5 4 4 4 2 4 1 4 0 5 0 4 2 4 2 4 1 4 1 4 1 4 2 4 1 4 1 4-1 5 0 4 2 4 4 4 2 4 1 4-1 4-3 4-2 4-2 4 0 5 2 4 2 4 1 4 1 4 0 4 0 4-1 4 1 4 2 4 2 5 1 4 0 4-2 4-1 4-1 4-2 4-1 4 0 4 0 4 0 5 0 4 0 4 1 4 2 4 3 4 2 4 0 4-2 4-3 4-1 5 0 4 0 4 2 4 0 4 0 4 1 4 1 4 2 4 1 4 0 5 1 4 0 4-2 4-3 4-4 4-1 4 2 4 2 4 1 4 0 5 0 4 0 4-2 4 0 4 0 4 1 4 0 4 0 4-1 4 0 5 1 4 1 4 0 4 0 4-1 4 1 4 3 4 2 4-1 4-2 5-2 4-2 4-1 4 1 4 1 4 3 4 2 4 0 4-1 4 0 5 0 4-1 4-1 4-1 4-1 4 0 4 1 4 2 4 0 4-2 5-2 4 0 4 2 4 2 4-1 4-2 4-1 4 1 4 1 4-2 5-1 4 1 4 2 4 2 4 2 4 0 4-3 4-3 4-3 4-1 5 1 4 3 4 2 4 0 4-1 4 0 4 0 4 1 4 0 4 0 5-1 4 1 4 2 4 2 4 1 4-1 4-2 4 0 4 1 4 1 5 0 4-1 4-1 4-1 4-1 4 1 4-1 4-1 4-1 4 0 5 2 4 2 4 1 4 1 4-1 4-1 4-2 4-1 4-1 4 1 5 0 4 0 4-1 4 1 4 3 4 2 4 0 4-1 4-1 4 0 5-1 4-1 4-3 4-2 4-1 4 0 4 0 4 0 4 0 4 2 5 2 4 2 4 2 4 1 4 1 4-2 4-1 4 1 4 0 4-1 5-2 4-1 4 0 4 0 4 0 4-1 4 0 4-1 4-1 4 0 5 1 4 2 4 2 4 0 4 0 4 1 4 2 4-1 4-1 4-1 5 0 4-1 4-1 4-1 4 0 4 0 4-2 4-2 4 0 4 1 5-1 4-2 4-1 4 1 4 1 4 1 4 0 4 0 4 1 4 2 5 1 4-1 4-1 4 0 4-2 4-4 4-2 4 0 4 1 4-1 5-1 4 0 4-1 4-2 4-4 4-3 4-4 4-4 4-8 4-12 5-13 4-13 4-15 4-17 4-18 4-17 4-15 4-15 4-13 4-7 5 1 4 6 4 11 4 13 4 16 4 18 4 18 4 16 4 13 4 12 5 9 4 7 4 4 4 1 4 0 4-2 4-3 4-4 4-5 4-5 5-5 4-4 4-5 4-3 4-1 4 3 4 6 4 6 4 5 4 5 5 7 4 7 4 6 4 5 4 3 4 3 4 3 4 5 4 4 4 0 5-2 4-3 4-1 4-2 4-2 4-2 4-2 4-2 4-2 4-4 5-4 4-7 4-9 4-12 4-15 4-17 4-18 4-17 4-19 4-17 5-12 4-4 4 3 4 10 4 15 4 18 4 19 4 18 4 17 4 15 5 13 4 12 4 8 4 7 4 4 4 5 4 4 4 6 4 6 4 4 5 2 4-1 4-1 4 0 4-1 4-1 4-1 4 1 4 1 4 1 5 2 4 1 4 1 4 0 4 0 4-2 4-1 4 0 4 0 4-1 5-1 4 1 4 2 4 2 4 0 4-3 4-1 4 2 4 4 4 2 5 1 4 0 4 0 4-1 4-2 4-3 4-1 4-1 4 0 4 0 5 0 4 3 4 3 4 1 4-1 4-2 4-1 4 1 4 1 4 0 5-2 4-4 4-4 4-2 4-2 4-4 4-4 4-5 4-2 4 1 5 2 4 2 4 3 4 3 4 4 4 3 4 4 4 1 4-1 4 0 5 2 4 2 4 2 4 1 4 4 4 3 4 3 4 0 4-2 4-4 5-1 4 0 4 1 4 0 4-1 4-1 4-1 4-2 4-1 4-2 5 0 4 0 4 2 4 2 4 2 4 2 4 0 4-1 4-2 4-1 5 0 4 3 4 3 4 1 4-1 4-2 4-2 4 0 4 0 4 1 5 1 4 1 4 1 4 0 4 1 4 1 4-1 4-2 4-4 4-1 5 1 4 2 4 2 4 2 4 1 4 0 4-2 4-2 4 0 4 0 5 0 4 1 4 1 4 1 4 0 4 0 4 1 4 1 4 0 4-1 5-3 4-3 4 0 4 2 4 1 4 1 4 2 4 1 4-1 4-1 5 1 4 1 4 0 4-2 4-1 4 0 4 0 4-1 4-1 4 0 5 0 4 0 4 1 4 0 4-1 4-2 4-2 4 0 4 4 4 2 5 1 4 0 4-2 4-2 4-2 4-2 4-1 4 0 4 1 4 1 5 1 4 2 4 1 4 1 4 0 4 0 4 0 4-1 4 0 4 0 5 0 4-2 4-2 4 0 4 0 4 2 4 1 4 0 4 0 4 0 5 0 4-1 4 1 4 2 4 1 4 0 4 0 4 1 4 0 4 1 5-1 4-1 4 1 4 0 4 0 4 0 4-2 4-2 4-3 4-2 5 1 4 1 4 1 4 1 4 0 4 1 4-2 4-2 4-2 4 0 5 3 4 1 4 1 4 0 4 1 4 0 4-1 4 1 4 1 4 0 5 0 4 0 4-1 4-1 4 0 4 2 4 4 4 2 4-2 4-3 5-4 4-1 4 2 4 2 4 2 4 0 4-2 4-2 4-2 4-1 5 2 4 4 4 1 4-1 4-3 4-1 4 0 4 1 4 2 4 3 5 2 4-1 4-3 4-4 4-2 4 0 4 1 4 1 4 0 4 1 5 2 4 2 4 1 4 0 4-1 4-3 4-3 4-3 4 0 4 2 5 3 4 2 4 1 4-1 4-3 4-2 4-1 4 0 4-1 4 0 5 0 4 1 4 2 4 2 4 0 4 0 4 1 4 0 4-1 4-2 5-2 4-1 4 0 4 1 4 0 4-1 4-1 4-1 4-1 4 0 5 0 4 0 4-1 4-2 4-3 4-4 4-4 4-4 4-1 4-1 5 0 4 0 4 1 4 1 4 0 4 0 4 0 4 1 4 3 4 4 5 5 4 6 4 2 4-2 4-5 4-5 4-4 4-4 4-4 4-3 5-2 4-3 4-5 4-8 4-10 4-11 4-13 4-13 4-13 4-13 5-11 4-7 4-2 4 3 4 6 4 10 4 13 4 14 4 13 4 11 5 11 4 10 4 9 4 8 4 9 4 5 4 3 4 1 4 1 4 3 5 3 4 0 4 0 4 1 4 3 4 4 4 1 4-1 4-1 4 1 5 2 4 1 4-2 4 0 4 0 4-1 4-1 4-1 4 1 4 1 5 1 4-1 4-2 4-2 4 0 4 1 4 2 4 1 4-1 4-3 5-1 4 1 4 4 4 3 4 0 4 0 4 0 4 0 4 0 4-1 5-2 4-2 4-2 4-3 4-3 4-1 4-1 4-1 4 0 4 1 5 2 4 3 4 4 4 3 4 3 4 2 4-1 4-1 4-2 4 0 5 1 4 2 4 0 4 0 4 0 4 1 4 0 4 0 4 0 4-2 5-1 4 0 4 1 4 1 4 0 4-2 4-1 4 1 4 2 4 1 5 0 4 1 4 0 4 0 4-1 4 0 4 2 4 1 4-1 4-2 5-1 4-1 4 0 4-1 4 0 4 0 4-1 4-1 4 1 4 1 5-1 4-2 4-1 4 2 4 0 4-1 4-1 4 3 4 4 4 3 5 0 4-1 4-1 4-1 4-1 4-2 4 0 4 1 4 1 4 1 5 1 4-1 4 0 4 1 4 0 4 1 4 1 4 1 4 0 4-1 5-2 4-2 4 1 4 1 4 0 4-2 4-1 4 2 4 2 4 2 5 1 4-2 4-3 4-2 4 0 4 0 4 1 4-1 4-2 4-2 5 0 4 1 4 0 4 0 4-1 4 1 4 2 4 3 4 1 4-1 5-1 4 0 4 2 4 2 4 2 4 1 4-2 4-3 4-2 4-2 5-1 4 1 4 0 4 1 4 0 4 1 4 2 4 1 4-1 4-2 5 0 4-1 4-1 4 0 4 1 4 0 4 0 4 0 4 1 4 1 5 3 4 2 4 0 4-2 4-2 4-2 4-2 4 0 4 2 4 2 5 2 4 1 4-1 4-2 4-3 4-2 4-1 4 0 4 1 4 0 5-1 4-1 4 1 4 0 4 1 4 1 4 1 4 0 4 0 4 1 5 1 4 1 4 1 4 0 4-2 4-1 4 0 4 2 4 2 4 0 5 0 4 0 4-1 4-2 4-1 4-1 4 1 4 1 4 1 4 0 5-1 4 0 4-1 4 0 4-1 4-1 4 0 4 1 4-1 4-1 5-2 4-2 4-2 4-2 4-2 4 1 4 1 4 0 4-1 4-1 5 0 4 0 4 1 4 1 4-1 4-2 4-2 4-3 4-3 4-2 5-2 4-4 4-4 4-5 4-5 4-3 4-2 4-4 4-4 4-4 5-2 4-1 4 2 4 4 4 4 4 3 4 3 4 3 4 4 4 5 5 5 4 2 4 1 4 1 4 3 4 4 4 3 4 1 4 0 4 2 5 3 4 2 4 1 4-1 4 0 4-1 4-1 4-1 4 2 4 3 5 2 4 1 4 0 4 0 4-2 4-2 4-1 4 0 4 2 4 2 5 0 4 0 4-1 4-1 4 0 4-1 4 0 4-1 4 0 4-3 5-2 4-1 4 0 4-1 4-1 4 1 4 1 4 1 4 0 4 1 5 2 4 1 4 1 4 0 4-1 4 1 4-1 4-4 4-6 4-7 5-5 4-2 4-3 4-4 4-5 4-6 4-5 4-4 4-1 4 1 5 2 4-1 4 1 4 4 4 7 4 7 4 5 4 4 4 3 4 3 5 4 4 4 4 3 4 1 4 0 4 1 4 4 4 3 4 3 4 1 5 0 4 0 4 0 4 0 4-1 4-1 4-2 4 0 4 1 4 3 5 2 4 0 4 0 4 0 4 0 4 1 4 1 4 1 4-1 4-3 5-2 4 0 4 0 4-1 4-3 4-1 4 2 4 3 4 3 4 1 5 1 4 0 4 1 4 0 4 0 4-1 4-1 4-2 4-2 4-1 5 0 4 2 4 2 4 1 4-1 4-2 4-2 4 0 4-1 4 0 5 0 4 0 4 1 4-1 4 0 4 0 4-1 4 1 4 1 4 3 5 2 4 0 4-1 4 0 4-2 4-2 4-2 4 0 4 3 4 4 5 3 4 0 4-2 4-4 4-2 4-2 4 0 4 0 4 1 4 2 5 2 4 1 4 0 4 0 4 0 4-1 4-1 4 0 4 0 4 1 5 1 4 1 4 0 4 1 4 0 4 0 4 0 4-2 4-1 4 0 5-1 4-1 4 0 4 2 4 1 4-3 4-3 4 0 4 4 4 4 5 2 4 1 4-1 4-2 4-2 4 0 4 0 4 1 4 1 4 2 5 1 4 0 4 0 4-1 4-1 4-1 4-1 4-3 4-4 4-1 5 2 4 4 4 2 4 0 4 1 4 1 4 0 4 0 4-1 4 0 5 0 4-2 4-2 4 0 4 1 4 0 4-2 4-3 4-1 4 1 5 2 4 1 4 0 4 0 4 0 4 0 4 2 4 4 4 3 4 1 5-2 4-2 4-2 4-1 4-1 4 0 4 0 4 0 4 1 4 1 5 2 4 0 4-1 4-2 4-1 4-2 4-3 4-1 4-1 4 0 5 0 4 2 4 3 4 3 4 1 4-1 4-3 4-3 4-2 4-1 5 0 4-1 4 0 4 0 4 0 4-2 4-3 4-1 4 0 4 0 5-3 4-6 4-7 4-8 4-7 4-5 4-7 4-7 4-7 4-7 5-6 4-4 4-2 4 0 4 1 4 3 4 5 4 6 4 7 4 7 5 8 4 7 4 6 4 4 4 3 4 4 4 3 4 5 4 4 4 4 5 1 4 2 4 4 4 4 4 2 4-1 4-1 4-2 4-2 4-1 5-2 4-1 4 0 4 3 4 3 4 2 4 1 4-1 4-1 4-1 5-1 4-1 4-1 4 0 4-1 4-2 4-2 4-1 4-1 4 0 5-1 4-2 4-3 4-3 4-1 4 2 4 4 4 4 4 2 4 3 5 1 4 1 4 0 4-1 4-2 4-1 4 1 4 2 4 2 4 2 5 1 4 0 4 0 4 0 4 3 4 3 4 1 4-1 4-3 4-2 5 0 4 0 4 0 4 1 4 2 4 2 4 0 4 0 4-2 4 0 5 1 4 1 4-1 4-2 4-1 4 2 4 2 4 2 4 0 4-1 5-1 4-3 4-2 4-1 4 0 4 2 4 1 4-1 4 0 4 0 5 0 4 0 4 0 4 0 4 1 4 1 4 1 4 1 4 1 4 0 5-1 4-2 4-1 4 0 4 3 4 1 4 0 4-1 4-1 4-2 5-1 4 1 4 1 4 1 4 1 4 0 4-2 4-2 4-1 4 0 5 0 4 0 4 1 4 3 4 2 4 0 4-2 4-2 4-1 4-1 5 1 4 1 4 2 4 1 4 1 4 1 4 0 4 0 4-1 4-1 5-2 4 0 4 1 4 0 4-1 4-1 4 0 4 0 4-1 4 0 5 2 4 2 4 2 4 1 4-1 4-2 4-1 4 0 4 0 4-1 5-1 4-1 4 0 4-1 4-2 4 1 4 2 4 3 4 2 4 0 5 0 4 0 4 0 4 0 4 1 4 1 4 0 4-2 4-1 4 1 5 2 4 2 4-1 4-3 4-3 4 0 4 2 4 2 4-1 4-1 5 0 4 1 4-1 4 0 4-1 4 1 4 1 4 0 4-2 4-1 5-1 4 0 4 1 4-1 4-1 4 1 4 2 4 1 4-1 4-1 5 0 4 1 4 0 4 0 4 0"/>
<path class="c" transform="scale(.1)" stroke="#000080" stroke-width="91.0" stroke-linecap="round" d="M1182 4241l4 1 4 1 4 2 4 3 5 3 4 5 4 6 4 7 4 6 4 6 4 5 4 5 4 5 4 6 5 4 4 2 4 4 4 4 4 4 4 1 4 0 4 2 4 7 4 6 5 1 4-1 4 2 4 6 4 6 4 2 4-2 4-1 4 2 4 5 5 4 4 3 4 1 4 0 4 1 4 2 4 3 4 3 4 1 4-1 5-1 4-1 4 1 4 5 4 4 4 0 4-3 4-3 4 2 4 6 5 8 4 4 4 1 4 0 4 1 4 3 4 3 4 0 4-2 4-1 5 4 4 5 4 3 4 2 4 0 4-2 4-3 4-1 4-1 4 1 5 1 4 4 4 5 4 4 4 2 4 0 4-1 4 3 4 5 4 3 5 1 4 1 4 0 4 0 4 2 4 1 4 0 4-1 4-2 4 0 5 3 4 5 4 1 4-3 4 1 4 5 4 4 4 1 4-1 4-2 5-1 4 1 4 0 4 1 4 2 4 2 4 2 4 3 4 2 4 4 5 4 4 1 4-2 4-4 4 1 4 3 4 3 4 2 4 2 4 3 5 2 4-2 4-3 4 1 4 3 4 3 4 2 4 1 4 0 4-1 5 1 4 2 4 0 4-1 4 1 4 4 4 1 4 0 4-1 4 2 5 3 4 3 4 4 4 2 4 0 4-1 4-1 4 1 4 3 4 1 5 0 4 2 4 0 4-1 4 0 4 2 4 3 4 0 4-1 4 0 5 1 4 0 4 3 4 3 4 0 4 0 4 2 4 2 4 0 4-2 5-1 4 1 4 1 4 3 4 3 4 0 4-3 4-1 4 0 4 1 5 4 4 5 4 2 4 0 4-1 4 0 4-1 4-2 4-1 4 2 5 3 4 1 4 0 4 0 4 3 4 2 4 1 4 2 4 3 4 3 5 1 4 2 4 0 4-1 4-3 4-1 4 0 4 0 4 0 4 0 5 1 4 0 4-1 4-1 4 0 4 1 4-1 4-1 4-1 4-1 5 1 4 3 4 4 4 2 4 0 4-1 4 1 4 2 4 0 4-3 5-1 4-1 4 0 4 1 4 1 4 1 4 2 4 3 4 1 4 1 5 0 4-4 4-4 4-1 4 0 4 2 4-1 4-1 4-2 4-1 5 2 4 4 4 4 4 1 4 0 4 1 4-1 4-2 4-3 4 1 5 2 4 2 4-2 4-3 4-1 4 3 4 4 4 2 4 0 4-3 5 0 4 2 4 0 4-2 4-2 4 0 4 1 4 3 4 2 4-1 5-1 4-1 4 2 4 2 4 4 4 3 4 0 4-2 4-3 4-2 5 0 4 2 4 1 4 1 4 0 4-1 4-2 4 0 4 0 4 0 5-1 4-1 4 1 4 3 4 2 4 1 4 0 4 1 4 0 4 0 5 0 4 0 4-2 4-3 4 0 4 1 4-1 4-2 4-4 4-2 5 2 4 3 4 3 4 2 4 1 4 0 4-1 4-1 4 0 4 1 5 1 4-1 4-1 4 1 4 4 4 3 4 0 4 0 4 1 4 1 5-1 4-1 4 0 4 0 4-2 4-1 4 0 4 1 4 1 4 0 5 0 4 1 4 2 4 1 4 2 4 2 4 0 4-2 4-4 4-3 5-2 4-1 4 0 4 2 4 3 4 4 4 3 4 1 4-1 4 0 5 0 4 0 4-3 4-1 4 0 4 0 4-5 4-3 4 2 4 6 5 3 4-1 4-2 4 0 4 1 4 2 4 1 4-2 4-5 4-4 5 3 4 5 4 3 4 0 4-1 4 1 4 2 4 1 4-3 4-2 5-1 4 2 4 4 4 3 4 2 4 1 4-3 4-4 4 1 4 4 5 2 4-2 4-6 4-5 4-4 4-2 4 1 4 6 4 6 4 2 5-1 4-3 4-1 4-1 4 0 4 1 4 1 4 3 4 3 4 2 5 0 4 2 4 1 4-2 4-2 4-2 4-1 4-1 4 1 4 2 5 0 4 0 4 3 4 2 4 0 4-2 4-2 4 0 4 1 4 0 5 1 4 1 4 1 4 0 4 0 4-1 4-1 4 1 4 1 4 0 5 0 4-1 4-1 4 0 4 2 4-1 4-4 4-2 4-2 4-2 5 0 4 4 4 6 4 2 4 1 4 0 4 1 4-1 4-1 4-3 5-1 4 0 4-3 4-4 4-1 4 3 4 2 4 0 4-1 4-2 5 0 4 1 4 2 4 2 4 3 4 3 4 0 4 0 4-1 4-3 5-1 4 2 4 1 4-1 4 2 4 5 4 3 4-1 4-3 4-4 5-3 4-1 4 2 4 2 4 0 4-3 4-1 4 2 4 3 4 3 5 3 4 1 4 0 4-1 4-4 4-3 4 1 4 4 4 3 4 1 5-2 4-3 4-4 4-2 4 1 4 2 4 2 4 1 4-1 4 0 5 0 4-2 4 0 4 2 4 0 4-2 4-4 4-4 4 0 4 4 5 6 4 3 4-1 4-2 4-3 4-2 4-1 4 1 4 4 4 2 5 1 4-1 4 0 4-1 4-3 4-4 4-6 4-2 4 1 4 3 5 4 4 5 4 5 4 5 4 1 4-1 4 0 4 0 4 0 4-1 5-1 4-2 4-1 4-1 4-2 4-3 4 0 4 2 4 2 4 1 5-1 4-1 4 2 4 4 4 1 4-1 4-1 4 2 4 3 4 1 5 0 4-2 4-2 4 0 4 2 4 1 4 0 4-2 4-2 4 1 5 1 4 0 4-2 4-3 4 0 4 2 4 4 4 2 4-1 4-3 5-1 4 2 4 4 4 0 4-3 4-3 4 0 4 1 4-1 4-2 5 0 4 0 4-1 4-3 4-1 4 4 4 4 4 3 4 1 4 1 5 1 4-4 4-5 4-1 4 2 4 5 4 3 4 0 4-3 4-4 5-3 4 1 4 2 4 2 4 1 4 3 4 3 4 1 4-4 4-4 5-5 4-4 4-3 4 1 4 4 4 5 4 3 4 0 4-2 4-3 5-1 4 2 4 1 4 2 4 3 4 2 4 0 4-2 4 0 4 0 5-3 4-3 4-1 4 1 4 2 4 1 4-2 4-3 4 0 4 2 5 3 4 2 4-1 4-2 4-1 4 0 4 1 4 1 4 0 4-2 5-2 4-2 4 0 4 4 4 3 4 0 4-2 4 3 4 6 4 4 5-2 4-5 4-2 4 1 4-3 4-4 4-2 4-2 4-1 4 4 5 6 4 4 4 0 4-1 4-2 4 0 4 1 4 1 4-2 4-4 5-5 4-2 4 3 4 2 4 2 4 2 4 0 4-1 4-1 4 1 5-2 4-1 4 0 4 1 4 0 4 1 4 1 4 2 4 1 4 1 5-1 4-1 4-3 4-2 4 0 4 1 4 1 4 1 4 2 4 2 5-1 4-1 4 0 4 2 4 2 4 0 4-1 4-3 4-3 4 1 5 4 4 4 4 2 4 1 4 1 4-2 4-3 4-1 4 2 4 2 5-1 4-3 4-1 4 1 4 2 4 0 4 0 4-1 4-4 4-3 5-1 4-1 4 2 4 3 4 4 4 3 4-1 4-3 4-3 4-1 5 1 4 3 4 2 4-2 4-3 4 0 4 1 4 0 4-3 4-1 5-1 4 0 4 1 4 0 4-1 4-1 4 2 4 4 4 0 4-3 5-2 4 2 4 4 4 3 4-1 4-2 4-1 4 0 4 0 4 0 5 0 4 1 4 1 4 0 4-1 4-1 4 1 4 1 4 0 4-1 5-1 4 1 4 1 4-1 4-1 4-2 4-2 4 0 4 0 4 2 5 1 4 0 4-2 4-1 4 1 4 2 4 1 4 1 4-1 4-2 5-1 4 1 4 0 4-1 4 1 4 0 4 0 4 0 4 1 4-1 5 0 4 1 4 3 4 1 4 1 4 0 4-2 4-1 4 1 4 1 5 0 4-1 4-1 4-3 4-3 4 1 4 4 4 3 4 0 4-1 5-2 4-3 4-2 4 0 4 3 4 3 4 2 4 1 4 0 4-1 5-4 4-5 4-3 4 0 4 5 4 6 4 2 4-2 4-4 4-4 5-2 4 3 4 4 4 2 4 0 4-2 4-1 4 2 4 3 4 1 5-1 4-3 4-2 4-1 4 3 4 4 4 2 4 0 4-1 4-3 5-4 4-2 4 1 4 1 4 1 4-1 4-1 4 0 4 0 4-1 5 0 4 1 4 0 4 0 4 2 4 2 4 2 4 1 4 0 4 0 5 1 4-1 4-2 4-1 4 0 4-1 4 0 4 0 4-2 4-2 5 1 4 2 4 0 4-2 4-2 4 0 4 1 4 0 4 2 4 0 5 0 4 3 4 1 4-1 4-1 4-2 4-3 4-3 4-1 4 2 5 3 4 3 4 1 4-4 4-4 4 0 4 3 4 4 4 2 4-2 5-3 4-2 4-1 4 0 4-1 4-1 4 0 4 1 4 2 4 0 5-3 4-1 4-1 4 0 4 1 4 3 4 2 4 0 4-3 4-3 5-2 4-3 4-2 4-2 4-1 4 2 4 0 4-3 4-3 4 0 5 4 4 2 4-3 4-4 4-5 4-4 4-6 4-2 4 0 4-2 5-8 4-12 4-13 4-14 4-19 4-25 4-32 4-41 4-48 4-59 5-73 4-84 4-81 4-55 4-11 4 36 4 68 4 81 4 79 4 70 5 57 4 45 4 35 4 28 4 24 4 17 4 12 4 9 4 7 4 7 5 5 4 1 4 1 4 1 4 3 4 5 4 4 4 4 4 1 4-1 5-2 4 0 4 1 4 0 4 1 4 0 4 3 4 4 4 2 4-2 5-2 4-1 4 0 4 1 4 3 4 3 4 0 4-2 4-1 4 1 5 0 4 0 4-3 4-2 4 1 4 4 4 4 4 2 4 2 4 3 5 3 4 0 4 0 4 0 4-1 4-3 4-1 4 0 4 0 4 0 5 1 4 2 4 1 4-2 4-4 4-4 4-2 4-1 4 1 4 5 5 5 4 3 4 0 4-5 4-4 4 0 4 3 4 1 4-1 4 0 5 1 4 0 4-1 4 0 4-3 4-5 4-5 4-4 4-3 4-3 5-5 4-8 4-9 4-10 4-10 4-9 4-7 4-6 4-3 4 2 5 6 4 8 4 12 4 12 4 9 4 7 4 6 4 5 4 2 4 1 5 1 4 3 4 4 4 4 4 2 4 3 4 2 4 0 4-1 4-1 5-1 4-1 4 1 4 3 4 2 4 0 4-2 4-2 4-2 4-1 5 2 4 1 4 0 4-1 4-2 4 0 4 5 4 6 4 2 4-2 5-3 4-1 4 1 4 0 4 1 4 1 4-1 4-2 4-2 4-1 5 1 4-1 4 0 4-1 4-2 4 0 4 3 4 1 4 1 4 3 5 4 4 3 4 0 4-2 4-2 4-1 4-2 4-2 4 2 4 4 5 1 4-1 4-1 4-1 4-1 4-1 4-3 4-1 4 0 4 0 5-1 4 0 4 1 4 1 4 1 4 1 4 3 4 0 4 0 4 2 5-1 4-2 4-2 4-2 4-1 4 2 4 1 4 0 4 3 4 2 5 0 4-3 4-2 4 1 4 3 4 1 4 0 4 0 4 2 4-1 5-2 4-2 4-1 4-2 4 0 4 1 4 1 4 0 4-1 4-2 5-2 4-1 4 1 4 2 4 0 4-1 4-4 4-2 4-1 4 2 5 2 4 3 4 3 4 0 4-2 4-2 4-1 4 1 4 3 4 1 5-1 4-3 4-2 4-2 4-2 4 0 4 4 4 2 4 2 4 2 5 1 4 0 4-1 4-1 4 1 4 0 4-3 4-4 4 0 4 2 5 1 4 2 4 2 4 1 4 0 4 1 4 1 4-1 4-4 4-4 5-2 4 0 4 0 4-1 4-2 4 1 4 3 4 3 4 0 4-2 5-2 4 1 4 1 4 0 4 1 4 0 4 1 4 2 4 3 4 1 5-3 4-4 4-3 4-1 4 4 4 4 4 1 4-3 4-2 4-1 5-1 4-2 4-1 4 0 4 1 4 4 4 3 4 1 4-2 4-2 5-2 4-2 4-2 4 2 4 3 4 2 4-2 4-3 4-1 4 1 5 2 4 3 4 0 4-1 4-2 4-1 4-3 4-3 4-3 4 0 5 2 4 2 4 0 4-3 4-1 4 1 4 0 4-2 4-3 4-3 5-1 4 2 4 4 4 0 4-3 4-3 4-4 4-4 4-1 4 0 5 1 4 0 4-2 4 0 4 1 4 2 4 1 4 0 4-1 4-1 5 0 4 2 4 3 4 3 4 3 4 1 4 0 4 3 4 3 4 2 5 0 4-2 4-1 4 2 4 1 4 2 4 1 4 2 4 2 4 2 5 0 4 0 4 0 4 3 4 1 4-3 4-5 4-2 4 2 4 3 5 1 4-2 4-3 4-2 4 0 4 3 4 4 4 1 4-3 4-3 5 0 4-1 4-2 4-3 4 1 4 4 4 3 4 1 4 0 4 0 5 1 4 1 4-1 4-3 4-1 4 1 4 1 4 0 4 0 4 1 5 1 4-2 4-2 4-2 4-1 4-1 4 2 4 4 4 1 4-2 5-1 4 1 4 1 4-1 4-1 4-2 4-5 4-5 4-2 4 1 5 2 4 0 4-1 4-1 4 1 4 2 4 1 4-1 4-3 4-3 5-1 4 1 4-1 4-3 4-1 4 3 4 3 4 1 4-1 4 1 5 2 4 0 4-3 4-4 4-2 4-1 4-2 4-5 4-4 4-1 5 3 4 2 4 0 4-2 4-4 4-5 4-6 4-5 4-5 4-5 5-4 4-4 4-7 4-11 4-14 4-14 4-13 4-15 4-20 4-22 5-26 4-26 4-26 4-27 4-30 4-34 4-35 4-28 4-19 4-9 5-1 4 6 4 13 4 21 4 29 4 31 4 30 4 29 4 27 4 27 5 25 4 24 4 21 4 16 4 12 4 11 4 9 4 8 4 8 4 9 5 9 4 5 4 2 4 1 4 1 4 1 4 0 4 0 4-1 4 0 5-1 4-1 4-1 4 1 4 3 4 5 4 5 4 4 4 2 4 2 5 2 4 3 4 4 4 5 4 5 4 3 4 2 4 0 4 1 4 3 5 2 4 2 4-1 4-3 4-2 4 1 4 6 4 4 4 0 4-4 5-5 4-4 4-3 4-2 4-2 4-3 4-3 4-2 4-3 4-5 5-5 4-1 4 4 4 5 4 3 4 0 4-1 4 1 4 3 4 2 5 2 4 4 4 5 4 2 4 0 4-1 4 0 4-2 4-2 4 1 5 5 4 4 4 0 4-2 4-3 4-2 4-2 4-2 4-4 4-6 5-5 4-5 4-6 4-9 4-12 4-16 4-18 4-17 4-18 4-16 5-12 4-8 4-6 4-3 4 2 4 9 4 15 4 18 4 17 4 15 5 12 4 9 4 8 4 6 4 4 4 3 4 1 4-1 4-2 4 0 5 1 4 0 4-2 4-5 4-7 4-8 4-9 4-9 4-9 4-9 5-11 4-12 4-10 4-11 4-14 4-18 4-19 4-16 4-17 4-20 5-21 4-23 4-24 4-22 4-20 4-18 4-15 4-10 4-7 4-4 5 2 4 9 4 13 4 15 4 16 4 17 4 20 4 24 4 25 4 22 5 18 4 16 4 18 4 20 4 17 4 14 4 12 4 12 4 13 4 12 5 10 4 9 4 8 4 6 4 7 4 8 4 8 4 3 4 2 4 3 5 7 4 9 4 6 4 2 4 1 4 1 4-1 4 1 4 2 4 2 5 2 4 3 4 5 4 5 4 0 4-2 4-3 4-2 4 0 4 1 5 5 4 4 4 2 4-1 4-2 4 2 4 1 4-2 4-3 4 0 5 1 4 2 4 0 4-2 4-1 4 2 4 4 4 3 4 2 4 0 5-2 4-2 4 0 4 2 4 3 4 2 4 1 4-1 4 1 4 1 5 2 4-2 4-5 4-3 4-2 4 1 4 4 4 5 4 2 4-1 5-4 4-4 4-2 4 2 4 3 4 2 4 2 4 1 4 0 4 0 5-1 4-2 4-1 4-1 4-2 4 0 4 1 4 2 4-1 4-2 5 0 4 1 4 1 4 1 4 0 4-1 4-3 4-6 4-3 4-2 5 0 4 1 4 0 4-2 4-3 4-2 4-1 4 0 4 0 4 1 5 2 4 3 4 4 4 3 4 4 4 3 4 0 4-2 4 0 4 2 5 4 4 3 4 0 4-3 4-2 4 1 4 1 4-1 4-1 4-1 5 3 4 3 4 0 4-2 4-2 4-3 4-1 4 3 4 4 4 3 5 2 4 0 4-1 4-1 4 1 4-1 4-1 4 1 4 1 4 1 5 0 4-1 4 0 4 0 4-1 4-2 4-2 4 1 4 2 4 0 5-2 4-1 4-1 4 0 4 1 4 1 4-3 4-3 4-2 4 1 5 1 4 1 4-1 4 0 4 2 4 2 4 1 4-1 4 0 4 3 5 2 4 0 4-1 4-1 4-3 4-1 4 0 4 1 4 2 4 2 5 0 4-2 4 0 4 2 4 2 4-1 4-3 4-3 4-1 4 3 5 3 4 1 4 1 4-1 4-1 4 0 4 1 4-1 4-3 4-4 5-2 4 1 4 3 4 2 4 0 4 0 4 0 4 0 4 0 4 1 5 2 4 2 4 1 4 2 4 1 4-2 4-2 4 0 4 1 4 2 5-2 4-2 4-2 4-4 4-4 4-1 4 2 4 3 4 2 4 3 5 2 4 2 4 1 4 1 4-2 4-3 4-1 4 0 4-2 4 0 5 3 4 3 4 1 4-2 4-2 4-2 4 0 4 1 4 0 4 0 5 0 4 0 4-2 4-2 4-2 4 0 4 2 4 2 4 0 4-1 5-1 4-1 4 3 4 4 4 1 4 0 4 0 4 1 4 2 4 1 5-2 4-2 4-1 4 1 4 2 4-1 4-2 4-1 4 0 4-1 5-2 4 1 4 2 4-1 4-3 4-4 4-1 4 2 4 4 4 3 5 1 4 1 4 2 4-1 4-4 4-4 4 0 4 1 4 1 4 0 5 0 4 0 4 1 4 0 4-1 4 1 4 2 4 0 4-2 4 0 5 2 4 1 4-3 4-2 4-1 4 2 4 2 4 1 4-1 4-3 5-1 4 0 4 1 4 2 4 3 4 3 4 3 4 0 4-5 4-4 5 0 4 1 4 2 4 2 4 0 4-2 4-2 4-3 4-3 4-3 5-2 4 1 4 4 4 5 4 3 4-1 4-3 4-2 4-1 4 1 5 2 4 4 4 2 4 0 4-2 4-1 4 0 4 1 4 0 4-2 5-2 4 0 4 1 4 1 4-2 4-1 4 0 4-1 4 1 4 1 5 0 4-1 4-1 4 2 4 1 4-2 4-2 4-1 4 1 4 2 5 2 4 1 4-1 4-3 4-3 4 0 4 0 4 0 4 0 4 2 5 3 4 2 4 1 4-1 4-2 4-3 4-1 4 1 4 0 4-3 5-4 4-1 4 0 4-1 4-1 4 1 4 1 4-2 4-3 4-1 5 2 4 2 4 3 4 2 4-2 4-3 4-3 4-5 4-7 4-7 5-5 4-2 4-6 4-9 4-10 4-8 4-10 4-14 4-17 4-19 5-20 4-20 4-18 4-15 4-10 4-4 4 4 4 10 4 14 4 16 5 20 4 20 4 18 4 12 4 9 4 8 4 10 4 7 4 4 4 4 5 6 4 4 4 0 4-1 4 0 4-1 4-2 4-4 4-5 4-4 5-4 4-2 4 0 4 2 4-2 4-4 4-2 4-5 4-8 4-8 5-4 4 3 4 5 4 4 4 0 4-1 4 0 4 5 4 7 4 4 5 5 4 5 4 5 4 6 4 5 4 5 4 3 4 3 4 4 4 4 5 1 4 1 4 3 4 5 4 5 4 2 4 0 4 0 4-1 4 0 5 0 4 0 4 3 4 7 4 8 4 4 4 0 4-2 4-1 4-1 5-1 4-1 4 1 4 4 4 3 4-1 4-4 4-2 4-1 4 0 5 1 4 4 4 2 4-2 4-5 4 0 4 2 4 1 4-1 4-1 5 0 4-1 4-1 4-1 4 0 4 0 4 1 4 3 4 2 4-1 5-2 4-1 4-1 4-1 4 1 4 1 4 2 4 1 4 1 4 3 5 3 4 0 4-3 4-2 4 0 4 3 4 1 4-3 4-4 4-1 5 0 4 1 4 0 4 1 4 1 4 1 4 2 4 1 4 1 4 0 5 1 4-1 4 1 4 2 4-1 4-3 4-3 4-2 4-1 4-1 5 0 4 2 4 2 4 2 4 2 4 1 4-1 4-2 4-1 4 2 5 2 4 0 4 1 4 2 4 0 4-1 4-3 4-2 4-2 4 0 5 1 4 0 4 1 4 2 4 1 4-2 4-2 4-2 4-1 4 1 5 1 4 1 4 1 4 2 4 1 4 0 4-1 4-2 4-2 4-1 5 0 4-3 4-1 4 1 4 4 4 4 4 1 4-2 4-2 4-1 5-1 4-1 4 0 4 1 4 2 4 3 4 3 4 0 4-2 4-2 5-1 4 1 4 1 4 0 4-1 4 0 4-2 4-1 4-2 4-1 5 0 4 1 4 1 4-1 4-3 4-2 4-1 4 0 4 1 4 2 5 1 4 1 4 1 4 2 4 1 4 0 4 0 4 2 4 3 4 1 5-2 4-2 4-1 4-2 4 0 4 3 4 3 4 1 4-1 4-1 5-4 4-4 4-2 4 1 4 1 4 1 4 0 4 0 4-1 4-1 5-1 4 1 4 1 4 0 4-2 4-1 4-1 4-2 4 0 4 2 5 3 4 2 4-1 4-3 4-6 4-3 4 1 4 0 4-5 4-9 5-6 4-2 4-3 4-3 4-5 4-5 4-6 4-9 4-12 4-14 5-13 4-12 4-8 4-4 4-3 4-1 4 3 4 6 4 10 4 10 5 9 4 9 4 7 4 5 4 6 4 4 4 4 4 6 4 6 4 4 5-1 4-4 4-3 4-1 4-2 4-4 4-6 4-6 4-4 4-1 5 2 4 8 4 8 4 7 4 6 4 5 4 3 4 2 4 2 4 2 5 3 4 3 4 3 4 3 4 4 4 2 4 0 4-3 4-4 4-5 5-5 4-5 4-6 4-4 4-4 4-5 4-8 4-9 4-9 4-7 5-7 4-10 4-9 4-6 4-4 4-3 4-1 4 4 4 5 4 7 5 7 4 11 4 12 4 13 4 10 4 8 4 5 4 8 4 7 4 5 5 2 4 2 4 3 4 4 4 4 4 2 4 1 4 0 4 1 4 0 5 1 4 1 4 0 4-1 4-1 4 1 4 3 4 1 4-1 4 0 5 1 4 1 4 2 4 2 4-1 4-5 4-5 4-4 4-1 4 1 5 0 4 2 4 2 4 3 4 1 4 1 4 0 4-1 4-1 4-1 5-1 4 0 4 1 4 0 4 0 4 1 4 0 4 2 4 4 4 2 5-3 4-3 4-1 4-2 4-2 4-1 4 0 4-2 4-6 4-4 5-2 4 0 4 0 4 1 4 2 4 1 4 3 4 4 4 3 4 0 5-1 4 0 4 2 4 2 4 0 4-1 4-1 4 0 4 3 4 3 5 1 4-1 4-1 4-1 4-2 4-2 4-3 4-2 4 3 4 4 5 2 4-1 4 0 4 2 4 1 4-1 4 0 4 0 4 3 4 2 5 1 4-3 4-1 4 2 4-1 4-3 4-3 4-2 4-2 4-1 5 1 4 1 4 4 4 3 4 1 4-1 4 0 4-2 4-5 4-5 5-4 4 0 4 2 4 2 4 1 4-1 4-3 4-3 4-1 4-4 5-4 4-2 4-2 4-3 4-2 4-1 4-1 4 0 4 0 4-3 5-5 4-1 4 3 4 6 4 4 4 0 4-7 4-7 4-6 4-1 5 1 4 3 4 5 4 5 4 3 4 2 4 3 4 4 4 4 4 4 5 4 4 3 4 0 4-1 4-1 4 1 4 4 4 2 4 0 4-1 5 1 4 1 4 1 4 1 4 1 4 1 4 0 4 0 4 0 4-2 5-1 4 1 4 4 4 3 4 2 4 1 4 0 4 1 4-1 4-5 5-6 4 0 4 2 4 3 4 1 4-2 4 0 4-1 4-1 4-1 5 1 4 2 4 2 4 0 4 0 4-1 4 0 4-1 4-3 4 0 5 6 4 5 4 0 4-2 4 0 4 0 4-2 4-2 4 1 4 2 5 1 4 0 4 0 4 1 4 1 4 0 4-2 4-4 4-4 4-1 5 3 4 3 4 2 4-1 4-2 4-1 4 0 4 1 4 2 4 2 5-1 4-2 4-2 4-2 4-1 4 1 4 2 4 1 4 1 4 1 5-1 4-4 4-4 4-4 4 0 4 3 4 4 4 3 4 1 4-3 5-1 4 1 4 3 4 2 4 1 4-1 4-4 4-5 4-4 4-1 5 1 4 3 4 2 4 2 4 0 4 0 4-1 4-3 4-1 4 1 5 1 4-1 4-3 4-2 4 0 4 0 4-1 4-1 4-2 4-3 5-6 4-5 4-2 4 0 4 1 4 1 4 0 4-2 4-5 4-3 5-3 4-2 4-4 4-5 4-4 4-3 4-2 4-1 4-2 4-4 5-3 4-3 4-2 4 1 4 4 4 5 4 4 4 3 4 4 4 2 5 0 4 0 4 3 4 5 4 6 4 8 4 7 4 5 4 2 4-1 5 0 4-3 4-3 4-2 4 2 4 4 4 4 4 1 4 0 4 0 5 1 4 3 4 3 4 3 4 1 4-1 4-2 4-4 4-3 4-1 5-1 4-2 4-2 4-4 4-7 4-9 4-9 4-7 4-6 4-7 5-8 4-6 4-6 4-5 4-3 4 1 4 6 4 9 4 10 4 10 5 10 4 8 4 4 4 4 4 6 4 6 4 5 4 3 4 1 4-1 5 0 4 0 4 1 4 2 4 1 4 2 4 0 4-1 4-3 4-1 5 2 4 3 4 4 4 4 4 3 4 2 4 1 4 1 4 1 4 2 5 0 4-2 4-3 4-3 4 0 4 0 4 0 4 1 4 0 4 0 5 0 4 0 4-2 4-3 4-4 4-2 4 0 4 4 4 6 4 2 5-2 4-2 4-2 4 0 4 2 4 1 4 4 4 4 4 2 4-1 5-4 4-2 4-1 4 0 4 2 4 1 4 1 4 2 4-3 4-5 5-3 4 1 4 2 4 0 4 1 4 1 4 0 4-3 4-4 4 1 5 3 4 2 4 2 4 2 4 2 4 0 4-3 4-5 4-3 4-1 5 1 4 2 4 3 4 1 4-1 4 0 4 2 4 1 4-1 4-5 5-4 4-2 4-1 4 1 4 1 4 4 4 2 4 0 4-3 4-1 5-1 4-2 4-2 4 0 4 0 4-3 4-2 4 0 4 3 4 3 5 0 4-3 4-3 4-1 4 1 4 2 4 0 4 0 4-2 4-2 5-1 4 2 4-1 4-2 4-2 4-2 4-1 4-1 4-1 4-2 5 1 4 4 4 2 4-2 4-4 4-4 4-3 4-1 4-1 4-1 5-1 4-3 4-1 4-1 4 0 4-2 4-4 4-6 4-3 4-1 5-2 4-3 4-1 4 2 4 1 4-1 4-2 4-2 4-1 4-2 5-1 4 0 4 3 4 1 4-3 4-1 4 2 4 3 4 4 4 1 5-1 4-2 4 0 4 0 4 0 4-1 4-2 4 1 4 1 4 2 5 3 4 4 4 5 4 7 4 4 4 0 4-3 4-3 4 1 4 6 5 6 4 4 4 2 4 1 4 1 4 1 4 0 4-2 4-2 4 1 5 4 4 5 4 1 4-2 4-2 4-1 4 1 4 2 4 1 4 0 5 1 4 1 4 2 4 1 4 0 4 0 4 0 4-1 4-1 4-1 5 0 4 1 4-1 4-1 4 1 4-3 4-6 4-6 4-2 4-2 5-1 4 1 4 3 4-1 4-5 4-7 4-3 4 1 4 4 4 1 5-3 4-6 4-4 4-1 4-2 4-3 4-2 4 2 4 4 4 3 5-1 4-1 4 1 4 2 4 2 4 1 4 1 4 2 4 2 4 2 5 2 4 2 4 3 4 2 4 2 4-2 4-2 4 0 4 2 4 2 5 2 4 3 4 3 4 1 4 0 4-1 4-2 4-2 4-1 4-3 5-5 4-4 4-2 4-1 4-1 4 1 4 2 4 0 4-2 4 0 5 2 4 2 4 0 4 3 4 7 4 8 4 5 4 1 4 1 4 1 5 2 4 3 4 3 4 2 4 3 4 2 4 1 4-2 4-3 4-1 5 3 4 2 4-1 4-3 4-2 4 0 4 2 4 0 4 0 4-1 5 0 4 0 4 1 4 1 4 1 4-1 4-1 4 1 4 0 4-1 5-1 4 1 4 1 4-1 4 0 4 2 4 0 4-2 4 1 4 2 5-1 4-3 4-4 4-2 4 0 4 2 4 2 4 1 4 0 4-2 5-4 4-5 4-3 4-4 4-6 4-4 4-1 4 0 4 2 4 1 5-3 4-4 4-2 4-1 4 0 4 0 4-1 4 1 4 3 4 5 5 5 4 1 4 0 4 3 4 5 4 5 4 4 4 4 4 0 4-2 5-1 4 0 4 1 4 0 4 2 4 1 4 0 4 2 4 2 4 1 5 1 4 2 4 0 4-2 4-3 4-1 4 1 4 1 4-1 4 0 5 1 4 1 4 0 4 0 4-1 4-1 4-1 4 2 4 2 4 0 5 0 4 0 4 0 4 0 4 2 4 2 4-1 4-3 4 0 4 1 5 1 4 0 4 0 4 0 4 2 4 2 4 1 4-2 4-3 4-3 5-1 4 1 4 1 4 0 4 0 4-1 4 0 4 2 4 0 4 0 5 2 4 2 4-2 4-5 4-5 4 0 4 0 4-3 4-4 4-1 5 0 4 0 4-1 4 0 4 0 4-1 4-2 4-2 4-3 4-1 5 1 4 1 4 0 4-2 4 1 4 1 4 0 4 0 4 0 4 2 5 0 4-2 4 2 4 4 4 5 4 2 4 2 4-1 4-3 4-4 5 1 4 2 4 1 4 0 4 1 4-1 4-1 4-1 4-1 4 2 5 2 4 3 4 4 4 1 4 1 4 3 4 3 4 0 4-3 4-3 5 1 4 1 4-2 4-4 4 0 4 4 4 3 4 1 4 2 4 3 5 4 4 0 4-3 4 1 4 5 4 2 4-4 4-6 4-4 4-2 5 0 4 3 4 4 4-1 4-4 4-3 4 1 4 1 4 0 4 1 5 3 4 4 4 3 4-2 4-6 4-6 4-3 4-1 4 2 4 3 5 4 4 2 4 0 4-1 4-1 4 1 4 3 4 2 4 1 4-2 5-4 4-2 4 0 4 0 4 0 4-1 4-2 4-1 4-1 4 1 5 1 4-2 4-3 4-3 4 0 4 2 4 3 4 4 4 4 4 1 5-2 4-3 4-2 4-3 4-2 4-2 4-2 4-1 4-1 4-3 5-1 4-1 4 0 4-1 4-3 4-6 4-5 4-3 4-4 4-6 5-7 4-7 4-8 4-7 4-5 4-5 4-5 4-4 4-1 4 1 5 1 4 0 4 2 4 3 4 6 4 9 4 10 4 11 4 8 4 6 5 5 4 4 4 2 4 3 4 3 4 2 4 3 4 4 4 3 4-1 5-2 4-1 4 0 4 1 4 3 4 2 4 3 4 4 4 4 4 1 5-2 4-2 4-1 4 1 4 1 4 0 4-2 4-3 4 0 4 0 5 1 4 1 4 1 4-2 4-2 4 0 4 1 4 3 4 2 4 4 5 2 4-1 4-1 4 0 4 1 4-3 4-4 4-3 4 0 4 1 5 1 4 0 4-1 4 0 4 1 4 0 4 0 4 0 4 0 4 0 5-1 4 0 4 1 4 0 4-1 4 1 4 2 4 2 4 1 4 0 5 1 4 0 4 0 4 0 4-1 4-3 4-4 4-4 4-3 4 2 5 3 4 3 4 2 4 1 4 0 4 1 4 1 4 1 4 0 4-3 5-3 4-1 4-1 4 1 4 2 4 2 4 2 4 1 4 2 4 0 5-1 4-1 4-1 4-1 4 1 4 2 4 1 4-3 4-2 4-1 5 1 4 0 4-2 4-2 4 2 4 4 4 2 4-1 4-2 4-2 5 0 4 2 4 4 4 3 4 0 4-3 4-4 4-1 4-1 4 0 5 2 4 2 4 0 4-4 4-4 4 0 4 2 4 3 4 1 4-4 5-4 4-1 4 3 4 2 4 1 4 2 4 2 4 1 4-2 4-1 5-1 4 1 4-1 4-2 4-2 4-2 4-1 4 1 4 3 4 2 5 1 4 1 4 3 4 1 4-3 4-4 4 0 4 2 4 1 4-2 5-2 4-2 4-3 4-2 4 1 4 4 4 4 4 3 4 1 4 1 5 2 4 1 4 0 4-1 4-3 4-4 4-4 4 0 4 1 4 2 5 2 4 3 4 0 4 0 4 0 4 0 4 0 4 0 4 1 4 0 5 0 4-1 4-1 4 0 4 0"/>
<path class="c" transform="scale(.1)" stroke="#8000ff" stroke-width="93.0" stroke-linecap="round" d="M1182 3371l4 3 4 2 4 2 4 3 5 5 4 5 4 3 4 1 4 4 4 7 4 7 4 7 4 6 4 4 5 3 4 4 4 8 4 9 4 6 4 2 4 1 4 2 4 5 4 5 5 5 4 3 4 3 4 4 4 4 4 2 4 0 4 2 4 2 4 2 5 1 4 3 4 5 4 6 4 4 4 1 4 1 4 4 4 5 4 4 5 3 4-1 4-4 4-3 4 0 4 1 4 2 4 2 4 2 4 1 5 1 4 4 4 5 4 5 4 0 4 1 4 1 4 1 4 2 4 4 5 6 4 2 4 1 4 0 4 0 4-1 4-2 4-1 4 0 4 3 5 4 4 4 4 2 4 4 4 6 4 5 4 0 4-5 4-6 4-4 5 0 4 5 4 7 4 4 4-2 4-4 4-1 4 3 4 4 4 5 5 2 4-1 4 2 4 5 4 7 4 5 4 1 4-2 4-3 4 1 5 3 4 5 4 4 4 1 4-1 4-2 4-1 4 1 4 1 4 0 5-1 4 1 4 2 4 1 4 0 4 0 4 2 4 2 4 2 4 1 5 1 4 2 4 2 4 1 4 2 4 2 4 2 4 2 4 1 4 2 5 4 4 2 4 0 4 0 4 0 4 1 4 2 4 3 4 0 4-1 5-2 4-1 4 2 4 3 4 2 4 0 4 3 4 4 4 2 4-1 5-3 4 1 4 2 4 1 4 1 4 1 4 1 4 1 4 2 4 2 5 1 4 3 4 2 4 1 4-1 4-2 4-2 4-1 4 1 4 2 5 1 4-1 4-2 4 0 4 0 4 0 4 1 4 2 4 3 4 4 5 3 4-1 4-3 4-2 4 0 4 0 4 0 4 0 4 2 4 3 5 3 4 5 4 4 4 1 4-3 4-3 4-1 4 0 4 0 4 0 5 1 4 2 4-1 4-1 4 1 4 1 4-1 4-3 4-3 4 2 5 3 4 0 4-2 4 1 4 3 4 1 4 2 4 2 4 2 4 1 5 2 4 2 4 0 4 1 4 0 4 0 4-1 4-2 4-3 4 0 5 0 4 0 4 2 4 0 4-2 4-1 4 3 4 4 4 1 4 0 5 2 4 3 4-1 4-1 4-1 4 1 4 0 4-2 4-1 4-1 5 0 4-1 4 0 4 3 4 2 4 2 4 1 4 1 4 1 4-1 5-3 4-5 4-6 4-3 4 2 4 5 4 6 4 4 4-3 4-6 5-2 4 4 4 5 4 3 4-2 4-2 4 0 4 3 4 4 4 6 5 4 4 3 4 0 4-3 4-5 4-4 4 1 4 2 4 2 4 2 5 1 4 1 4-1 4-2 4-3 4-3 4-1 4-1 4 0 4 1 5 3 4 2 4-2 4-5 4-4 4 0 4 3 4 4 4 4 4 3 5 0 4-3 4-2 4-1 4 0 4 1 4 1 4 2 4 5 4 4 5 0 4-6 4-4 4 1 4 2 4-1 4-4 4-4 4-2 4 0 5 1 4 2 4 4 4 3 4 0 4-2 4-2 4 0 4 2 4 3 5 2 4 0 4-3 4-5 4-3 4 3 4 3 4 2 4 2 4 1 5-1 4-2 4 1 4 5 4 4 4 0 4-2 4-3 4-3 4-3 5-1 4 3 4 3 4 2 4 0 4 0 4 0 4 0 4-1 4 0 5 2 4 0 4-2 4-2 4 1 4 1 4-3 4-2 4 2 4 2 5 0 4-1 4 0 4 4 4 3 4 1 4-3 4-1 4 3 4 3 5 0 4-3 4-4 4-1 4 1 4 1 4-1 4 0 4 2 4 5 5 5 4 2 4-2 4 0 4 1 4 0 4-1 4-1 4 0 4-4 5-4 4-2 4 0 4-1 4 1 4 3 4 2 4 1 4 2 4 0 5-2 4-4 4-2 4-1 4 0 4 0 4 0 4 0 4 1 4-1 5-1 4 1 4 3 4 2 4 0 4 0 4-2 4-2 4-1 4 0 5 2 4 3 4 2 4 0 4-1 4 1 4 1 4 2 4 1 4-3 5-3 4-4 4-4 4-3 4 2 4 3 4 1 4 1 4 2 4 2 5 0 4 1 4-1 4-4 4-4 4 0 4 4 4 3 4 4 4 3 5 1 4-3 4-3 4-1 4 0 4-1 4 0 4 4 4 5 4 1 5-2 4-3 4-2 4-1 4-1 4 0 4 1 4 0 4-1 4 0 5 0 4 0 4 0 4 0 4 1 4 1 4 1 4 1 4 0 4 0 5-1 4-2 4-2 4 0 4 3 4 3 4 0 4-1 4 2 4 2 5-1 4-2 4-2 4 0 4-1 4-1 4-2 4 0 4 2 4 1 5 2 4 1 4-1 4-2 4-1 4 1 4 2 4 1 4-1 4-1 5 1 4 0 4-1 4 1 4 4 4 1 4-1 4 0 4-1 4-2 5-1 4-1 4-3 4-1 4 0 4 2 4 2 4 2 4 1 4 1 5 4 4 2 4-2 4-3 4 0 4 1 4 3 4 2 4-1 4-5 5-4 4 0 4 3 4 1 4-1 4-3 4-3 4-1 4 1 4 0 5 0 4-2 4-3 4-1 4 2 4 3 4 3 4 2 4-1 4-3 5-1 4 1 4 2 4 0 4 0 4 0 4 0 4 0 4-3 4-2 5 1 4 4 4 1 4 0 4-1 4-1 4-1 4 0 4 2 4 2 5-1 4 1 4 2 4 0 4-4 4-5 4-1 4 0 4 3 4 4 5 5 4 1 4 0 4 0 4 0 4 0 4-2 4-5 4-3 4 2 5 5 4 3 4 1 4-3 4-5 4-3 4 0 4-2 4-2 4-1 5 0 4 2 4 4 4 5 4 3 4-1 4-3 4-2 4 1 4 2 5 3 4 1 4 1 4-1 4-2 4 0 4 2 4 3 4-1 4-4 5-3 4 0 4 1 4 1 4-1 4-1 4-1 4-1 4 0 4 2 5 5 4 3 4-2 4-2 4-1 4 1 4 0 4 0 4-1 4-1 5 1 4 2 4 2 4 0 4-2 4-2 4 0 4 2 4 2 4 0 5-3 4-6 4-1 4 6 4 7 4 2 4-6 4-5 4-2 4-1 5-2 4 1 4 3 4 3 4 2 4 1 4-2 4-2 4-1 4-1 5 1 4 0 4-1 4 1 4 4 4 1 4-2 4-2 4-1 4-2 5 0 4 2 4 5 4 1 4 0 4 1 4 1 4 1 4 1 4 0 5-2 4-1 4 1 4 2 4 0 4-2 4-2 4-2 4-4 4-4 5-2 4 3 4 3 4-1 4-2 4 1 4 3 4 3 4 1 4 2 5 0 4-2 4-5 4-1 4 2 4 2 4 2 4 1 4 0 4 1 5 1 4-1 4-4 4-4 4-3 4 1 4 2 4 4 4 3 4-1 5-3 4-3 4-2 4-2 4-1 4 1 4 3 4 3 4 5 4 4 5 1 4-4 4-3 4-1 4 0 4 0 4 0 4-3 4-5 4-3 5 1 4 4 4 3 4 0 4 1 4 2 4 0 4-3 4-2 4 1 5 3 4 2 4 2 4-2 4-2 4-1 4 2 4 2 4 1 4-3 5-4 4-2 4 2 4 3 4 2 4 2 4 0 4 0 4-3 4-3 5-2 4 0 4 4 4 3 4 1 4 1 4 2 4 4 4 1 4-2 5-2 4-2 4 0 4 1 4 1 4-1 4-1 4-4 4-4 4-3 5 2 4 3 4 1 4-1 4 1 4 1 4 0 4-2 4-2 4 1 5 4 4 1 4-2 4-3 4-3 4 0 4 4 4 3 4 0 4-1 5 2 4 1 4-2 4-1 4 0 4-2 4-2 4-2 4 2 4 3 5 1 4 1 4 2 4 2 4 0 4-1 4-2 4-2 4 0 4 3 5 4 4 0 4-5 4-7 4-5 4-1 4 1 4 2 4 3 4 2 5 0 4 2 4 3 4 0 4-2 4-1 4-1 4-2 4-1 4 0 5 3 4 7 4 7 4 3 4-2 4-2 4-2 4 0 4 0 4 0 5-1 4-1 4-1 4 0 4-1 4-2 4-1 4 2 4 2 4-1 5-3 4-3 4 0 4 2 4 3 4-1 4-2 4 1 4 4 4 2 5 0 4 1 4-1 4-6 4-6 4-2 4 1 4 4 4 3 4 1 5 3 4 5 4 2 4-4 4-6 4-3 4 0 4 2 4 2 4 1 5-1 4-2 4-1 4 0 4-1 4 0 4 2 4 1 4 0 4 0 5 0 4 1 4 0 4-1 4 1 4 1 4-2 4-2 4-1 4 2 5 0 4 1 4 0 4-2 4-3 4-3 4 1 4 3 4 3 4 3 5 0 4-2 4-1 4 1 4 3 4 2 4 3 4-1 4-2 4-2 5-1 4 0 4 0 4-2 4-3 4-3 4-1 4 3 4 4 4 3 5 0 4-2 4-3 4-3 4-2 4-2 4 0 4 2 4 1 4-1 5-2 4-3 4-3 4-2 4 0 4-1 4-3 4-1 4 2 4 2 5-3 4-8 4-11 4-12 4-10 4-12 4-13 4-15 4-20 4-30 5-47 4-69 4-102 4-147 4-203 4-248 4-215 4-44 4 166 4 250 5 223 4 165 4 115 4 81 4 59 4 41 4 26 4 19 4 13 4 11 5 10 4 9 4 7 4 6 4 3 4 2 4 0 4-2 4-3 4-2 5 2 4 8 4 10 4 7 4 2 4-2 4-4 4-3 4 0 4 2 5 3 4 5 4 2 4 1 4-1 4 0 4-1 4 0 4-1 4-1 5 0 4-1 4 2 4 5 4 2 4-3 4-2 4 1 4 2 4 3 5 4 4 1 4-3 4-2 4 0 4 1 4-3 4-5 4-2 4 1 5 0 4 0 4 3 4 5 4 3 4-1 4-5 4-5 4-2 4 0 5 1 4-1 4-2 4 2 4 4 4 3 4 0 4-4 4-5 4 1 5 6 4 3 4-3 4-6 4-4 4-2 4 1 4 3 4 3 4-2 5-2 4 1 4 2 4 1 4-3 4-6 4-6 4-8 4-14 4-19 5-24 4-27 4-26 4-20 4-1 4 22 4 32 4 30 4 23 4 14 5 8 4 6 4 4 4 4 4 6 4 5 4 4 4 1 4-3 4-3 5 0 4 3 4 6 4 3 4-2 4-4 4-1 4 3 4 1 4-2 5-1 4 2 4 4 4 2 4-1 4 0 4 0 4-2 4-5 4-2 5 2 4 1 4-1 4-1 4 1 4 3 4 2 4 0 4 0 4-1 5-2 4 0 4 1 4 1 4 2 4 1 4-3 4-2 4 2 4 1 5 1 4 0 4 1 4-1 4-3 4-3 4-1 4 1 4 0 4 2 5 2 4 0 4-1 4 0 4 2 4 2 4 2 4 0 4-2 4-4 5-3 4-2 4-1 4 2 4 1 4 2 4 2 4 3 4 0 4-1 5-4 4-5 4-3 4 2 4 5 4 2 4 2 4 1 4 1 4-1 5 0 4 1 4 0 4-1 4-1 4 0 4 3 4 1 4-1 4 0 5 2 4-1 4-3 4-1 4 2 4 1 4-3 4-1 4 2 4 3 5 1 4 1 4 2 4 2 4 1 4 0 4-1 4-3 4-1 4-1 5-2 4-1 4 1 4 1 4-1 4-2 4-1 4-2 4 0 4 3 5 2 4-1 4-2 4 0 4 1 4 3 4 3 4-2 4-5 4-4 5 0 4 3 4 3 4 2 4 0 4-4 4-5 4-2 4 0 4 2 5 3 4 3 4 1 4-4 4-2 4 2 4 3 4 0 4-2 4-3 5-1 4 1 4 2 4 1 4-2 4-2 4 0 4 0 4 1 4 1 5 1 4-2 4 0 4 2 4 3 4 2 4 0 4 0 4-1 4-4 5-6 4-2 4 3 4 5 4 2 4 1 4 0 4 2 4 2 4 1 5-3 4-4 4-4 4 0 4 1 4-1 4-1 4-1 4 2 4 5 5 4 4 1 4-2 4-2 4-1 4-2 4-3 4-2 4 1 4 2 5 3 4 2 4-1 4-2 4-3 4-1 4-1 4 0 4-1 4-1 5 1 4 1 4 1 4 1 4-1 4 0 4-1 4-1 4-1 4 1 5-1 4-3 4 0 4 2 4 0 4-5 4-8 4-8 4-8 4-6 5-2 4 1 4 2 4 1 4 0 4 0 4-1 4-1 4 0 4-2 5 0 4 1 4 4 4 5 4 5 4 4 4 2 4-1 4 1 4 5 5 4 4 1 4-2 4 2 4 2 4 0 4-3 4-1 4 3 4 6 5 5 4 2 4 1 4-1 4-3 4-3 4-2 4 1 4 3 4 3 5 4 4 4 4 1 4-3 4-1 4 2 4 1 4-4 4-4 4-3 5-1 4-2 4 0 4 4 4 3 4 0 4 1 4 2 4 2 4 1 5-3 4-4 4-2 4-1 4 0 4-2 4-1 4 1 4 2 4 2 5 1 4 4 4 2 4 0 4-3 4 0 4-1 4-3 4-3 4-2 5 0 4 3 4 2 4-1 4-2 4-1 4 1 4-1 4-2 4-1 5 1 4 2 4 2 4 1 4 0 4-1 4 1 4 2 4 0 4-2 5-1 4-3 4-2 4 1 4 2 4 1 4 0 4 0 4-1 4-3 5-5 4-3 4 0 4 3 4 1 4 1 4 3 4 3 4 2 4 1 5-1 4 0 4-2 4-4 4-3 4-3 4-1 4 1 4-1 4-4 5-5 4-5 4-4 4-2 4-1 4-2 4-3 4-4 4-4 4-4 5-6 4-7 4-8 4-14 4-18 4-21 4-23 4-27 4-31 4-37 5-43 4-52 4-61 4-64 4-65 4-60 4-47 4-25 4 3 4 30 5 50 4 61 4 62 4 61 4 58 4 54 4 46 4 37 4 28 4 22 5 22 4 19 4 14 4 10 4 7 4 8 4 5 4 0 4-4 4-4 5-3 4-3 4-1 4 0 4-3 4-6 4-6 4 1 4 7 4 12 5 11 4 5 4 6 4 7 4 9 4 6 4 4 4 4 4 3 4 2 5-2 4-2 4-1 4-3 4-2 4-1 4 4 4 6 4 7 4 6 5 2 4-5 4-8 4-4 4 1 4 3 4 0 4-3 4-3 4-1 5-3 4-5 4-9 4-8 4-5 4-4 4-1 4 1 4 1 4 3 5 6 4 6 4 6 4 6 4 6 4 5 4 3 4 4 4 4 4-1 5-5 4-3 4-1 4-1 4 1 4 3 4 3 4 1 4-2 4-4 5 0 4 3 4 3 4 0 4-3 4-5 4-9 4-12 4-13 4-11 5-12 4-16 4-21 4-21 4-24 4-26 4-25 4-19 4-6 4 6 5 15 4 19 4 24 4 25 4 25 4 23 4 18 4 12 4 5 4 4 5 6 4 7 4 4 4 0 4-4 4-4 4-1 4 5 4 5 4 2 5-3 4-5 4-7 4-9 4-6 4-3 4-2 4-4 4-7 4-7 5-7 4-9 4-12 4-16 4-20 4-23 4-25 4-27 4-31 4-34 5-38 4-42 4-46 4-44 4-43 4-42 4-38 4-28 4-16 4-4 5 8 4 21 4 33 4 39 4 42 4 43 4 46 4 45 4 44 4 39 5 33 4 28 4 25 4 21 4 18 4 17 4 13 4 10 4 10 4 12 5 12 4 9 4 5 4 2 4 2 4 6 4 8 4 7 4 3 4 0 5-1 4 0 4 2 4 3 4 4 4 2 4 2 4 0 4 1 4 3 5 3 4 1 4-2 4-2 4 2 4 4 4 5 4 1 4 0 4 0 5-1 4 1 4-1 4-2 4 1 4 2 4 2 4 2 4 1 4-2 5-3 4-1 4 1 4 1 4 1 4 0 4-1 4-2 4-1 4 3 5 2 4 3 4 3 4 2 4-2 4-4 4-1 4 1 4 0 4 0 5 2 4 1 4-1 4-1 4 3 4 2 4-1 4-4 4-3 4-2 5 0 4 3 4 2 4 3 4 2 4 1 4 2 4 1 4-2 4-3 5 0 4-3 4-3 4-1 4 1 4 1 4 0 4-2 4-2 4-2 5-1 4 0 4 0 4 1 4 2 4 2 4-2 4-7 4-7 4-4 5-2 4-2 4-1 4 0 4 1 4 4 4 4 4 3 4 1 4 4 5 5 4 4 4 3 4 1 4-3 4-2 4-1 4 3 4 5 4 2 5-3 4-2 4-1 4 1 4 5 4 6 4 0 4-3 4-4 4-1 5 0 4-1 4 0 4 0 4 2 4 1 4 1 4-1 4-3 4-2 5-1 4 3 4 4 4 0 4-2 4 0 4 1 4 3 4 2 4 0 5-1 4 0 4-1 4-2 4-1 4 2 4 2 4-1 4-1 4 0 5 2 4-1 4-3 4-1 4 2 4 1 4-1 4-2 4 1 4 1 5-1 4-1 4-1 4 1 4 1 4 0 4 0 4-1 4-3 4-1 5 3 4 5 4 3 4 0 4 0 4 0 4-1 4-2 4 0 4 3 5 3 4-3 4-4 4 0 4 1 4-2 4-3 4-5 4-3 4 1 5 3 4 1 4 2 4 4 4 3 4 4 4 4 4 0 4-2 4-4 5-5 4-2 4 1 4 2 4 1 4 0 4-1 4-2 4 2 4 2 5 3 4 2 4 0 4-4 4-4 4-2 4 1 4 2 4 3 4 4 5 2 4-1 4-6 4-8 4-5 4-1 4 2 4 2 4 1 4 2 5 2 4 0 4 0 4 3 4 4 4 1 4-2 4-3 4-1 4-1 5-3 4-2 4 1 4 5 4 8 4 5 4 1 4-2 4 0 4 1 5 0 4-2 4-1 4-1 4-1 4-3 4-2 4-2 4 0 4 3 5 1 4-1 4-1 4 1 4 1 4 0 4 1 4 3 4 0 4-3 5-5 4-3 4 0 4 2 4 2 4 1 4-1 4-2 4-1 4 1 5 0 4 0 4 3 4 4 4 0 4-2 4-1 4 1 4 2 4 1 5-2 4-1 4 1 4 1 4-2 4-1 4-1 4-1 4-2 4-2 5 2 4 1 4 0 4-2 4-1 4 0 4 1 4 0 4-2 4-1 5 0 4 0 4 2 4 3 4 4 4 0 4-2 4-2 4-3 4-2 5 1 4 4 4 6 4 3 4-1 4-5 4-6 4-3 4 2 4 7 5 6 4 2 4-3 4-3 4-1 4 1 4 1 4 0 4 1 4 2 5-1 4-2 4 1 4 4 4 2 4-1 4-3 4-2 4-2 4-4 5-3 4 0 4 0 4-2 4-3 4-1 4 0 4 4 4 3 4 2 5 0 4-1 4-4 4-4 4-1 4 3 4 1 4-1 4-1 4 0 5 2 4 3 4 2 4-1 4-2 4 1 4 3 4 1 4 0 4-1 5 1 4 0 4-2 4-6 4-5 4 0 4 4 4 3 4-1 4-2 5-6 4-5 4 2 4 6 4 8 4 3 4-1 4-5 4-4 4-1 5 3 4 4 4 4 4 1 4-5 4-9 4-7 4 0 4 1 4 2 5 3 4 2 4-3 4-5 4-7 4-8 4-6 4-3 4-1 4-5 5-10 4-13 4-18 4-21 4-23 4-24 4-28 4-32 4-33 4-30 5-25 4-13 4 4 4 20 4 30 4 35 4 34 4 30 4 25 4 21 5 17 4 14 4 13 4 11 4 9 4 1 4-2 4-2 4 1 4 0 5-3 4-5 4-5 4-2 4-1 4 0 4-3 4-6 4-6 4-7 5-9 4-9 4-9 4-6 4-6 4-6 4-6 4-5 4 0 4 5 5 7 4 9 4 12 4 13 4 11 4 7 4 6 4 5 4 5 4 5 5 5 4 7 4 9 4 9 4 4 4 2 4 3 4 1 4-1 4-2 5 2 4 5 4 3 4 1 4 2 4 4 4 3 4-1 4-3 4-3 5-3 4 0 4 1 4 3 4 4 4 5 4 4 4 1 4-2 4-3 5-2 4 0 4 0 4-1 4-1 4 1 4 2 4 2 4-1 4-1 5 1 4 1 4 2 4 2 4 4 4 1 4-3 4-3 4 1 4 3 5-1 4-4 4-5 4-2 4 1 4 1 4 2 4 3 4 3 4 1 5 0 4 0 4 0 4 0 4-3 4-5 4-4 4 0 4 4 4 3 5 0 4-2 4 2 4 5 4 4 4 0 4-1 4-1 4 0 4-1 5 0 4 2 4 1 4 1 4-1 4-1 4-1 4-1 4 0 4 1 5 1 4-1 4 0 4 0 4-1 4-3 4-2 4-1 4 2 4 1 5 0 4-2 4-1 4 3 4 4 4 0 4-1 4 0 4-1 4-4 5-1 4 2 4 3 4-1 4-2 4 0 4 2 4 2 4-3 4-4 5 0 4 2 4 1 4 1 4-1 4-1 4 0 4 5 4 4 4 1 5-4 4-6 4-3 4 4 4 5 4 1 4-1 4-2 4-2 4-4 5-1 4 1 4 1 4 0 4 3 4 3 4 3 4 1 4 1 4 0 5-1 4-2 4-3 4 0 4 0 4 3 4 0 4-2 4-1 4 2 5 1 4-2 4-4 4-5 4-4 4 0 4 5 4 6 4 2 4 0 5-2 4-1 4 1 4 0 4-2 4-3 4 2 4 4 4 1 4-2 5-1 4 0 4-3 4-3 4 0 4 1 4 1 4-3 4-5 4-1 5 6 4 6 4 3 4-2 4-2 4-3 4-1 4-2 4 1 4 2 5 2 4-2 4-3 4-1 4 2 4 0 4-3 4-1 4 0 4 1 5 1 4 3 4 1 4-2 4-2 4-2 4-2 4-4 4-3 4-1 5 0 4-3 4-4 4-1 4 3 4 3 4-2 4-7 4-10 4-12 5-10 4-9 4-12 4-16 4-19 4-17 4-15 4-14 4-12 4-6 5-2 4 4 4 10 4 16 4 17 4 19 4 17 4 10 4 6 4 8 5 10 4 8 4 6 4 4 4 0 4 1 4 3 4 5 4 1 4-5 5-8 4-8 4-6 4-3 4-2 4-3 4 2 4 5 4 8 4 6 5 6 4 6 4 7 4 6 4 5 4 5 4 3 4 0 4-2 4-1 5 0 4 1 4 0 4 0 4-2 4-2 4-3 4-7 4-11 4-10 5-10 4-12 4-14 4-13 4-12 4-13 4-15 4-15 4-12 4-7 5-1 4 4 4 10 4 15 4 18 4 15 4 13 4 12 4 15 4 14 5 12 4 8 4 5 4 5 4 4 4 4 4 3 4 3 4 2 4 2 5-2 4-2 4 2 4 5 4 4 4 2 4 1 4 0 4-2 4-1 5 0 4 0 4 0 4 1 4 2 4 4 4 2 4-1 4-3 4-4 5-4 4 0 4 3 4 2 4 0 4 0 4 1 4 1 4 0 4-1 5-2 4-1 4 1 4 3 4 1 4 0 4-1 4 0 4 1 4 2 5 0 4 0 4-2 4-1 4-2 4-3 4-4 4-2 4 0 4 0 5 1 4 0 4-1 4-3 4-4 4-3 4-3 4-3 4 1 4 3 5 4 4 6 4 6 4 1 4-3 4-2 4 0 4-1 4 0 4 0 5 2 4 2 4 3 4 3 4 2 4 0 4-1 4-1 4 1 4 3 5 4 4 1 4-2 4-3 4-3 4 1 4 2 4 2 4 0 4-3 5-2 4 0 4 1 4 1 4-1 4-2 4-1 4-1 4-1 4-3 5-1 4 2 4 4 4 5 4 1 4-4 4-5 4-1 4 2 4 3 5 2 4 2 4 0 4-2 4-3 4-2 4-3 4-3 4-2 4-3 5-4 4 1 4 2 4-1 4-3 4 0 4 1 4 3 4 4 4 1 5-1 4-5 4-11 4-12 4-5 4 0 4 3 4 2 4-1 4-2 5-4 4-5 4-1 4 4 4 4 4 1 4 2 4 6 4 3 4-1 5-2 4-3 4-1 4 5 4 6 4 7 4 4 4 2 4-1 4-1 5 2 4 3 4 3 4 2 4-1 4-4 4-2 4 2 4 3 4 1 5 1 4 2 4 4 4 4 4 1 4 1 4 1 4 1 4 0 4 1 5 1 4 1 4-1 4-3 4-3 4 0 4 0 4-3 4-5 4-2 5 2 4 3 4-1 4 0 4 1 4 0 4-3 4-1 4 5 4 8 5 1 4-6 4-7 4-3 4 2 4 4 4 2 4 0 4-1 4 1 5 4 4 4 4-2 4-4 4-3 4 0 4 1 4 0 4-1 4-1 5-1 4 2 4 2 4 0 4-2 4 0 4 3 4 3 4 2 4 1 5-2 4-3 4-3 4 1 4 3 4 1 4 0 4 0 4-1 4-3 5-4 4-1 4 4 4 3 4-1 4-2 4 0 4 2 4 2 4-2 5 0 4 1 4-1 4-3 4-2 4-2 4-2 4-1 4 3 4 3 5 2 4 0 4 0 4-1 4 2 4 2 4 0 4-1 4-2 4-2 5 0 4-1 4-2 4-2 4 0 4-1 4-2 4-6 4-7 4-3 5-2 4-1 4 1 4 0 4-2 4-4 4-3 4-5 4-7 4-7 5-5 4-4 4-5 4-2 4-3 4-3 4-2 4-1 4-1 4-4 5-6 4-2 4 1 4 0 4-1 4 0 4 2 4 4 4 7 4 8 5 5 4 1 4 2 4 6 4 8 4 5 4 2 4 1 4 2 4 2 5 3 4 3 4 5 4 6 4 4 4-1 4-2 4 1 4 5 4 5 5 0 4-4 4-4 4-1 4 0 4 1 4 2 4 2 4 1 4 2 5 2 4-1 4-5 4-6 4-4 4 1 4-1 4-4 4-6 4-7 5-5 4-6 4-10 4-14 4-15 4-15 4-9 4-5 4 1 4 5 5 9 4 9 4 9 4 10 4 10 4 9 4 7 4 9 4 9 4 6 5 4 4 4 4 3 4 1 4 2 4 3 4 2 4 1 4-1 4 0 5 1 4 1 4 0 4 2 4 2 4 2 4 1 4 1 4-1 4-1 5-1 4 0 4 0 4-1 4-3 4-2 4-1 4 1 4 4 4 5 5 4 4-2 4-4 4-3 4-1 4 2 4 3 4 4 4 2 4-2 5-4 4-2 4 3 4 6 4 4 4-2 4-6 4-6 4-5 4-1 5 4 4 5 4 2 4-1 4 1 4 4 4 3 4-1 4-3 4-1 5-1 4-1 4-1 4 0 4 1 4 2 4 3 4 1 4 0 4-2 5-2 4-1 4 0 4 3 4 4 4 1 4-3 4-3 4-2 4-2 5-2 4-1 4 0 4 0 4 2 4 2 4-1 4-3 4 1 4 4 5 3 4-2 4-5 4-5 4-2 4 0 4 0 4 0 4-1 4 2 5 4 4 3 4 1 4 1 4-2 4-2 4-5 4-5 4-4 4 0 5 3 4 2 4 1 4 2 4 2 4 2 4 0 4-4 4-3 4-3 5-2 4 0 4-1 4-2 4 1 4 3 4 0 4-3 4-2 4 0 5-1 4-3 4-2 4 0 4 1 4-3 4-4 4-2 4 0 4 0 5-2 4-2 4-3 4-1 4-1 4-4 4-5 4-5 4-4 4-5 5-5 4-4 4-1 4 1 4-1 4-3 4-3 4-2 4-1 4 0 5 2 4 1 4-2 4-2 4-1 4-2 4-1 4 0 4 1 4 2 5 3 4 5 4 4 4 1 4-3 4-2 4 3 4 7 4 5 4 3 5 1 4 2 4 3 4 2 4 3 4 5 4 4 4 1 4 0 4-2 5-2 4 1 4 5 4 7 4 7 4 3 4 0 4-1 4-1 4 1 5 1 4-1 4 0 4 1 4 3 4 2 4 1 4-3 4-2 4 0 5 0 4 1 4 3 4 3 4 3 4 0 4-5 4-5 4 1 4 5 5 3 4 0 4-1 4 2 4 0 4-2 4-2 4-1 4 2 4 3 5 1 4-2 4-4 4-3 4-1 4-2 4-2 4-3 4-2 4-3 5-2 4-2 4 0 4 2 4 0 4-4 4-3 4-2 4-3 4-4 5 0 4 0 4-2 4-3 4-4 4-3 4-4 4-3 4-4 4-4 5-1 4 1 4 2 4 4 4 4 4 4 4 4 4 2 4-1 4-2 5 1 4 4 4 2 4 1 4 0 4 0 4 0 4 0 4 1 4 2 5 4 4 2 4 1 4 1 4 1 4-1 4-2 4-1 4 0 4 2 5 1 4 1 4 4 4 4 4 2 4 1 4 1 4 2 4 3 4 5 5 6 4 6 4 4 4 1 4 0 4-3 4-3 4-2 4 1 4 3 5 2 4 0 4-1 4 0 4 1 4 1 4 0 4 2 4 1 4-1 5 0 4 3 4-1 4-4 4-2 4-2 4-1 4-1 4 1 4 1 5 0 4 1 4 1 4-1 4-2 4 2 4 4 4 2 4 0 4-2 5-3 4-1 4 1 4-1 4-2 4-1 4 1 4 1 4 0 4-2 5-3 4-4 4 1 4 3 4 1 4-3 4-5 4-2 4-1 4-2 5-4 4-3 4-4 4-4 4-6 4-6 4-4 4-1 4 3 4 5 5 6 4 5 4 0 4-2 4 1 4 6 4 6 4 5 4 5 4 3 5 0 4 0 4 1 4 1 4 2 4 4 4 5 4 3 4-2 4-6 5-6 4-2 4 1 4 2 4 3 4 2 4 1 4-1 4 0 4 2 5 2 4-1 4-3 4-2 4-2 4 0 4 2 4 1 4-1 4 0 5 3 4 2 4 1 4-1 4 0 4 2 4 2 4 1 4 0 4-1 5-3 4-2 4 1 4 3 4 1 4 0 4 2 4 2 4-2 4-6 5-4 4 1 4 3 4 2 4-1 4-1 4 1 4 0 4-2 4-2 5-1 4-1 4-1 4 2 4 3 4 3 4 1 4 0 4-1 4-2 5-3 4-5 4-3 4 0 4-1 4-1 4 0 4 0 4 1 4 1 5 2 4 1 4-1 4-4 4-4 4-3 4-2 4-2 4-2 4-1 5-2 4 0 4 2 4 2 4-1 4-3 4-3 4 0 4 4 4 6 5 6 4 2 4-3 4-6 4-2 4 1 4 4 4 4 4 4 4 2 5 1 4-1 4 1 4 5 4 4 4 2 4-3 4-1 4 1 4 2 5 2 4-1 4-2 4-5 4-2 4 3 4 4 4 1 4-2 4-3 5-2 4 0 4 1 4 2 4 0 4 2 4 2 4 4 4 3 4 1 5-2 4-1 4 2 4 0 4-2 4-2 4 0 4-1 4 0 4 0 5 0 4 1 4-2 4-4 4-3 4 1 4 3 4 0 4-1 4-1 5 1 4 4 4 4 4 1 4 0 4 1 4 2 4 2 4 0 4-3 5-1 4 2 4 2 4-3 4-7 4-6 4-2 4 3 4 3 4-1 5-2 4-1 4 0 4 2 4 4 4 3 4 0 4-2 4-4 4-4 5-2 4-1 4 1 4 5 4 5 4 3 4-1 4-4 4-3 4-1 5-2 4-2 4-4 4-2 4 0 4 4 4 3 4 1 4-3 4-7 5-7 4-5 4-5 4-4 4-4 4-5 4-5 4-7 4-10 4-11 5-10 4-12 4-10 4-7 4-4 4-2 4-1 4 2 4 6 4 8 5 10 4 11 4 10 4 10 4 10 4 8 4 7 4 7 4 7 4 5 5 2 4 0 4 3 4 4 4 1 4-2 4 0 4 0 4 1 4-1 5 1 4 4 4 7 4 6 4 2 4-2 4-3 4 1 4 2 4-1 5-3 4-1 4 2 4 4 4 4 4 1 4 1 4-2 4-2 4-5 5-6 4-5 4-2 4 2 4 3 4 3 4 3 4 2 4-1 4-3 5-2 4-1 4 2 4 1 4 2 4 3 4-1 4-4 4-3 4 0 5 3 4 3 4 2 4 0 4-1 4-1 4-2 4 0 4 1 4 2 5 2 4 3 4 1 4-2 4-2 4 0 4 3 4 2 4-2 4-3 5-3 4-2 4 2 4 6 4 2 4-3 4-3 4 1 4 0 4-2 5-2 4-1 4-1 4 0 4 2 4 5 4 4 4 1 4 0 4-1 5-3 4-5 4-3 4 2 4 5 4 2 4-2 4-4 4-1 4 3 5 2 4-1 4 0 4 1 4 0 4-3 4-2 4 0 4 4 4 2 5 0 4-2 4-2 4 0 4 1 4 1 4-1 4-3 4-4 4-2 5-1 4 2 4 4 4 3 4 0 4 0 4 0 4 2 4 0 4-2 5 0 4 2 4 2 4-1 4-1 4 0 4 0 4 0 4-1 4-3 5-1 4 2 4 4 4 2 4 0 4-1 4-3 4-1 4 0 4 0 5 0 4 1 4 1 4-1 4-2 4 0 4 3 4 3 4-1 4-2 5-1 4-1 4-1 4 0 4 0 4-1 4-2 4 0 4 2 4 2 5 2 4 1 4-1 4-1 4-2 4 1 4 3 4 3 4 1 4 0 5 0 4-2 4-2 4-1 4 0 4 3 4 2 4 0 4 0 4-2 5-3 4-2 4-1 4-1 4 2 4 3 4 1 4-2 4-3 4-1 5 0 4-1 4 0 4 0 4 2 4 1 4 2 4 1 4 1 4 0 5-1 4 0 4-1 4 0 4 0"/>
<path class="c" transform="scale(.1)" stroke="#800080" stroke-width="93.0" stroke-linecap="round" d="M1182 2056l4 3 4 4 4 3 4 4 5 3 4 1 4 1 4 3 4 5 4 6 4 5 4 4 4 4 4 3 5 1 4-1 4-1 4 1 4 7 4 6 4 3 4-1 4 0 4 3 5 4 4 6 4 5 4 3 4 1 4 0 4 2 4 3 4 2 4 3 5 3 4 4 4 1 4-1 4-3 4 0 4 2 4 2 4 3 4 0 5-1 4 0 4 3 4 5 4 5 4 3 4-1 4 1 4 3 4 2 5-1 4 0 4 1 4 4 4 3 4 4 4 3 4 1 4 0 4-1 5-3 4-4 4-2 4 5 4 10 4 8 4 3 4 2 4 3 4 0 5-2 4-1 4 2 4 2 4 0 4-1 4 0 4 1 4 2 4 4 5 3 4 0 4 0 4 2 4 5 4 3 4 1 4 0 4 2 4 1 5-1 4 0 4 3 4 1 4-2 4-3 4 0 4 0 4 1 4 2 5 3 4 5 4 3 4 2 4 1 4 0 4 0 4-1 4-3 4 1 5 4 4 3 4 3 4 5 4 2 4-1 4 1 4 5 4 8 4 6 5 0 4-3 4-1 4 1 4 0 4-2 4-2 4 1 4 1 4 0 5 0 4 3 4 2 4 3 4 3 4 3 4 2 4-1 4-1 4 2 5 2 4 1 4-1 4-2 4 1 4 4 4 2 4-2 4-3 4-3 5 1 4 3 4 1 4 0 4 0 4-1 4-1 4 1 4-2 4-3 5 1 4 5 4 6 4 3 4 0 4 0 4 0 4 1 4 0 4 1 5 1 4 0 4 0 4 2 4 0 4-1 4 1 4 4 4 4 4-1 5-5 4-5 4 0 4 2 4 3 4 0 4 1 4 0 4-1 4 0 5 2 4 4 4 5 4 2 4-4 4-8 4-4 4 2 4 4 4 3 5 2 4 0 4-1 4 1 4 0 4 0 4-3 4-3 4-2 4 2 5 6 4 5 4 2 4-2 4 0 4 2 4-1 4-2 4-2 4 1 5 0 4-2 4-1 4-1 4 0 4 0 4 2 4 1 4 1 4 1 5 0 4-2 4-2 4-1 4 0 4 0 4 0 4-1 4 0 4 3 5 5 4 3 4 0 4 1 4 0 4-3 4-5 4-3 4 1 4 2 5 3 4 2 4 2 4 0 4-2 4-3 4 0 4 3 4 3 4 0 5-1 4-2 4-3 4-2 4 0 4 3 4 5 4 4 4-1 4-7 5-6 4-1 4 0 4 1 4 3 4 3 4-2 4-6 4-2 4 1 5 2 4 3 4 2 4-1 4 0 4-1 4-1 4-1 4 2 4 2 5 2 4 0 4 1 4-1 4 1 4 2 4 1 4-1 4-1 4-2 5-2 4-3 4-2 4-3 4 2 4 6 4 7 4 5 4 1 4-3 5-5 4-3 4 0 4-2 4-5 4-2 4 4 4 5 4 1 4-1 5-2 4 0 4 1 4 1 4 0 4 1 4 2 4 0 4-3 4-1 5 0 4 0 4 2 4 2 4 0 4-3 4-4 4-2 4 1 4 2 5 0 4-1 4 1 4 3 4 2 4 1 4-1 4-2 4-4 4-5 5-2 4 1 4 2 4 0 4-1 4 0 4 3 4 2 4 2 4 2 5 1 4 0 4-3 4-3 4-2 4-2 4 1 4 3 4 2 4 0 5-3 4-4 4-2 4 0 4 1 4 0 4 1 4 3 4 3 4 2 5 0 4-2 4-2 4 0 4 0 4 2 4 3 4 0 4-4 4-1 5 2 4 3 4 0 4 0 4 1 4-1 4-2 4-1 4 1 4 1 5 3 4 2 4-1 4-3 4 0 4 0 4-2 4-4 4-3 4 1 5 5 4 1 4-1 4-3 4-3 4 0 4 4 4 4 4 2 4-1 5 0 4-2 4-3 4-5 4-3 4 0 4 1 4 1 4 2 4 3 5 0 4-1 4-1 4 2 4 1 4 1 4 1 4 1 4-1 4-2 5-3 4-3 4-1 4 1 4 1 4 2 4 0 4 0 4 1 4 2 5 1 4 0 4-2 4 0 4 1 4 1 4 1 4 1 4-1 4-1 5-2 4-3 4-1 4 4 4 4 4-1 4-4 4-5 4-2 4 3 5 5 4 1 4-5 4-8 4-4 4 1 4 3 4 2 4 0 4 1 5 2 4 2 4-3 4-3 4-1 4 2 4 2 4 1 4-1 4-1 5 0 4 0 4 3 4 2 4-1 4-1 4 2 4 3 4 2 4-1 5-3 4-5 4-5 4-2 4-1 4 0 4 0 4 2 4 3 4 3 5 1 4-2 4-2 4-1 4 0 4 1 4 1 4 0 4 0 4 0 5 1 4 0 4 0 4-2 4-4 4-2 4 1 4 4 4 1 4 0 5 0 4 0 4-1 4 1 4 0 4 1 4 1 4 2 4 3 4 0 5-3 4-3 4 0 4 1 4 0 4-1 4-1 4-3 4-3 4 2 5 6 4 5 4 3 4-1 4-5 4-3 4 4 4 3 4-2 4-5 5-3 4 1 4 4 4 1 4-3 4-3 4-1 4 3 4 3 4 3 5 1 4 0 4-1 4-1 4 0 4 1 4-2 4-5 4-3 4 1 5 2 4 0 4-3 4-2 4 0 4 3 4 3 4 3 4 3 4 1 5-1 4-1 4 1 4 1 4 0 4-1 4-2 4 0 4-1 4-3 5-5 4-4 4 1 4 3 4 4 4 3 4 1 4 1 4-1 4-2 5-2 4 1 4 3 4 2 4-2 4-3 4 0 4 0 4 0 4 0 5-2 4-1 4-2 4 0 4 2 4 1 4-4 4-6 4-2 4 4 5 5 4 5 4 3 4 0 4-3 4-2 4-1 4 0 4 0 4 4 5 5 4 2 4 0 4 1 4 0 4-2 4-3 4-5 4-5 4-1 5 4 4 4 4 0 4-3 4-1 4 0 4 1 4-2 4-1 4-3 5-3 4 2 4 6 4 4 4 0 4-2 4 1 4 0 4 2 4 0 5-2 4-3 4-2 4 0 4 1 4-1 4-2 4-1 4-2 4 0 5 2 4 3 4 4 4 1 4 0 4 1 4 0 4-1 4 0 4 1 5 2 4-2 4-3 4-2 4-1 4-1 4-1 4-2 4-2 4 0 5 1 4 2 4 2 4 3 4 2 4 1 4 0 4 1 4-1 4-3 5-4 4-2 4 0 4 3 4 2 4-2 4-2 4 0 4 1 4-2 5-3 4 0 4 2 4 3 4 1 4 2 4 2 4 1 4-4 4-4 5-1 4 0 4 0 4-1 4 1 4 2 4 1 4 3 4 2 4-1 5-2 4-2 4-2 4-2 4 2 4 4 4 1 4-1 4-1 4-2 5 1 4 1 4 1 4-1 4-4 4-3 4-1 4 1 4 4 4 3 5 1 4 0 4 0 4 0 4 0 4 1 4-1 4-4 4-3 4-1 5 0 4-2 4-1 4 2 4 5 4 6 4 2 4-4 4-8 4-5 5 2 4 5 4 3 4-1 4 0 4 2 4 0 4-2 4-2 4-2 5-1 4-1 4 1 4 2 4 1 4-1 4-1 4-2 4 0 4 0 5 3 4 1 4-1 4-2 4-2 4-1 4-1 4-1 4 1 4 0 5 0 4 0 4 0 4 3 4 5 4 2 4-1 4-2 4-3 4-3 5-2 4-2 4-1 4 2 4 3 4 3 4 3 4 2 4 3 4 2 5 1 4-3 4-3 4-1 4 0 4-1 4-4 4-4 4-3 4 3 5 5 4 2 4-1 4-1 4-4 4-5 4-2 4 3 4 6 4 4 5 2 4 2 4 0 4-4 4-6 4-3 4 3 4 6 4 3 4-1 5-5 4-2 4 2 4 4 4 2 4 2 4 0 4-1 4-4 4-5 5-4 4-2 4-2 4 0 4 1 4 4 4 7 4 5 4 0 4-3 5-3 4 0 4 1 4 0 4-1 4 1 4 3 4 0 4-1 4 1 5 0 4-3 4-4 4-3 4 0 4 2 4 0 4-1 4 0 4 2 5-1 4-3 4-4 4-1 4 3 4 5 4 5 4 4 4 1 4 0 5 0 4 0 4-3 4-5 4-3 4 0 4 1 4-1 4 0 4-1 5-3 4-3 4 1 4 1 4 2 4 5 4 5 4 1 4-2 4-1 5 1 4 3 4-1 4-4 4-5 4-3 4-1 4-1 4-2 4-2 5-1 4 3 4 4 4 2 4 0 4 0 4 1 4 2 4 1 4-2 5-1 4 0 4-1 4 0 4 0 4 1 4 1 4 0 4-1 4-2 5-1 4-1 4 0 4 0 4-2 4 0 4 0 4 3 4 4 4 3 5 3 4 0 4-3 4-5 4-2 4 2 4 0 4-1 4-1 4-3 5-1 4-1 4-1 4-1 4 4 4 3 4 1 4-2 4-1 4 1 5 1 4 0 4 0 4 0 4 0 4-2 4-2 4 1 4 1 4 1 5 0 4-2 4-1 4 3 4 3 4 2 4 0 4 1 4 1 4 1 5-1 4 1 4 1 4 0 4-3 4-2 4 0 4 1 4 0 4 0 5 0 4 2 4 2 4-2 4-4 4-4 4 0 4 0 4 2 4 4 5 1 4-4 4-6 4-1 4 1 4 4 4 3 4 1 4 1 4 1 5 0 4 0 4-2 4-3 4-5 4-3 4 2 4 6 4 3 4 0 5-4 4-1 4 1 4-1 4 0 4 0 4 2 4 0 4 0 4 2 5 3 4 2 4-2 4-3 4-3 4 1 4 2 4 1 4-1 4-3 5-6 4-4 4 3 4 5 4 1 4-1 4 0 4 0 4-2 4-1 5 2 4 5 4 1 4 0 4 2 4 2 4-3 4-7 4-6 4-1 5 1 4 3 4 2 4 0 4-2 4-3 4 0 4 3 4 4 4 3 5 0 4-4 4-1 4 1 4 2 4-2 4-2 4 0 4-1 4-2 5-2 4 0 4 3 4 3 4 3 4 2 4 1 4-3 4-6 4-3 5 1 4 2 4 0 4 1 4 3 4 5 4 2 4-3 4-5 4 0 5 2 4 2 4 1 4 1 4-2 4-3 4-1 4-1 4-1 4 1 5 3 4 5 4 0 4-5 4-4 4-1 4 0 4 1 4 3 4 2 5-2 4-1 4 2 4 1 4-2 4-3 4-2 4 0 4 2 4 0 5 0 4 2 4 1 4-2 4-2 4-2 4-3 4-2 4 0 4 4 5 5 4 6 4 3 4-1 4-1 4 0 4 5 4 2 4-4 4-6 5-5 4-3 4-2 4-2 4 1 4 4 4 4 4 3 4 2 4 0 5-4 4-4 4-2 4 0 4 1 4 1 4 1 4-1 4-2 4 0 5 2 4 0 4-3 4-4 4-1 4 3 4 4 4 3 4 0 4-1 5 0 4-2 4-3 4-1 4 0 4 1 4 2 4 3 4 2 4 0 5 0 4 1 4 0 4-1 4 0 4 0 4 0 4 0 4-1 4 0 5-2 4-1 4-1 4-1 4 0 4 3 4 2 4-1 4-3 4 1 5 2 4 0 4-1 4-2 4 0 4 3 4 3 4-2 4-4 4-2 5 0 4 2 4 0 4-3 4-3 4 1 4 1 4-1 4-1 4 0 5 3 4 0 4-1 4 0 4 3 4 4 4 2 4-1 4-2 4-2 5-2 4-3 4-3 4 1 4 5 4 3 4 1 4 0 4 0 4-1 5 0 4 1 4 1 4-2 4-1 4-1 4 1 4 4 4 3 4 0 5-3 4-6 4-4 4-2 4 0 4 2 4 2 4-1 4-1 4-2 5 0 4 0 4 2 4 3 4 3 4 3 4 3 4 3 4-2 4-4 5-2 4-4 4-4 4-1 4-2 4-1 4 0 4-2 4-3 4-1 5 2 4 4 4 2 4 1 4 3 4 1 4 0 4 0 4 3 4 1 5-2 4-3 4-4 4-5 4-3 4 2 4 4 4 1 4-2 4-2 5-3 4 0 4 1 4 1 4-1 4-3 4-2 4-1 4 1 4 2 5 1 4-2 4-3 4-4 4-3 4-2 4-3 4-1 4 1 4-2 5-7 4-6 4-3 4 1 4 2 4-2 4-9 4-11 4-9 4-4 5-2 4-3 4-6 4-5 4-4 4-3 4-4 4-4 4-2 4 4 5 4 4 1 4-2 4 1 4 2 4 3 4 5 4 6 4 5 4 5 5 4 4 2 4 3 4 7 4 8 4 6 4 5 4 3 4 1 4-2 5-3 4 1 4 3 4 2 4 1 4 1 4 2 4 4 4 5 4 0 5-1 4-1 4 0 4 2 4 4 4 3 4 3 4 2 4 1 4 0 5 0 4 0 4-5 4-5 4-1 4 3 4 4 4 4 4 2 4-2 5-5 4-4 4 0 4 2 4 0 4-2 4-3 4 0 4-1 4 0 5 0 4 1 4 0 4 1 4-1 4-3 4-5 4-4 4 1 4 2 5 3 4 1 4 0 4-3 4-4 4-1 4 1 4 2 4 2 4-1 5-4 4-3 4-1 4 1 4-1 4-1 4-1 4-3 4-5 4-5 5-2 4 0 4 0 4-2 4-2 4 0 4 0 4-1 4-2 4-2 5-3 4-1 4 0 4-1 4-4 4-5 4-3 4-4 4-5 4-5 5-4 4-4 4-5 4-3 4-2 4-4 4-6 4-10 4-10 4-9 5-10 4-15 4-16 4-14 4-12 4-13 4-17 4-21 4-19 4-19 5-23 4-30 4-35 4-38 4-38 4-39 4-44 4-51 4-56 4-60 5-63 4-67 4-67 4-67 4-66 4-65 4-63 4-63 4-55 4-40 5-22 4-8 4 5 4 19 4 35 4 47 4 55 4 61 4 68 4 69 5 70 4 69 4 67 4 60 4 55 4 52 4 48 4 44 4 38 4 35 5 32 4 30 4 28 4 27 4 20 4 13 4 9 4 11 4 11 4 11 5 11 4 9 4 5 4 1 4 0 4-1 4-1 4 1 4 1 4 0 5-2 4-1 4 0 4 2 4 3 4 1 4-1 4 2 4 4 4 4 5 3 4 4 4 5 4 5 4 7 4 11 4 8 4 4 4 3 4 5 5 6 4 5 4 7 4 10 4 10 4 7 4 5 4 3 4-1 4-6 5-1 4 6 4 8 4 6 4 5 4 5 4 2 4-1 4-1 4 0 5-2 4 1 4 4 4 5 4 1 4-2 4 1 4 3 4 4 4 0 5-5 4-4 4 1 4 1 4 0 4-3 4-4 4-3 4-4 4-1 5 1 4-2 4-5 4-6 4-1 4 2 4 1 4-2 4-3 4-3 5-3 4-4 4-5 4-4 4-3 4-6 4-7 4-8 4-5 4-3 5-6 4-10 4-10 4-6 4-6 4-7 4-12 4-18 4-20 4-20 5-20 4-23 4-22 4-22 4-22 4-24 4-25 4-27 4-29 4-30 5-34 4-38 4-38 4-36 4-39 4-44 4-46 4-43 4-41 4-39 5-36 4-34 4-32 4-31 4-28 4-24 4-20 4-15 4-8 4-3 5-2 4 0 4 7 4 15 4 23 4 32 4 40 4 44 4 46 4 49 5 50 4 50 4 50 4 47 4 43 4 40 4 39 4 38 4 37 4 35 5 35 4 33 4 31 4 28 4 25 4 24 4 21 4 20 4 18 4 17 5 18 4 18 4 15 4 14 4 15 4 13 4 7 4 4 4 5 4 6 5 7 4 7 4 8 4 6 4 6 4 5 4 5 4 4 4 5 4 5 5 3 4 2 4 1 4 1 4 0 4-1 4 0 4 3 4 5 4 5 5 2 4 2 4 2 4 1 4-1 4 0 4 0 4 1 4 3 4 2 5 1 4-1 4-2 4-1 4 1 4 3 4 4 4 1 4-2 4 1 5 5 4 4 4-1 4-1 4 1 4 2 4 1 4-2 4-2 4-3 5-1 4 0 4 1 4 4 4 5 4 4 4 0 4-2 4-2 4-3 5-2 4 0 4 2 4 3 4 0 4-1 4 1 4 2 4 2 4-1 5-2 4 1 4 2 4 3 4 3 4 1 4-2 4-1 4-1 4-2 5-4 4-4 4-1 4 2 4 6 4 4 4 2 4-1 4-2 4-1 5 0 4 1 4-1 4-2 4-3 4-1 4 2 4 1 4 1 4 0 5 1 4-1 4 0 4 0 4-1 4-1 4 1 4 0 4-3 4-4 5-2 4 0 4 0 4 2 4 2 4-1 4-4 4-3 4-2 4-1 5-1 4 1 4 0 4-3 4-1 4 3 4 3 4 2 4 1 4 0 5-1 4-2 4-3 4 1 4 3 4 1 4-1 4-3 4-4 4-2 5 2 4 1 4 1 4 0 4 1 4-1 4 0 4 2 4 4 4 3 5-1 4-4 4-4 4-3 4-1 4 3 4 4 4 5 4 4 4 1 5 0 4-1 4-1 4 2 4 4 4 2 4 2 4 0 4-2 4-1 5 1 4 3 4 5 4 3 4-2 4-4 4-4 4-3 4-2 4 2 5 2 4-1 4-2 4 2 4 3 4 1 4 2 4 4 4 5 4 3 5 1 4-1 4-1 4-2 4-1 4 0 4 0 4-1 4 0 4 0 5 1 4 0 4-1 4 1 4 0 4 1 4 1 4 1 4 1 4-1 5 0 4-1 4-1 4-1 4 0 4-1 4-1 4-1 4-2 4-3 5-1 4 2 4 3 4 4 4 2 4 1 4 0 4 0 4-3 4-5 5-3 4 1 4 2 4 2 4 0 4 0 4-1 4-1 4-1 4-1 5-1 4 2 4 3 4 4 4 3 4 0 4-3 4-3 4-2 4 1 5 4 4 5 4 2 4-3 4-4 4-2 4-3 4-1 4-2 4 0 5 2 4 2 4 3 4 6 4 6 4 5 4 1 4-3 4-6 4-4 5-3 4-1 4-1 4 0 4-1 4-2 4-1 4 0 4 3 4 3 5 1 4-1 4-1 4 2 4 2 4 1 4 0 4-1 4 1 4-1 5-2 4-3 4-3 4-3 4-1 4 1 4 6 4 3 4 1 4 0 5 1 4-3 4-3 4 2 4 5 4 2 4 0 4-2 4-3 4-2 5 0 4-1 4-3 4-2 4 2 4 6 4 5 4 2 4-1 4-3 5-3 4-1 4 2 4 4 4 4 4 0 4-2 4-1 4 1 4-2 5-6 4-7 4-2 4 2 4 5 4 5 4 3 4-1 4-5 4-6 5-5 4-3 4 0 4 0 4 1 4 2 4 3 4 3 4 0 4-3 5-1 4 0 4 1 4 1 4 1 4 1 4 1 4 0 4 1 4 0 5-2 4-3 4 0 4 1 4 0 4 0 4 2 4 3 4 1 4 0 5-3 4-3 4-2 4-2 4-2 4 0 4 2 4 3 4 3 4 0 5-2 4-4 4-2 4 0 4 1 4 2 4 1 4 0 4-1 4-2 5-2 4-2 4-3 4-2 4 2 4 2 4 1 4-3 4-3 4 0 5 4 4 4 4 2 4-1 4-1 4 1 4 1 4 0 4-4 4-6 5-4 4-2 4 0 4-1 4 1 4-1 4-2 4-6 4-3 4 1 5 2 4 0 4-2 4-4 4-4 4-3 4-1 4-1 4 1 4 0 5-3 4-4 4-3 4-6 4-6 4-7 4-5 4-2 4 0 4-2 5-7 4-10 4-11 4-11 4-8 4-8 4-6 4-5 4-5 4-8 5-11 4-10 4-8 4-7 4-7 4-8 4-9 4-12 4-14 4-12 5-7 4 0 4 5 4 2 4-3 4-1 4 1 4 2 4 5 4 8 5 8 4 5 4 6 4 9 4 13 4 10 4 6 4 6 4 7 4 9 5 13 4 13 4 9 4 4 4 4 4 7 4 11 4 12 4 9 4 6 5 4 4 4 4 5 4 2 4 1 4-1 4 2 4 5 4 4 4 3 5 3 4 5 4 3 4-1 4-1 4 1 4 4 4 5 4 4 4 1 5-1 4 2 4 6 4 5 4 2 4-4 4-3 4 2 4 2 4-2 5-1 4 1 4 4 4 4 4 2 4-1 4-2 4-1 4 4 4 3 5 2 4 1 4-2 4-4 4 0 4 3 4 3 4 1 4 2 4 2 5 2 4 1 4-2 4-1 4 0 4 3 4 1 4 0 4-2 4-1 5-2 4-2 4 0 4-2 4-2 4 0 4 2 4 2 4 0 4-1 5 0 4 2 4 2 4 1 4 1 4 2 4 2 4 2 4 0 4-2 5-1 4 2 4 1 4-1 4-4 4-3 4-4 4-2 4 0 4 2 5 1 4 3 4 5 4 2 4-1 4-3 4-4 4-3 4-1 4-1 5-1 4 0 4 0 4 4 4 7 4 7 4 2 4-4 4-7 4-6 5-2 4 3 4 5 4 2 4 1 4 0 4 0 4-1 4-1 4 1 5 0 4 0 4 0 4-1 4-3 4-4 4-1 4 1 4 2 4 1 5-1 4 0 4-2 4 0 4 2 4 2 4 0 4-2 4-3 4-2 5 1 4 3 4 2 4 2 4 0 4-1 4-1 4-3 4-3 4-2 5 0 4 2 4 4 4 3 4 0 4-2 4-1 4 1 4 1 4 2 5 1 4-2 4-3 4-2 4 0 4 0 4 1 4 2 4 0 4-3 5-6 4-6 4-2 4 2 4 4 4 4 4-3 4-7 4-8 4-6 5-2 4 2 4 3 4 1 4-1 4-1 4-2 4-2 4-3 4-4 5-4 4-3 4-3 4-2 4 0 4 2 4 1 4 1 4-2 4-4 5-4 4-3 4-2 4 0 4 2 4 5 4 3 4 0 4-2 4-1 5 0 4 0 4-2 4-2 4 0 4 1 4 2 4 1 4 0 4-2 5 0 4 5 4 6 4 6 4 2 4-2 4-2 4 3 4 4 4 2 5-2 4-4 4-2 4 3 4 5 4 7 4 6 4 3 4 2 4 0 5-2 4-2 4 0 4 2 4 4 4 2 4 0 4-2 4 1 4 0 5-2 4-2 4 1 4 6 4 6 4 2 4 0 4 2 4 1 4-1 5-1 4-4 4-3 4 1 4 5 4 5 4 3 4 1 4-1 4-2 5-4 4 0 4 4 4 4 4-2 4-5 4-4 4-2 4 2 4 6 5 4 4 0 4-3 4-2 4-3 4-3 4-2 4-1 4 0 4 0 5 3 4 3 4 1 4-1 4 0 4 2 4 1 4-1 4 2 4 3 5 2 4 0 4 1 4-1 4-2 4-3 4-2 4 1 4 4 4 3 5 0 4 0 4 0 4-5 4-6 4-3 4 2 4 4 4 3 4-1 5-3 4 1 4 3 4 2 4-2 4-1 4-1 4-1 4-2 4 1 5 2 4 2 4 0 4-2 4-3 4-3 4-3 4 2 4 5 4 4 5 0 4-4 4-2 4 2 4 6 4 3 4 0 4-4 4-3 4 0 5 0 4-2 4-2 4 0 4 2 4 3 4 0 4 0 4 0 4-1 5-1 4-1 4-3 4-1 4 4 4 2 4-2 4-4 4 0 4-1 5-2 4 0 4-1 4-1 4-1 4 1 4 0 4-1 4 1 4 2 5 1 4-1 4 0 4-1 4-1 4-1 4-2 4 1 4 2 4-1 5-4 4-3 4 0 4 3 4 4 4 3 4-2 4-3 4-3 4 0 5 0 4-1 4-5 4-6 4-5 4-1 4 1 4 1 4-3 4-4 5-3 4 0 4 3 4 1 4-4 4-3 4-3 4-3 4-3 4-3 5-3 4-2 4-2 4 0 4-1 4-3 4-3 4-4 4-5 4-6 5-4 4-2 4-2 4-2 4-1 4-2 4-2 4-3 4-4 4-2 5-1 4-2 4-5 4-4 4 2 4 4 4 3 4 0 4-2 4-1 5 1 4 5 4 8 4 4 4 0 4 1 4 4 4 4 4 2 4 1 5 3 4 6 4 4 4 1 4 3 4 4 4 1 4 1 4 3 4 5 5 6 4 4 4-2 4-6 4-3 4 4 4 6 4 7 4 2 4 0 5 0 4 0 4 1 4 1 4 2 4 0 4-3 4-3 4 0 4 1 5 1 4 4 4 5 4 2 4 0 4 3 4 5 4 4 4 0 4-3 5-1 4 2 4 3 4 1 4-2 4-3 4-2 4 0 4 3 4 2 5 0 4 1 4-2 4-2 4 0 4 4 4 3 4 0 4-1 4 1 5 0 4-1 4-3 4-3 4 0 4 1 4 1 4 1 4 2 4 1 5-3 4-5 4-2 4-1 4 3 4 4 4 3 4 0 4 0 4 1 5 1 4-3 4-3 4-2 4-2 4 1 4 1 4 1 4 0 4 1 5 1 4-1 4-1 4-1 4-3 4-3 4-1 4 2 4 2 4 3 5 0 4-3 4-5 4-4 4-2 4-2 4-2 4-4 4-6 4-2 5 2 4 1 4-5 4-7 4-4 4-2 4-2 4-3 4-5 4-4 5-4 4-3 4-5 4-7 4-7 4-6 4-3 4-2 4-4 4-8 5-9 4-4 4-2 4-3 4-4 4-4 4-6 4-8 4-6 4-3 5-2 4-2 4-2 4-3 4-3 4-2 4-3 4-5 4-3 4 0 5 3 4 4 4 3 4 3 4 4 4 6 4 6 4 4 4 3 4 0 5 0 4 4 4 7 4 7 4 6 4 4 4 2 4 1 4 2 4 9 5 12 4 6 4 3 4 2 4 5 4 7 4 4 4-1 4 1 4 6 5 10 4 7 4 4 4 3 4 1 4-2 4 0 4 3 4 8 4 5 5 3 4 1 4 0 4 0 4 0 4 2 4 2 4 0 4-2 4-1 5 1 4 5 4 5 4 2 4 1 4-1 4 0 4 1 4 3 4 0 5-3 4-3 4 2 4 7 4 4 4-1 4 0 4-1 4-1 4-3 5-1 4 0 4 3 4 3 4 3 4-1 4-3 4-2 4 0 4 0 5 1 4 1 4-3 4-5 4-3 4 2 4 2 4 1 4 1 4 2 5 2 4 1 4 1 4 0 4 2 4 0 4-1 4-1 4 0 4-1 5-2 4 0 4 0 4 0 4-3 4-2 4 2 4 5 4 5 4 1 5-1 4-2 4-1 4 0 4 1 4 1 4 0 4-2 4-2 4 0 5 2 4 3 4-2 4-6 4-4 4 0 4 1 4-1 4-4 4-3 5 0 4 6 4 5 4 1 4-1 4 1 4 0 4-2 4-2 4-2 5-1 4-1 4-1 4 0 4 2 4 2 4 0 4-3 4-2 4-4 5-4 4-2 4 2 4 3 4 0 4-2 4-3 4-2 4-1 4 0 5-1 4-3 4-1 4 3 4 2 4-2 4-2 4-2 4-3 4-3 5-1 4 0 4-1 4-1 4-4 4-2 4 0 4 1 4 0 4-1 5 0 4-1 4-3 4-6 4-5 4-2 4-1 4-3 4-3 4-1 5 0 4-1 4-1 4-2 4-5 4-7 4-9 4-7 4-4 4 0 5 2 4 0 4-4 4-6 4-3 4 1 4 2 4-2 4-6 4-7 5-3 4-2 4-3 4-4 4-4 4-4 4-6 4-6 4-2 4 0 5 1 4-2 4-3 4-1 4 1 4 1 4 0 4-1 4-1 4-1 5-1 4-2 4-4 4-5 4-2 4 3 4 5 4 4 4 2 4-2 5-2 4-1 4 3 4 4 4 3 4 1 4 1 4 4 4 6 4 4 5 1 4-2 4 1 4 2 4 2 4-1 4 1 4 5 4 8 4 9 5 4 4-1 4-1 4 0 4 2 4 2 4 1 4 1 4 2 4 5 5 5 4 3 4 4 4 3 4 4 4 4 4 2 4 0 4-1 4-2 5 0 4 0 4-2 4-2 4 0 4 4 4 7 4 6 4 3 4-2 5-4 4-4 4-3 4-3 4-2 4-1 4-1 4-3 4-2 4 1 5 1 4-1 4-4 4-5 4-6 4-7 4-5 4-4 4-5 4-6 5-6 4-6 4-7 4-5 4-2 4-1 4-3 4-2 4 0 4 0 5 0 4-1 4 1 4 2 4 1 4 0 4 0 4 4 4 7 4 9 5 7 4 5 4 5 4 8 4 7 4 6 4 3 4 1 4 4 4 7 5 8 4 5 4 3 4 0 4 0 4 2 4 5 4 9 4 12 4 8 5 4 4 3 4 3 4 0 4 0 4 4 4 5 4 4 4 1 4 3 5 4 4 0 4-1 4-1 4 2 4 1 4 0 4 0 4 1 4 1 5 0 4 2 4 4 4 2 4-4 4-4 4 1 4 3 4 2 4 2 5 0 4-1 4 1 4 2 4 0 4-3 4 0 4 1 4 2 4 0 5 0 4-2 4-1 4 2 4 4 4 5 4 2 4-3 4-4 4-1 5 2 4 1 4-2 4-4 4-5 4 0 4 4 4 5 4 4 4 1 5-2 4-3 4-1 4-1 4 0 4-1 4 1 4 1 4 2 4 2 5 3 4 0 4-2 4-2 4-2 4 0 4 3 4 3 4 2 4 2 5 1 4-2 4-5 4-4 4-2 4-2 4-2 4-1 4 1 4 3 5 5 4 3 4-1 4-6 4-4 4 0 4 4 4 4 4 1 4-1 5-1 4-2 4-1 4 0 4 2 4 0 4-2 4-2 4-1 4-1 5 0 4 1 4 3 4 4 4 3 4 4 4 4 4 2 4-2 4-2 5-2 4-1 4-1 4-1 4-1 4-2 4-2 4 0 4 0 4 0 5-2 4-1 4 1 4 2 4-1 4-2 4-1 4 0 4 2 4 2 5 1 4-1 4-1 4-1 4 1 4 2 4-1 4-2 4-3 4-2 5-1 4 0 4-1 4 1 4-1 4-2 4-1 4 1 4 3 4 1 5-2 4-4 4-4 4-2 4-2 4-2 4-2 4-3 4-1 4 1 5 2 4 1 4-1 4-1 4-1 4-3 4-5 4-6 4-6 4-3 5-1 4 0 4-1 4-1 4 0 4 0 4-1 4 0 4-1 4-2 5-3 4 0 4 3 4 4 4 2 4 0 4-2 4-2 4-1 4 2 5 4 4 4 4 3 4 1 4 0 4 3 4 4 4 3 4 0 4 0 5 1 4 2 4 0 4-1 4-2 4 0 4 1 4 2 4 3 4 6 5 5 4 3 4 2 4 1 4 0 4-2 4-1 4 2 4 3 4 0 5-1 4 0 4 2 4 0 4-3 4-1 4 2 4 1 4-1 4-1 5 2 4 1 4 1 4 0 4 0 4 0 4 2 4 4 4 4 4 2 5-2 4-4 4-2 4 0 4 1 4 0 4 1 4 2 4-1 4-3 5-4 4-2 4 0 4 3 4 3 4 1 4 0 4-1 4-3 4-3 5-1 4 2 4 1 4-1 4-2 4 1 4 3 4 2 4 1 4-1 5-2 4 0 4 0 4-1 4-2 4-2 4-1 4-2 4-2 4 2 5 1 4-3 4-7 4-4 4-1 4 0 4-4 4-7 4-4 4 2 5 2 4-4 4-6 4-3 4 1 4 1 4 1 4-2 4-5 4-5 5-5 4-3 4 0 4 2 4-1 4-2 4-3 4-5 4-5 4-3 5 1 4 2 4 0 4-5 4-5 4-1 4 5 4 4 4 1 4-2 5 1 4 3 4 4 4 2 4 0 4 1 4 1 4 0 4 4 4 6 5 7 4 5 4 3 4 1 4 1 4 3 4 2 4 2 4 2 4 1 5 0 4 1 4 5 4 4 4 3 4 1 4 3 4 2 4 2 4 1 5-1 4-1 4 3 4 4 4 2 4 0 4-1 4 1 4 0 4 1 5 0 4 0 4-2 4-3 4 1 4 5 4 3 4-1 4-3 4-1 5 5 4 5 4 2 4-2 4-4 4 1 4 4 4 4 4 0 4-2 5-3 4-4 4-3 4-1 4 0 4-2 4 1 4 1 4 2 4 0 5 1 4 1 4 1 4-1 4 1 4 2 4 1 4-1 4-3 4 1 5 7 4 7 4 0 4-5 4-4 4-2 4-1 4 0 4-1 4 0 5 0 4-3 4-3 4 2 4 5 4 2 4 0 4 1 4 3 4 1 5-3 4-5 4-1 4 2 4 1 4 0 4 1 4 1 4-1 4 1 5 1 4 2 4 1 4-1 4-3 4-1 4-2 4-5 4-5 4-1 5 3 4 4 4 4 4 3 4 2 4 0 4 2 4 2 4 0 4-2 5-3 4-2 4 0 4 3 4 3 4 1 4-3 4-3 4-3 4-2 5-2 4 1 4 1 4-1 4 0 4 3 4 2 4-1 4-2 4-2 5 1 4 5 4 7 4 5 4 0 4-1 4-1 4-2 4-4 4-3 5-4 4 0 4 5 4 4 4-2 4-4 4-2 4-2 4-4 4-3 5-1 4 0 4 3 4 6 4 5 4 2 4-2 4-3 4-3 4-1 5 2 4 5 4 4 4-1 4-4 4-3 4 0 4 0 4 0 4-1 5-1 4 1 4 1 4 0 4 0 4 0 4 3 4 3 4 1 4-1 5-3 4-3 4-1 4 1 4 1 4 1 4 0 4 2 4 3 4 0 5-1 4-3 4-3 4-2 4-1 4 1 4 3 4 2 4 1 4-1 5-1 4 0 4 0 4 0 4 0"/>
</g>
<g stroke="#000" stroke-width="3.4" stroke-dasharray="13 15.17" fill="none">
<line x1="542.4" y1="34.1" x2="542.4" y2="1230.6"/>
<line x1="584.8" y1="30.8" x2="584.8" y2="1227.2"/>
<line x1="779.7" y1="32.2" x2="779.7" y2="1228.2"/>
<line x1="797.9" y1="33.3" x2="797.9" y2="1229.6"/>
<line x1="1004.6" y1="36.0" x2="1004.6" y2="1232.3"/>
<line x1="1127.3" y1="30.2" x2="1127.3" y2="1226.5"/>
<line x1="1152.8" y1="30.2" x2="1152.8" y2="1226.5"/>
<line x1="1304.2" y1="30.2" x2="1304.2" y2="1226.5"/>
<line x1="1426.7" y1="33.2" x2="1426.7" y2="1230.0"/>
<line x1="1460.3" y1="32.1" x2="1460.3" y2="1228.2"/>
<line x1="1555.4" y1="33.6" x2="1555.4" y2="1230.0"/>
</g>
<g stroke="#000" stroke-width="3.3" fill="none">
<line x1="685.3" y1="29.7" x2="685.3" y2="1252.4"/>
<line x1="748.1" y1="30.2" x2="748.1" y2="1254.1"/>
<line x1="813.9" y1="30.6" x2="815.1" y2="1242.4"/>
<line x1="1021.4" y1="37.4" x2="1019.8" y2="1244.0"/>
<line x1="1218.3" y1="27.9" x2="1217.6" y2="1251.8"/>
<line x1="1282.0" y1="29.7" x2="1281.9" y2="1251.8"/>
<line x1="1378.4" y1="27.5" x2="1378.1" y2="1250.8"/>
<line x1="1411.8" y1="33.0" x2="1411.7" y2="1255.8"/>
</g>
<g font-size="53.7" text-anchor="middle">
<text transform="translate(219.1 1324.3) scale(0.955 1)" dx="2.1 -2.1">10</text>
<text transform="translate(424.7 1324.3) scale(0.955 1)">20</text>
<text transform="translate(629.3 1324.3) scale(0.955 1)">30</text>
<text transform="translate(833.8 1324.3) scale(0.955 1)">40</text>
<text transform="translate(1038.4 1324.3) scale(0.955 1)">50</text>
<text transform="translate(1243.0 1324.3) scale(0.955 1)">60</text>
<text transform="translate(1447.5 1324.3) scale(0.955 1)">70</text>
<text transform="translate(1652.1 1324.3) scale(0.955 1)">80</text>
</g>
<rect x="196" y="1318" width="9.2" height="7" fill="#fff"/><rect x="212.6" y="1318" width="8.6" height="7" fill="#fff"/>
<text transform="translate(793.2 1397.2) scale(1.000 1)" font-size="67.6">2Theta(degree)</text>
<text transform="translate(75.1 912.0) rotate(-90) scale(1.000 1)" font-size="70.0">Intensity(a.u.)</text>
<g font-size="63.5">
<text transform="translate(1664.4 252.4) scale(1.030 1)">h</text>
<text transform="translate(1661.7 385.0) scale(1.025 1)">g</text>
<text transform="translate(1669.6 488.1) scale(1.100 1)">f</text>
<text transform="translate(1663.9 611.8) scale(1.040 1)">e</text>
<text transform="translate(1669.5 722.5) scale(1.030 1)">d</text>
<text transform="translate(1669.5 863.7) scale(1.030 1)">c</text>
<text transform="translate(1669.9 1063.0) scale(1.000 1)">b</text>
<text transform="translate(1667.3 1212.5) scale(0.915 1)">a</text>
</g>
</svg></body></html>
